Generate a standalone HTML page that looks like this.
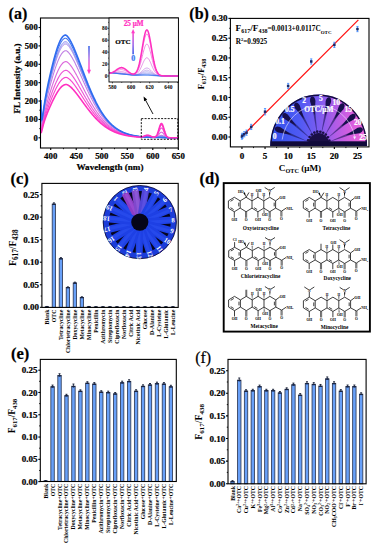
<!DOCTYPE html>
<html><head><meta charset="utf-8"><style>
html,body{margin:0;padding:0;background:#fff;width:378px;height:550px;overflow:hidden;}
svg{display:block;}
text{font-family:"Liberation Serif", serif;}
.tk text, text.tk{stroke:#000;stroke-width:0.25px;}
</style></head><body>
<svg width="378" height="550" viewBox="0 0 378 550">
<defs>
<linearGradient id="garr" x1="0" y1="0" x2="0" y2="1"><stop offset="0" stop-color="#3060e8"/><stop offset="0.5" stop-color="#b070e6"/><stop offset="0.8" stop-color="#ff50d0"/><stop offset="1" stop-color="#ff3ec8"/></linearGradient>
<linearGradient id="garr2" x1="0" y1="1" x2="0" y2="0"><stop offset="0" stop-color="#2a50e8"/><stop offset="0.45" stop-color="#9a60e8"/><stop offset="1" stop-color="#ff3ec8"/></linearGradient>
<clipPath id="clipa"><rect x="40.5" y="18.0" width="137.8" height="130.0"/></clipPath>
</defs>
<g clip-path="url(#clipa)">
<path d="M40.96,122.21 L41.21,125.26 L41.47,125.90 L41.72,125.33 L41.98,124.15 L42.24,122.69 L42.49,121.11 L42.75,119.51 L43.00,117.92 L43.26,116.37 L43.51,114.86 L43.77,113.39 L44.02,111.97 L44.28,110.59 L44.53,109.25 L44.79,107.95 L45.04,106.68 L45.30,105.45 L45.55,104.24 L45.81,103.06 L46.06,101.90 L46.32,100.77 L46.57,99.65 L46.83,98.56 L47.08,97.48 L47.34,96.42 L47.59,95.37 L47.85,94.34 L48.10,93.32 L48.36,92.31 L48.62,91.31 L48.87,90.33 L49.13,89.35 L49.38,88.38 L49.64,87.42 L49.89,86.47 L50.15,85.53 L50.40,84.59 L50.66,83.67 L50.91,82.75 L51.17,81.84 L51.42,80.93 L51.68,80.04 L51.93,79.15 L52.19,78.27 L52.44,77.39 L52.70,76.53 L52.95,75.67 L53.21,74.82 L53.46,73.98 L53.72,73.15 L53.97,72.33 L54.23,71.52 L54.48,70.72 L54.74,69.93 L55.00,69.15 L55.25,68.38 L55.51,67.62 L55.76,66.87 L56.02,66.13 L56.27,65.41 L56.53,64.70 L56.78,64.01 L57.04,63.32 L57.29,62.65 L57.55,62.00 L57.80,61.36 L58.06,60.73 L58.31,60.13 L58.57,59.53 L58.82,58.96 L59.08,58.40 L59.33,57.85 L59.59,57.33 L59.84,56.82 L60.10,56.33 L60.35,55.86 L60.61,55.41 L60.86,54.97 L61.12,54.56 L61.38,54.17 L61.63,53.79 L61.89,53.44 L62.14,53.11 L62.40,52.79 L62.65,52.50 L62.91,52.23 L63.16,51.98 L63.42,51.76 L63.67,51.55 L63.93,51.37 L64.18,51.21 L64.44,51.07 L64.69,50.95 L64.95,50.85 L65.20,50.78 L65.46,50.73 L65.71,50.71 L65.97,50.70 L66.22,50.76 L66.48,50.86 L66.73,50.99 L66.99,51.15 L67.24,51.32 L67.50,51.52 L67.76,51.74 L68.01,51.98 L68.27,52.23 L68.52,52.50 L68.78,52.79 L69.03,53.09 L69.29,53.40 L69.54,53.73 L69.80,54.07 L70.05,54.42 L70.31,54.78 L70.56,55.15 L70.82,55.54 L71.07,55.93 L71.33,56.34 L71.58,56.75 L71.84,57.18 L72.09,57.61 L72.35,58.05 L72.60,58.50 L72.86,58.96 L73.11,59.42 L73.37,59.89 L73.62,60.37 L73.88,60.85 L74.14,61.34 L74.39,61.84 L74.65,62.34 L74.90,62.85 L75.16,63.36 L75.41,63.88 L75.67,64.41 L75.92,64.93 L76.18,65.46 L76.43,66.00 L76.69,66.54 L76.94,67.08 L77.20,67.63 L77.45,68.18 L77.71,68.73 L77.96,69.28 L78.22,69.84 L78.47,70.40 L78.73,70.96 L78.98,71.53 L79.24,72.09 L79.49,72.66 L79.75,73.23 L80.00,73.80 L80.26,74.37 L80.52,74.94 L80.77,75.52 L81.03,76.09 L81.28,76.66 L81.54,77.24 L81.79,77.81 L82.05,78.39 L82.30,78.96 L82.56,79.54 L82.81,80.11 L83.07,80.68 L83.32,81.26 L83.58,81.83 L83.83,82.40 L84.09,82.97 L84.34,83.54 L84.60,84.10 L84.85,84.67 L85.11,85.24 L85.36,85.80 L85.62,86.36 L85.87,86.92 L86.13,87.48 L86.38,88.04 L86.64,88.59 L86.90,89.14 L87.15,89.69 L87.41,90.24 L87.66,90.78 L87.92,91.33 L88.17,91.87 L88.43,92.40 L88.68,92.94 L88.94,93.47 L89.19,94.00 L89.45,94.52 L89.70,95.05 L89.96,95.57 L90.21,96.09 L90.47,96.60 L90.72,97.11 L90.98,97.62 L91.23,98.12 L91.49,98.62 L91.74,99.12 L92.00,99.62 L92.25,100.11 L92.51,100.59 L92.76,101.08 L93.02,101.56 L93.28,102.03 L93.53,102.51 L93.79,102.98 L94.04,103.44 L94.30,103.90 L94.55,104.36 L94.81,104.82 L95.06,105.27 L95.32,105.71 L95.57,106.15 L95.83,106.59 L96.08,107.03 L96.34,107.46 L96.59,107.89 L96.85,108.31 L97.10,108.73 L97.36,109.15 L97.61,109.56 L97.87,109.96 L98.12,110.37 L98.38,110.77 L98.63,111.16 L98.89,111.55 L99.14,111.94 L99.40,112.33 L99.66,112.70 L99.91,113.08 L100.17,113.45 L100.42,113.82 L100.68,114.18 L100.93,114.54 L101.19,114.90 L101.44,115.25 L101.70,115.60 L101.95,115.94 L102.21,116.28 L102.46,116.62 L102.72,116.95 L102.97,117.28 L103.23,117.61 L103.48,117.93 L103.74,118.24 L103.99,118.56 L104.25,118.87 L104.50,119.17 L104.76,119.47 L105.01,119.77 L105.27,120.07 L105.52,120.36 L105.78,120.65 L106.04,120.93 L106.29,121.21 L106.55,121.49 L106.80,121.76 L107.06,122.03 L107.31,122.29 L107.57,122.55 L107.82,122.81 L108.08,123.07 L108.33,123.32 L108.59,123.57 L108.84,123.81 L109.10,124.05 L109.35,124.29 L109.61,124.53 L109.86,124.76 L110.12,124.99 L110.37,125.21 L110.63,125.43 L110.88,125.65 L111.14,125.87 L111.39,126.08 L111.65,126.29 L111.90,126.50 L112.16,126.70 L112.42,126.90 L112.67,127.10 L112.93,127.29 L113.18,127.48 L113.44,127.67 L113.69,127.86 L113.95,128.04 L114.20,128.22 L114.46,128.40 L114.71,128.57 L114.97,128.75 L115.22,128.91 L115.48,129.08 L115.73,129.24 L115.99,129.41 L116.24,129.57 L116.50,129.72 L116.75,129.88 L117.01,130.03 L117.26,130.18 L117.52,130.32 L117.77,130.47 L118.03,130.61 L118.28,130.75 L118.54,130.88 L118.80,131.02 L119.05,131.15 L119.31,131.28 L119.56,131.41 L119.82,131.54 L120.07,131.66 L120.33,131.78 L120.58,131.90 L120.84,132.02 L121.09,132.13 L121.35,132.25 L121.60,132.36 L121.86,132.47 L122.11,132.58 L122.37,132.68 L122.62,132.79 L122.88,132.89 L123.13,132.99 L123.39,133.09 L123.64,133.18 L123.90,133.28 L124.15,133.37 L124.41,133.46 L124.66,133.55 L124.92,133.64 L125.18,133.73 L125.43,133.81 L125.69,133.90 L125.94,133.98 L126.20,134.06 L126.45,134.14 L126.71,134.22 L126.96,134.29 L127.22,134.37 L127.47,134.44 L127.73,134.51 L127.98,134.58 L128.24,134.65 L128.49,134.72 L128.75,134.79 L129.00,134.85 L129.26,134.91 L129.51,134.98 L129.77,135.04 L130.02,135.10 L130.28,135.16 L130.53,135.22 L130.79,135.27 L131.04,135.33 L131.30,135.38 L131.56,135.44 L131.81,135.49 L132.07,135.54 L132.32,135.59 L132.58,135.64 L132.83,135.69 L133.09,135.74 L133.34,135.78 L133.60,135.83 L133.85,135.87 L134.11,135.92 L134.36,135.96 L134.62,136.00 L134.87,136.04 L135.13,136.08 L135.38,136.12 L135.64,136.16 L135.89,136.20 L136.15,136.23 L136.40,136.27 L136.66,136.31 L136.91,136.34 L137.17,136.37 L137.42,136.41 L137.68,136.44 L137.94,136.47 L138.19,136.50 L138.45,136.53 L138.70,136.56 L138.96,136.59 L139.21,136.61 L139.47,136.64 L139.72,136.66 L139.98,136.69 L140.23,136.71 L140.49,136.73 L140.74,136.75 L141.00,136.77 L141.25,136.79 L141.51,136.80 L141.76,136.82 L142.02,136.83 L142.27,136.84 L142.53,136.85 L142.78,136.86 L143.04,136.86 L143.29,136.87 L143.55,136.87 L143.80,136.87 L144.06,136.87 L144.32,136.87 L144.57,136.87 L144.83,136.87 L145.08,136.87 L145.34,136.87 L145.59,136.87 L145.85,136.87 L146.10,136.87 L146.36,136.87 L146.61,136.87 L146.87,136.88 L147.12,136.89 L147.38,136.89 L147.63,136.91 L147.89,136.92 L148.14,136.94 L148.40,136.96 L148.65,136.98 L148.91,137.00 L149.16,137.02 L149.42,137.05 L149.67,137.07 L149.93,137.10 L150.18,137.13 L150.44,137.16 L150.70,137.19 L150.95,137.22 L151.21,137.24 L151.46,137.27 L151.72,137.30 L151.97,137.32 L152.23,137.35 L152.48,137.37 L152.74,137.39 L152.99,137.41 L153.25,137.42 L153.50,137.44 L153.76,137.45 L154.01,137.46 L154.27,137.46 L154.52,137.46 L154.78,137.45 L155.03,137.44 L155.29,137.43 L155.54,137.41 L155.80,137.38 L156.05,137.34 L156.31,137.29 L156.56,137.23 L156.82,137.16 L157.08,137.09 L157.33,137.00 L157.59,136.89 L157.84,136.78 L158.10,136.66 L158.35,136.54 L158.61,136.40 L158.86,136.27 L159.12,136.13 L159.37,135.99 L159.63,135.86 L159.88,135.74 L160.14,135.63 L160.39,135.53 L160.65,135.45 L160.90,135.39 L161.16,135.36 L161.41,135.34 L161.67,135.35 L161.92,135.39 L162.18,135.45 L162.43,135.52 L162.69,135.62 L162.94,135.73 L163.20,135.86 L163.46,135.99 L163.71,136.13 L163.97,136.28 L164.22,136.42 L164.48,136.57 L164.73,136.70 L164.99,136.83 L165.24,136.96 L165.50,137.07 L165.75,137.17 L166.01,137.26 L166.26,137.34 L166.52,137.42 L166.77,137.48 L167.03,137.53 L167.28,137.57 L167.54,137.61 L167.79,137.64 L168.05,137.66 L168.30,137.68 L168.56,137.70 L168.81,137.71 L169.07,137.72 L169.32,137.73 L169.58,137.74 L169.84,137.74 L170.09,137.75 L170.35,137.75 L170.60,137.75 L170.86,137.76 L171.11,137.76 L171.37,137.76 L171.62,137.76 L171.88,137.76 L172.13,137.76 L172.39,137.76 L172.64,137.77 L172.90,137.77 L173.15,137.77 L173.41,137.77 L173.66,137.77 L173.92,137.77 L174.17,137.77 L174.43,137.77 L174.68,137.77 L174.94,137.77 L175.19,137.77 L175.45,137.78 L175.70,137.78 L175.96,137.78 L176.22,137.78 L176.47,137.78 L176.73,137.78 L176.98,137.78 L177.24,137.78 L177.49,137.78 L177.75,137.78 L178.00,137.78 L178.26,137.78 L178.51,137.78 L178.77,137.78 L179.02,137.78 L179.28,137.78" stroke="#c080e4" stroke-width="1.1" fill="none" stroke-linejoin="round"/>
<path d="M40.96,118.31 L41.21,122.85 L41.47,124.20 L41.72,123.92 L41.98,122.82 L42.24,121.34 L42.49,119.69 L42.75,117.98 L43.00,116.28 L43.26,114.61 L43.51,112.98 L43.77,111.40 L44.02,109.86 L44.28,108.37 L44.53,106.93 L44.79,105.52 L45.04,104.15 L45.30,102.82 L45.55,101.52 L45.81,100.24 L46.06,98.99 L46.32,97.77 L46.57,96.57 L46.83,95.39 L47.08,94.23 L47.34,93.09 L47.59,91.96 L47.85,90.85 L48.10,89.75 L48.36,88.66 L48.62,87.59 L48.87,86.53 L49.13,85.47 L49.38,84.43 L49.64,83.40 L49.89,82.38 L50.15,81.37 L50.40,80.36 L50.66,79.37 L50.91,78.38 L51.17,77.40 L51.42,76.43 L51.68,75.47 L51.93,74.51 L52.19,73.57 L52.44,72.63 L52.70,71.70 L52.95,70.78 L53.21,69.87 L53.46,68.97 L53.72,68.08 L53.97,67.20 L54.23,66.33 L54.48,65.47 L54.74,64.62 L55.00,63.79 L55.25,62.96 L55.51,62.15 L55.76,61.35 L56.02,60.57 L56.27,59.79 L56.53,59.03 L56.78,58.29 L57.04,57.56 L57.29,56.85 L57.55,56.15 L57.80,55.46 L58.06,54.80 L58.31,54.15 L58.57,53.52 L58.82,52.90 L59.08,52.31 L59.33,51.73 L59.59,51.17 L59.84,50.63 L60.10,50.11 L60.35,49.61 L60.61,49.13 L60.86,48.67 L61.12,48.23 L61.38,47.81 L61.63,47.42 L61.89,47.05 L62.14,46.69 L62.40,46.37 L62.65,46.06 L62.91,45.78 L63.16,45.52 L63.42,45.28 L63.67,45.06 L63.93,44.87 L64.18,44.71 L64.44,44.57 L64.69,44.45 L64.95,44.35 L65.20,44.28 L65.46,44.24 L65.71,44.21 L65.97,44.23 L66.22,44.31 L66.48,44.43 L66.73,44.57 L66.99,44.75 L67.24,44.95 L67.50,45.17 L67.76,45.41 L68.01,45.67 L68.27,45.94 L68.52,46.24 L68.78,46.55 L69.03,46.88 L69.29,47.22 L69.54,47.57 L69.80,47.94 L70.05,48.32 L70.31,48.72 L70.56,49.12 L70.82,49.54 L71.07,49.97 L71.33,50.40 L71.58,50.85 L71.84,51.31 L72.09,51.78 L72.35,52.25 L72.60,52.74 L72.86,53.23 L73.11,53.73 L73.37,54.24 L73.62,54.76 L73.88,55.28 L74.14,55.81 L74.39,56.34 L74.65,56.89 L74.90,57.43 L75.16,57.99 L75.41,58.54 L75.67,59.11 L75.92,59.68 L76.18,60.25 L76.43,60.82 L76.69,61.40 L76.94,61.99 L77.20,62.58 L77.45,63.17 L77.71,63.76 L77.96,64.36 L78.22,64.96 L78.47,65.56 L78.73,66.17 L78.98,66.77 L79.24,67.38 L79.49,67.99 L79.75,68.60 L80.00,69.22 L80.26,69.83 L80.52,70.45 L80.77,71.06 L81.03,71.68 L81.28,72.29 L81.54,72.91 L81.79,73.53 L82.05,74.15 L82.30,74.76 L82.56,75.38 L82.81,76.00 L83.07,76.61 L83.32,77.23 L83.58,77.84 L83.83,78.46 L84.09,79.07 L84.34,79.68 L84.60,80.29 L84.85,80.90 L85.11,81.50 L85.36,82.11 L85.62,82.71 L85.87,83.31 L86.13,83.91 L86.38,84.51 L86.64,85.10 L86.90,85.69 L87.15,86.28 L87.41,86.87 L87.66,87.46 L87.92,88.04 L88.17,88.62 L88.43,89.19 L88.68,89.77 L88.94,90.34 L89.19,90.91 L89.45,91.47 L89.70,92.03 L89.96,92.59 L90.21,93.14 L90.47,93.70 L90.72,94.24 L90.98,94.79 L91.23,95.33 L91.49,95.87 L91.74,96.40 L92.00,96.93 L92.25,97.46 L92.51,97.98 L92.76,98.50 L93.02,99.01 L93.28,99.52 L93.53,100.03 L93.79,100.53 L94.04,101.03 L94.30,101.53 L94.55,102.02 L94.81,102.50 L95.06,102.99 L95.32,103.47 L95.57,103.94 L95.83,104.41 L96.08,104.88 L96.34,105.34 L96.59,105.80 L96.85,106.25 L97.10,106.70 L97.36,107.14 L97.61,107.58 L97.87,108.02 L98.12,108.45 L98.38,108.88 L98.63,109.30 L98.89,109.72 L99.14,110.14 L99.40,110.55 L99.66,110.96 L99.91,111.36 L100.17,111.76 L100.42,112.15 L100.68,112.54 L100.93,112.93 L101.19,113.31 L101.44,113.68 L101.70,114.06 L101.95,114.43 L102.21,114.79 L102.46,115.15 L102.72,115.51 L102.97,115.86 L103.23,116.21 L103.48,116.55 L103.74,116.89 L103.99,117.22 L104.25,117.56 L104.50,117.88 L104.76,118.21 L105.01,118.53 L105.27,118.84 L105.52,119.15 L105.78,119.46 L106.04,119.76 L106.29,120.06 L106.55,120.36 L106.80,120.65 L107.06,120.94 L107.31,121.22 L107.57,121.50 L107.82,121.78 L108.08,122.05 L108.33,122.32 L108.59,122.59 L108.84,122.85 L109.10,123.11 L109.35,123.36 L109.61,123.61 L109.86,123.86 L110.12,124.11 L110.37,124.35 L110.63,124.58 L110.88,124.82 L111.14,125.05 L111.39,125.28 L111.65,125.50 L111.90,125.72 L112.16,125.94 L112.42,126.15 L112.67,126.36 L112.93,126.57 L113.18,126.78 L113.44,126.98 L113.69,127.18 L113.95,127.37 L114.20,127.57 L114.46,127.76 L114.71,127.94 L114.97,128.13 L115.22,128.31 L115.48,128.48 L115.73,128.66 L115.99,128.83 L116.24,129.00 L116.50,129.17 L116.75,129.33 L117.01,129.50 L117.26,129.65 L117.52,129.81 L117.77,129.97 L118.03,130.12 L118.28,130.27 L118.54,130.41 L118.80,130.56 L119.05,130.70 L119.31,130.84 L119.56,130.97 L119.82,131.11 L120.07,131.24 L120.33,131.37 L120.58,131.50 L120.84,131.62 L121.09,131.75 L121.35,131.87 L121.60,131.99 L121.86,132.11 L122.11,132.22 L122.37,132.33 L122.62,132.45 L122.88,132.55 L123.13,132.66 L123.39,132.77 L123.64,132.87 L123.90,132.97 L124.15,133.07 L124.41,133.17 L124.66,133.27 L124.92,133.36 L125.18,133.45 L125.43,133.54 L125.69,133.63 L125.94,133.72 L126.20,133.81 L126.45,133.89 L126.71,133.97 L126.96,134.05 L127.22,134.13 L127.47,134.21 L127.73,134.29 L127.98,134.36 L128.24,134.44 L128.49,134.51 L128.75,134.58 L129.00,134.65 L129.26,134.72 L129.51,134.79 L129.77,134.85 L130.02,134.92 L130.28,134.98 L130.53,135.04 L130.79,135.10 L131.04,135.16 L131.30,135.22 L131.56,135.28 L131.81,135.33 L132.07,135.39 L132.32,135.44 L132.58,135.50 L132.83,135.55 L133.09,135.60 L133.34,135.65 L133.60,135.70 L133.85,135.74 L134.11,135.79 L134.36,135.84 L134.62,135.88 L134.87,135.92 L135.13,135.97 L135.38,136.01 L135.64,136.05 L135.89,136.09 L136.15,136.13 L136.40,136.17 L136.66,136.21 L136.91,136.24 L137.17,136.28 L137.42,136.31 L137.68,136.35 L137.94,136.38 L138.19,136.42 L138.45,136.45 L138.70,136.48 L138.96,136.51 L139.21,136.54 L139.47,136.57 L139.72,136.59 L139.98,136.62 L140.23,136.64 L140.49,136.67 L140.74,136.69 L141.00,136.71 L141.25,136.74 L141.51,136.75 L141.76,136.77 L142.02,136.79 L142.27,136.81 L142.53,136.82 L142.78,136.83 L143.04,136.84 L143.29,136.85 L143.55,136.86 L143.80,136.87 L144.06,136.88 L144.32,136.89 L144.57,136.89 L144.83,136.90 L145.08,136.90 L145.34,136.91 L145.59,136.91 L145.85,136.92 L146.10,136.92 L146.36,136.93 L146.61,136.94 L146.87,136.95 L147.12,136.96 L147.38,136.97 L147.63,136.98 L147.89,137.00 L148.14,137.01 L148.40,137.03 L148.65,137.05 L148.91,137.07 L149.16,137.09 L149.42,137.11 L149.67,137.13 L149.93,137.16 L150.18,137.18 L150.44,137.21 L150.70,137.23 L150.95,137.25 L151.21,137.28 L151.46,137.30 L151.72,137.32 L151.97,137.34 L152.23,137.36 L152.48,137.38 L152.74,137.40 L152.99,137.41 L153.25,137.43 L153.50,137.44 L153.76,137.45 L154.01,137.46 L154.27,137.46 L154.52,137.47 L154.78,137.47 L155.03,137.46 L155.29,137.45 L155.54,137.44 L155.80,137.42 L156.05,137.39 L156.31,137.36 L156.56,137.32 L156.82,137.28 L157.08,137.22 L157.33,137.16 L157.59,137.09 L157.84,137.02 L158.10,136.93 L158.35,136.84 L158.61,136.75 L158.86,136.66 L159.12,136.56 L159.37,136.46 L159.63,136.37 L159.88,136.29 L160.14,136.21 L160.39,136.14 L160.65,136.09 L160.90,136.05 L161.16,136.02 L161.41,136.02 L161.67,136.02 L161.92,136.05 L162.18,136.09 L162.43,136.15 L162.69,136.22 L162.94,136.30 L163.20,136.39 L163.46,136.48 L163.71,136.58 L163.97,136.69 L164.22,136.79 L164.48,136.89 L164.73,136.99 L164.99,137.09 L165.24,137.17 L165.50,137.25 L165.75,137.33 L166.01,137.39 L166.26,137.45 L166.52,137.50 L166.77,137.55 L167.03,137.58 L167.28,137.62 L167.54,137.64 L167.79,137.66 L168.05,137.68 L168.30,137.70 L168.56,137.71 L168.81,137.72 L169.07,137.73 L169.32,137.73 L169.58,137.74 L169.84,137.74 L170.09,137.75 L170.35,137.75 L170.60,137.75 L170.86,137.75 L171.11,137.76 L171.37,137.76 L171.62,137.76 L171.88,137.76 L172.13,137.76 L172.39,137.76 L172.64,137.76 L172.90,137.76 L173.15,137.77 L173.41,137.77 L173.66,137.77 L173.92,137.77 L174.17,137.77 L174.43,137.77 L174.68,137.77 L174.94,137.77 L175.19,137.77 L175.45,137.77 L175.70,137.77 L175.96,137.78 L176.22,137.78 L176.47,137.78 L176.73,137.78 L176.98,137.78 L177.24,137.78 L177.49,137.78 L177.75,137.78 L178.00,137.78 L178.26,137.78 L178.51,137.78 L178.77,137.78 L179.02,137.78 L179.28,137.78" stroke="#b090e8" stroke-width="1" fill="none" stroke-linejoin="round"/>
<path d="M40.96,114.30 L41.21,120.63 L41.47,122.91 L41.72,123.09 L41.98,122.23 L42.24,120.84 L42.49,119.23 L42.75,117.52 L43.00,115.81 L43.26,114.11 L43.51,112.46 L43.77,110.85 L44.02,109.28 L44.28,107.77 L44.53,106.29 L44.79,104.86 L45.04,103.47 L45.30,102.11 L45.55,100.78 L45.81,99.49 L46.06,98.22 L46.32,96.97 L46.57,95.75 L46.83,94.55 L47.08,93.37 L47.34,92.21 L47.59,91.06 L47.85,89.93 L48.10,88.82 L48.36,87.71 L48.62,86.62 L48.87,85.54 L49.13,84.48 L49.38,83.42 L49.64,82.37 L49.89,81.34 L50.15,80.31 L50.40,79.29 L50.66,78.28 L50.91,77.28 L51.17,76.28 L51.42,75.30 L51.68,74.33 L51.93,73.36 L52.19,72.40 L52.44,71.45 L52.70,70.51 L52.95,69.58 L53.21,68.66 L53.46,67.75 L53.72,66.85 L53.97,65.96 L54.23,65.08 L54.48,64.21 L54.74,63.36 L55.00,62.51 L55.25,61.68 L55.51,60.86 L55.76,60.05 L56.02,59.26 L56.27,58.48 L56.53,57.71 L56.78,56.96 L57.04,56.23 L57.29,55.51 L57.55,54.80 L57.80,54.11 L58.06,53.44 L58.31,52.79 L58.57,52.15 L58.82,51.54 L59.08,50.94 L59.33,50.36 L59.59,49.80 L59.84,49.25 L60.10,48.73 L60.35,48.23 L60.61,47.75 L60.86,47.29 L61.12,46.85 L61.38,46.44 L61.63,46.04 L61.89,45.67 L62.14,45.32 L62.40,45.00 L62.65,44.69 L62.91,44.41 L63.16,44.15 L63.42,43.92 L63.67,43.71 L63.93,43.53 L64.18,43.36 L64.44,43.23 L64.69,43.11 L64.95,43.03 L65.20,42.96 L65.46,42.92 L65.71,42.91 L65.97,42.94 L66.22,43.04 L66.48,43.17 L66.73,43.32 L66.99,43.51 L67.24,43.72 L67.50,43.95 L67.76,44.20 L68.01,44.46 L68.27,44.75 L68.52,45.06 L68.78,45.38 L69.03,45.71 L69.29,46.06 L69.54,46.42 L69.80,46.80 L70.05,47.19 L70.31,47.60 L70.56,48.01 L70.82,48.44 L71.07,48.87 L71.33,49.32 L71.58,49.78 L71.84,50.25 L72.09,50.72 L72.35,51.21 L72.60,51.70 L72.86,52.20 L73.11,52.71 L73.37,53.23 L73.62,53.76 L73.88,54.29 L74.14,54.83 L74.39,55.37 L74.65,55.92 L74.90,56.48 L75.16,57.04 L75.41,57.61 L75.67,58.18 L75.92,58.76 L76.18,59.34 L76.43,59.93 L76.69,60.52 L76.94,61.11 L77.20,61.71 L77.45,62.31 L77.71,62.91 L77.96,63.52 L78.22,64.13 L78.47,64.74 L78.73,65.35 L78.98,65.97 L79.24,66.59 L79.49,67.20 L79.75,67.82 L80.00,68.45 L80.26,69.07 L80.52,69.69 L80.77,70.32 L81.03,70.94 L81.28,71.57 L81.54,72.19 L81.79,72.82 L82.05,73.45 L82.30,74.07 L82.56,74.70 L82.81,75.32 L83.07,75.95 L83.32,76.57 L83.58,77.19 L83.83,77.81 L84.09,78.43 L84.34,79.05 L84.60,79.67 L84.85,80.29 L85.11,80.90 L85.36,81.51 L85.62,82.13 L85.87,82.73 L86.13,83.34 L86.38,83.94 L86.64,84.55 L86.90,85.15 L87.15,85.74 L87.41,86.34 L87.66,86.93 L87.92,87.52 L88.17,88.11 L88.43,88.69 L88.68,89.27 L88.94,89.85 L89.19,90.42 L89.45,91.00 L89.70,91.56 L89.96,92.13 L90.21,92.69 L90.47,93.25 L90.72,93.80 L90.98,94.35 L91.23,94.90 L91.49,95.44 L91.74,95.98 L92.00,96.52 L92.25,97.05 L92.51,97.58 L92.76,98.11 L93.02,98.63 L93.28,99.14 L93.53,99.66 L93.79,100.16 L94.04,100.67 L94.30,101.17 L94.55,101.67 L94.81,102.16 L95.06,102.65 L95.32,103.13 L95.57,103.61 L95.83,104.09 L96.08,104.56 L96.34,105.03 L96.59,105.49 L96.85,105.95 L97.10,106.40 L97.36,106.85 L97.61,107.30 L97.87,107.74 L98.12,108.17 L98.38,108.61 L98.63,109.04 L98.89,109.46 L99.14,109.88 L99.40,110.29 L99.66,110.71 L99.91,111.11 L100.17,111.51 L100.42,111.91 L100.68,112.31 L100.93,112.70 L101.19,113.08 L101.44,113.46 L101.70,113.84 L101.95,114.21 L102.21,114.58 L102.46,114.94 L102.72,115.30 L102.97,115.66 L103.23,116.01 L103.48,116.36 L103.74,116.70 L103.99,117.04 L104.25,117.37 L104.50,117.70 L104.76,118.03 L105.01,118.35 L105.27,118.67 L105.52,118.99 L105.78,119.30 L106.04,119.60 L106.29,119.91 L106.55,120.20 L106.80,120.50 L107.06,120.79 L107.31,121.08 L107.57,121.36 L107.82,121.64 L108.08,121.92 L108.33,122.19 L108.59,122.46 L108.84,122.72 L109.10,122.98 L109.35,123.24 L109.61,123.49 L109.86,123.74 L110.12,123.99 L110.37,124.23 L110.63,124.47 L110.88,124.71 L111.14,124.94 L111.39,125.17 L111.65,125.40 L111.90,125.62 L112.16,125.84 L112.42,126.06 L112.67,126.27 L112.93,126.48 L113.18,126.68 L113.44,126.89 L113.69,127.09 L113.95,127.29 L114.20,127.48 L114.46,127.67 L114.71,127.86 L114.97,128.05 L115.22,128.23 L115.48,128.41 L115.73,128.59 L115.99,128.76 L116.24,128.93 L116.50,129.10 L116.75,129.27 L117.01,129.43 L117.26,129.59 L117.52,129.75 L117.77,129.90 L118.03,130.06 L118.28,130.21 L118.54,130.35 L118.80,130.50 L119.05,130.64 L119.31,130.78 L119.56,130.92 L119.82,131.06 L120.07,131.19 L120.33,131.32 L120.58,131.45 L120.84,131.58 L121.09,131.70 L121.35,131.82 L121.60,131.94 L121.86,132.06 L122.11,132.18 L122.37,132.29 L122.62,132.40 L122.88,132.51 L123.13,132.62 L123.39,132.73 L123.64,132.83 L123.90,132.94 L124.15,133.04 L124.41,133.13 L124.66,133.23 L124.92,133.33 L125.18,133.42 L125.43,133.51 L125.69,133.60 L125.94,133.69 L126.20,133.78 L126.45,133.86 L126.71,133.95 L126.96,134.03 L127.22,134.11 L127.47,134.19 L127.73,134.26 L127.98,134.34 L128.24,134.41 L128.49,134.49 L128.75,134.56 L129.00,134.63 L129.26,134.70 L129.51,134.77 L129.77,134.83 L130.02,134.90 L130.28,134.96 L130.53,135.02 L130.79,135.08 L131.04,135.14 L131.30,135.20 L131.56,135.26 L131.81,135.32 L132.07,135.37 L132.32,135.43 L132.58,135.48 L132.83,135.53 L133.09,135.58 L133.34,135.63 L133.60,135.68 L133.85,135.73 L134.11,135.78 L134.36,135.82 L134.62,135.87 L134.87,135.91 L135.13,135.95 L135.38,136.00 L135.64,136.04 L135.89,136.08 L136.15,136.12 L136.40,136.16 L136.66,136.20 L136.91,136.23 L137.17,136.27 L137.42,136.30 L137.68,136.34 L137.94,136.37 L138.19,136.41 L138.45,136.44 L138.70,136.47 L138.96,136.50 L139.21,136.53 L139.47,136.56 L139.72,136.59 L139.98,136.62 L140.23,136.64 L140.49,136.67 L140.74,136.69 L141.00,136.71 L141.25,136.74 L141.51,136.76 L141.76,136.78 L142.02,136.80 L142.27,136.82 L142.53,136.83 L142.78,136.85 L143.04,136.86 L143.29,136.88 L143.55,136.89 L143.80,136.90 L144.06,136.91 L144.32,136.92 L144.57,136.93 L144.83,136.94 L145.08,136.95 L145.34,136.96 L145.59,136.97 L145.85,136.98 L146.10,136.99 L146.36,136.99 L146.61,137.01 L146.87,137.02 L147.12,137.03 L147.38,137.04 L147.63,137.05 L147.89,137.07 L148.14,137.08 L148.40,137.10 L148.65,137.12 L148.91,137.14 L149.16,137.15 L149.42,137.17 L149.67,137.19 L149.93,137.21 L150.18,137.23 L150.44,137.25 L150.70,137.27 L150.95,137.29 L151.21,137.31 L151.46,137.33 L151.72,137.35 L151.97,137.37 L152.23,137.39 L152.48,137.40 L152.74,137.42 L152.99,137.43 L153.25,137.44 L153.50,137.45 L153.76,137.46 L154.01,137.47 L154.27,137.48 L154.52,137.48 L154.78,137.48 L155.03,137.48 L155.29,137.48 L155.54,137.47 L155.80,137.46 L156.05,137.44 L156.31,137.42 L156.56,137.40 L156.82,137.37 L157.08,137.33 L157.33,137.29 L157.59,137.24 L157.84,137.19 L158.10,137.13 L158.35,137.07 L158.61,137.00 L158.86,136.94 L159.12,136.87 L159.37,136.80 L159.63,136.74 L159.88,136.68 L160.14,136.62 L160.39,136.58 L160.65,136.54 L160.90,136.51 L161.16,136.50 L161.41,136.49 L161.67,136.50 L161.92,136.52 L162.18,136.55 L162.43,136.59 L162.69,136.64 L162.94,136.70 L163.20,136.76 L163.46,136.83 L163.71,136.91 L163.97,136.98 L164.22,137.06 L164.48,137.13 L164.73,137.20 L164.99,137.27 L165.24,137.33 L165.50,137.39 L165.75,137.44 L166.01,137.49 L166.26,137.53 L166.52,137.57 L166.77,137.60 L167.03,137.63 L167.28,137.65 L167.54,137.67 L167.79,137.69 L168.05,137.70 L168.30,137.71 L168.56,137.72 L168.81,137.73 L169.07,137.73 L169.32,137.74 L169.58,137.74 L169.84,137.74 L170.09,137.75 L170.35,137.75 L170.60,137.75 L170.86,137.75 L171.11,137.76 L171.37,137.76 L171.62,137.76 L171.88,137.76 L172.13,137.76 L172.39,137.76 L172.64,137.76 L172.90,137.76 L173.15,137.77 L173.41,137.77 L173.66,137.77 L173.92,137.77 L174.17,137.77 L174.43,137.77 L174.68,137.77 L174.94,137.77 L175.19,137.77 L175.45,137.77 L175.70,137.77 L175.96,137.78 L176.22,137.78 L176.47,137.78 L176.73,137.78 L176.98,137.78 L177.24,137.78 L177.49,137.78 L177.75,137.78 L178.00,137.78 L178.26,137.78 L178.51,137.78 L178.77,137.78 L179.02,137.78 L179.28,137.78" stroke="#a098f0" stroke-width="1" fill="none" stroke-linejoin="round"/>
<path d="M40.96,109.94 L41.21,118.23 L41.47,121.51 L41.72,122.21 L41.98,121.59 L42.24,120.32 L42.49,118.74 L42.75,117.04 L43.00,115.31 L43.26,113.59 L43.51,111.90 L43.77,110.26 L44.02,108.67 L44.28,107.13 L44.53,105.62 L44.79,104.17 L45.04,102.74 L45.30,101.36 L45.55,100.01 L45.81,98.69 L46.06,97.39 L46.32,96.13 L46.57,94.88 L46.83,93.66 L47.08,92.46 L47.34,91.28 L47.59,90.11 L47.85,88.96 L48.10,87.83 L48.36,86.71 L48.62,85.60 L48.87,84.50 L49.13,83.42 L49.38,82.34 L49.64,81.28 L49.89,80.23 L50.15,79.18 L50.40,78.15 L50.66,77.13 L50.91,76.11 L51.17,75.10 L51.42,74.11 L51.68,73.12 L51.93,72.14 L52.19,71.17 L52.44,70.20 L52.70,69.25 L52.95,68.31 L53.21,67.38 L53.46,66.46 L53.72,65.54 L53.97,64.64 L54.23,63.75 L54.48,62.87 L54.74,62.01 L55.00,61.15 L55.25,60.31 L55.51,59.48 L55.76,58.67 L56.02,57.87 L56.27,57.08 L56.53,56.31 L56.78,55.55 L57.04,54.81 L57.29,54.08 L57.55,53.37 L57.80,52.68 L58.06,52.00 L58.31,51.34 L58.57,50.70 L58.82,50.08 L59.08,49.48 L59.33,48.90 L59.59,48.33 L59.84,47.79 L60.10,47.27 L60.35,46.77 L60.61,46.28 L60.86,45.82 L61.12,45.39 L61.38,44.97 L61.63,44.58 L61.89,44.21 L62.14,43.86 L62.40,43.53 L62.65,43.23 L62.91,42.96 L63.16,42.70 L63.42,42.47 L63.67,42.27 L63.93,42.09 L64.18,41.93 L64.44,41.80 L64.69,41.69 L64.95,41.61 L65.20,41.55 L65.46,41.52 L65.71,41.51 L65.97,41.57 L66.22,41.68 L66.48,41.82 L66.73,41.99 L66.99,42.18 L67.24,42.40 L67.50,42.64 L67.76,42.90 L68.01,43.18 L68.27,43.47 L68.52,43.79 L68.78,44.12 L69.03,44.46 L69.29,44.82 L69.54,45.19 L69.80,45.58 L70.05,45.98 L70.31,46.39 L70.56,46.82 L70.82,47.25 L71.07,47.70 L71.33,48.16 L71.58,48.62 L71.84,49.10 L72.09,49.59 L72.35,50.08 L72.60,50.59 L72.86,51.10 L73.11,51.62 L73.37,52.15 L73.62,52.68 L73.88,53.22 L74.14,53.77 L74.39,54.33 L74.65,54.89 L74.90,55.45 L75.16,56.03 L75.41,56.60 L75.67,57.19 L75.92,57.77 L76.18,58.36 L76.43,58.96 L76.69,59.56 L76.94,60.16 L77.20,60.77 L77.45,61.38 L77.71,61.99 L77.96,62.61 L78.22,63.23 L78.47,63.85 L78.73,64.47 L78.98,65.10 L79.24,65.73 L79.49,66.35 L79.75,66.98 L80.00,67.62 L80.26,68.25 L80.52,68.88 L80.77,69.52 L81.03,70.15 L81.28,70.78 L81.54,71.42 L81.79,72.05 L82.05,72.69 L82.30,73.32 L82.56,73.96 L82.81,74.59 L83.07,75.23 L83.32,75.86 L83.58,76.49 L83.83,77.12 L84.09,77.75 L84.34,78.38 L84.60,79.00 L84.85,79.63 L85.11,80.25 L85.36,80.87 L85.62,81.49 L85.87,82.11 L86.13,82.72 L86.38,83.34 L86.64,83.95 L86.90,84.55 L87.15,85.16 L87.41,85.76 L87.66,86.36 L87.92,86.96 L88.17,87.55 L88.43,88.15 L88.68,88.73 L88.94,89.32 L89.19,89.90 L89.45,90.48 L89.70,91.06 L89.96,91.63 L90.21,92.20 L90.47,92.76 L90.72,93.32 L90.98,93.88 L91.23,94.43 L91.49,94.99 L91.74,95.53 L92.00,96.07 L92.25,96.61 L92.51,97.15 L92.76,97.68 L93.02,98.21 L93.28,98.73 L93.53,99.25 L93.79,99.76 L94.04,100.28 L94.30,100.78 L94.55,101.29 L94.81,101.78 L95.06,102.28 L95.32,102.77 L95.57,103.25 L95.83,103.73 L96.08,104.21 L96.34,104.68 L96.59,105.15 L96.85,105.62 L97.10,106.08 L97.36,106.53 L97.61,106.98 L97.87,107.43 L98.12,107.87 L98.38,108.31 L98.63,108.74 L98.89,109.17 L99.14,109.60 L99.40,110.02 L99.66,110.43 L99.91,110.84 L100.17,111.25 L100.42,111.65 L100.68,112.05 L100.93,112.44 L101.19,112.83 L101.44,113.22 L101.70,113.60 L101.95,113.98 L102.21,114.35 L102.46,114.72 L102.72,115.08 L102.97,115.44 L103.23,115.80 L103.48,116.15 L103.74,116.49 L103.99,116.84 L104.25,117.17 L104.50,117.51 L104.76,117.84 L105.01,118.16 L105.27,118.49 L105.52,118.80 L105.78,119.12 L106.04,119.43 L106.29,119.73 L106.55,120.04 L106.80,120.33 L107.06,120.63 L107.31,120.92 L107.57,121.20 L107.82,121.49 L108.08,121.76 L108.33,122.04 L108.59,122.31 L108.84,122.58 L109.10,122.84 L109.35,123.10 L109.61,123.36 L109.86,123.61 L110.12,123.86 L110.37,124.11 L110.63,124.35 L110.88,124.59 L111.14,124.82 L111.39,125.05 L111.65,125.28 L111.90,125.51 L112.16,125.73 L112.42,125.95 L112.67,126.16 L112.93,126.37 L113.18,126.58 L113.44,126.79 L113.69,126.99 L113.95,127.19 L114.20,127.39 L114.46,127.58 L114.71,127.77 L114.97,127.96 L115.22,128.14 L115.48,128.32 L115.73,128.50 L115.99,128.68 L116.24,128.85 L116.50,129.02 L116.75,129.19 L117.01,129.35 L117.26,129.52 L117.52,129.68 L117.77,129.83 L118.03,129.99 L118.28,130.14 L118.54,130.29 L118.80,130.43 L119.05,130.58 L119.31,130.72 L119.56,130.86 L119.82,131.00 L120.07,131.13 L120.33,131.26 L120.58,131.39 L120.84,131.52 L121.09,131.65 L121.35,131.77 L121.60,131.89 L121.86,132.01 L122.11,132.13 L122.37,132.25 L122.62,132.36 L122.88,132.47 L123.13,132.58 L123.39,132.69 L123.64,132.79 L123.90,132.89 L124.15,133.00 L124.41,133.10 L124.66,133.19 L124.92,133.29 L125.18,133.38 L125.43,133.48 L125.69,133.57 L125.94,133.66 L126.20,133.74 L126.45,133.83 L126.71,133.91 L126.96,134.00 L127.22,134.08 L127.47,134.16 L127.73,134.23 L127.98,134.31 L128.24,134.39 L128.49,134.46 L128.75,134.53 L129.00,134.60 L129.26,134.67 L129.51,134.74 L129.77,134.81 L130.02,134.87 L130.28,134.94 L130.53,135.00 L130.79,135.06 L131.04,135.12 L131.30,135.18 L131.56,135.24 L131.81,135.30 L132.07,135.35 L132.32,135.41 L132.58,135.46 L132.83,135.51 L133.09,135.57 L133.34,135.62 L133.60,135.67 L133.85,135.71 L134.11,135.76 L134.36,135.81 L134.62,135.85 L134.87,135.90 L135.13,135.94 L135.38,135.98 L135.64,136.03 L135.89,136.07 L136.15,136.11 L136.40,136.15 L136.66,136.18 L136.91,136.22 L137.17,136.26 L137.42,136.29 L137.68,136.33 L137.94,136.36 L138.19,136.40 L138.45,136.43 L138.70,136.46 L138.96,136.49 L139.21,136.52 L139.47,136.55 L139.72,136.58 L139.98,136.61 L140.23,136.64 L140.49,136.66 L140.74,136.69 L141.00,136.71 L141.25,136.74 L141.51,136.76 L141.76,136.78 L142.02,136.80 L142.27,136.82 L142.53,136.84 L142.78,136.86 L143.04,136.88 L143.29,136.90 L143.55,136.91 L143.80,136.93 L144.06,136.94 L144.32,136.96 L144.57,136.97 L144.83,136.98 L145.08,136.99 L145.34,137.01 L145.59,137.02 L145.85,137.03 L146.10,137.04 L146.36,137.05 L146.61,137.07 L146.87,137.08 L147.12,137.09 L147.38,137.11 L147.63,137.12 L147.89,137.14 L148.14,137.15 L148.40,137.17 L148.65,137.18 L148.91,137.20 L149.16,137.21 L149.42,137.23 L149.67,137.25 L149.93,137.26 L150.18,137.28 L150.44,137.30 L150.70,137.32 L150.95,137.33 L151.21,137.35 L151.46,137.36 L151.72,137.38 L151.97,137.39 L152.23,137.41 L152.48,137.42 L152.74,137.43 L152.99,137.45 L153.25,137.46 L153.50,137.47 L153.76,137.48 L154.01,137.48 L154.27,137.49 L154.52,137.50 L154.78,137.50 L155.03,137.50 L155.29,137.50 L155.54,137.50 L155.80,137.50 L156.05,137.49 L156.31,137.48 L156.56,137.46 L156.82,137.45 L157.08,137.43 L157.33,137.40 L157.59,137.37 L157.84,137.34 L158.10,137.31 L158.35,137.27 L158.61,137.23 L158.86,137.19 L159.12,137.15 L159.37,137.11 L159.63,137.08 L159.88,137.04 L160.14,137.01 L160.39,136.98 L160.65,136.96 L160.90,136.94 L161.16,136.93 L161.41,136.93 L161.67,136.94 L161.92,136.95 L162.18,136.97 L162.43,137.00 L162.69,137.03 L162.94,137.07 L163.20,137.11 L163.46,137.16 L163.71,137.20 L163.97,137.25 L164.22,137.30 L164.48,137.35 L164.73,137.39 L164.99,137.43 L165.24,137.47 L165.50,137.51 L165.75,137.54 L166.01,137.58 L166.26,137.60 L166.52,137.63 L166.77,137.65 L167.03,137.66 L167.28,137.68 L167.54,137.69 L167.79,137.70 L168.05,137.71 L168.30,137.72 L168.56,137.73 L168.81,137.73 L169.07,137.74 L169.32,137.74 L169.58,137.74 L169.84,137.75 L170.09,137.75 L170.35,137.75 L170.60,137.75 L170.86,137.75 L171.11,137.76 L171.37,137.76 L171.62,137.76 L171.88,137.76 L172.13,137.76 L172.39,137.76 L172.64,137.76 L172.90,137.76 L173.15,137.77 L173.41,137.77 L173.66,137.77 L173.92,137.77 L174.17,137.77 L174.43,137.77 L174.68,137.77 L174.94,137.77 L175.19,137.77 L175.45,137.77 L175.70,137.77 L175.96,137.78 L176.22,137.78 L176.47,137.78 L176.73,137.78 L176.98,137.78 L177.24,137.78 L177.49,137.78 L177.75,137.78 L178.00,137.78 L178.26,137.78 L178.51,137.78 L178.77,137.78 L179.02,137.78 L179.28,137.78" stroke="#8a90f0" stroke-width="1" fill="none" stroke-linejoin="round"/>
<path d="M40.96,105.16 L41.21,115.51 L41.47,119.83 L41.72,121.03 L41.98,120.63 L42.24,119.44 L42.49,117.87 L42.75,116.14 L43.00,114.35 L43.26,112.57 L43.51,110.83 L43.77,109.13 L44.02,107.47 L44.28,105.86 L44.53,104.30 L44.79,102.79 L45.04,101.31 L45.30,99.87 L45.55,98.47 L45.81,97.10 L46.06,95.76 L46.32,94.44 L46.57,93.15 L46.83,91.88 L47.08,90.64 L47.34,89.41 L47.59,88.20 L47.85,87.01 L48.10,85.84 L48.36,84.67 L48.62,83.53 L48.87,82.39 L49.13,81.27 L49.38,80.16 L49.64,79.06 L49.89,77.97 L50.15,76.89 L50.40,75.82 L50.66,74.76 L50.91,73.70 L51.17,72.66 L51.42,71.63 L51.68,70.61 L51.93,69.60 L52.19,68.59 L52.44,67.60 L52.70,66.62 L52.95,65.65 L53.21,64.68 L53.46,63.73 L53.72,62.79 L53.97,61.86 L54.23,60.94 L54.48,60.04 L54.74,59.14 L55.00,58.26 L55.25,57.40 L55.51,56.54 L55.76,55.70 L56.02,54.88 L56.27,54.07 L56.53,53.27 L56.78,52.49 L57.04,51.73 L57.29,50.98 L57.55,50.26 L57.80,49.54 L58.06,48.85 L58.31,48.18 L58.57,47.52 L58.82,46.88 L59.08,46.26 L59.33,45.67 L59.59,45.09 L59.84,44.53 L60.10,44.00 L60.35,43.49 L60.61,43.00 L60.86,42.53 L61.12,42.08 L61.38,41.66 L61.63,41.26 L61.89,40.88 L62.14,40.53 L62.40,40.20 L62.65,39.90 L62.91,39.62 L63.16,39.36 L63.42,39.13 L63.67,38.93 L63.93,38.75 L64.18,38.59 L64.44,38.46 L64.69,38.36 L64.95,38.28 L65.20,38.23 L65.46,38.21 L65.71,38.22 L65.97,38.29 L66.22,38.42 L66.48,38.57 L66.73,38.75 L66.99,38.96 L67.24,39.19 L67.50,39.45 L67.76,39.72 L68.01,40.01 L68.27,40.33 L68.52,40.66 L68.78,41.00 L69.03,41.36 L69.29,41.74 L69.54,42.13 L69.80,42.53 L70.05,42.95 L70.31,43.38 L70.56,43.83 L70.82,44.28 L71.07,44.74 L71.33,45.22 L71.58,45.71 L71.84,46.20 L72.09,46.71 L72.35,47.22 L72.60,47.75 L72.86,48.28 L73.11,48.82 L73.37,49.37 L73.62,49.92 L73.88,50.49 L74.14,51.06 L74.39,51.63 L74.65,52.21 L74.90,52.80 L75.16,53.39 L75.41,53.99 L75.67,54.60 L75.92,55.21 L76.18,55.82 L76.43,56.44 L76.69,57.06 L76.94,57.68 L77.20,58.31 L77.45,58.94 L77.71,59.58 L77.96,60.22 L78.22,60.86 L78.47,61.50 L78.73,62.15 L78.98,62.79 L79.24,63.44 L79.49,64.09 L79.75,64.75 L80.00,65.40 L80.26,66.05 L80.52,66.71 L80.77,67.37 L81.03,68.02 L81.28,68.68 L81.54,69.34 L81.79,69.99 L82.05,70.65 L82.30,71.31 L82.56,71.96 L82.81,72.62 L83.07,73.27 L83.32,73.93 L83.58,74.58 L83.83,75.23 L84.09,75.88 L84.34,76.53 L84.60,77.18 L84.85,77.82 L85.11,78.47 L85.36,79.11 L85.62,79.75 L85.87,80.39 L86.13,81.02 L86.38,81.65 L86.64,82.28 L86.90,82.91 L87.15,83.54 L87.41,84.16 L87.66,84.78 L87.92,85.40 L88.17,86.01 L88.43,86.62 L88.68,87.23 L88.94,87.83 L89.19,88.44 L89.45,89.03 L89.70,89.63 L89.96,90.22 L90.21,90.80 L90.47,91.39 L90.72,91.97 L90.98,92.54 L91.23,93.12 L91.49,93.68 L91.74,94.25 L92.00,94.81 L92.25,95.37 L92.51,95.92 L92.76,96.47 L93.02,97.01 L93.28,97.55 L93.53,98.09 L93.79,98.62 L94.04,99.14 L94.30,99.67 L94.55,100.19 L94.81,100.70 L95.06,101.21 L95.32,101.71 L95.57,102.22 L95.83,102.71 L96.08,103.20 L96.34,103.69 L96.59,104.18 L96.85,104.65 L97.10,105.13 L97.36,105.60 L97.61,106.06 L97.87,106.52 L98.12,106.98 L98.38,107.43 L98.63,107.88 L98.89,108.32 L99.14,108.76 L99.40,109.19 L99.66,109.62 L99.91,110.04 L100.17,110.46 L100.42,110.88 L100.68,111.29 L100.93,111.69 L101.19,112.10 L101.44,112.49 L101.70,112.89 L101.95,113.27 L102.21,113.66 L102.46,114.04 L102.72,114.41 L102.97,114.78 L103.23,115.15 L103.48,115.51 L103.74,115.87 L103.99,116.22 L104.25,116.57 L104.50,116.91 L104.76,117.25 L105.01,117.59 L105.27,117.92 L105.52,118.25 L105.78,118.57 L106.04,118.89 L106.29,119.21 L106.55,119.52 L106.80,119.82 L107.06,120.13 L107.31,120.43 L107.57,120.72 L107.82,121.01 L108.08,121.30 L108.33,121.58 L108.59,121.86 L108.84,122.14 L109.10,122.41 L109.35,122.68 L109.61,122.94 L109.86,123.20 L110.12,123.46 L110.37,123.71 L110.63,123.96 L110.88,124.21 L111.14,124.45 L111.39,124.69 L111.65,124.92 L111.90,125.15 L112.16,125.38 L112.42,125.61 L112.67,125.83 L112.93,126.05 L113.18,126.26 L113.44,126.47 L113.69,126.68 L113.95,126.89 L114.20,127.09 L114.46,127.29 L114.71,127.48 L114.97,127.68 L115.22,127.87 L115.48,128.05 L115.73,128.24 L115.99,128.42 L116.24,128.60 L116.50,128.77 L116.75,128.95 L117.01,129.11 L117.26,129.28 L117.52,129.45 L117.77,129.61 L118.03,129.77 L118.28,129.92 L118.54,130.08 L118.80,130.23 L119.05,130.38 L119.31,130.52 L119.56,130.66 L119.82,130.81 L120.07,130.94 L120.33,131.08 L120.58,131.21 L120.84,131.35 L121.09,131.48 L121.35,131.60 L121.60,131.73 L121.86,131.85 L122.11,131.97 L122.37,132.09 L122.62,132.21 L122.88,132.32 L123.13,132.43 L123.39,132.54 L123.64,132.65 L123.90,132.76 L124.15,132.86 L124.41,132.96 L124.66,133.06 L124.92,133.16 L125.18,133.26 L125.43,133.36 L125.69,133.45 L125.94,133.54 L126.20,133.63 L126.45,133.72 L126.71,133.81 L126.96,133.89 L127.22,133.97 L127.47,134.06 L127.73,134.14 L127.98,134.22 L128.24,134.29 L128.49,134.37 L128.75,134.44 L129.00,134.52 L129.26,134.59 L129.51,134.66 L129.77,134.73 L130.02,134.79 L130.28,134.86 L130.53,134.92 L130.79,134.99 L131.04,135.05 L131.30,135.11 L131.56,135.17 L131.81,135.23 L132.07,135.29 L132.32,135.34 L132.58,135.40 L132.83,135.45 L133.09,135.50 L133.34,135.56 L133.60,135.61 L133.85,135.66 L134.11,135.71 L134.36,135.75 L134.62,135.80 L134.87,135.85 L135.13,135.89 L135.38,135.93 L135.64,135.98 L135.89,136.02 L136.15,136.06 L136.40,136.10 L136.66,136.14 L136.91,136.18 L137.17,136.22 L137.42,136.25 L137.68,136.29 L137.94,136.32 L138.19,136.36 L138.45,136.39 L138.70,136.43 L138.96,136.46 L139.21,136.49 L139.47,136.52 L139.72,136.55 L139.98,136.58 L140.23,136.61 L140.49,136.64 L140.74,136.66 L141.00,136.69 L141.25,136.72 L141.51,136.74 L141.76,136.76 L142.02,136.79 L142.27,136.81 L142.53,136.83 L142.78,136.85 L143.04,136.87 L143.29,136.89 L143.55,136.91 L143.80,136.93 L144.06,136.95 L144.32,136.97 L144.57,136.98 L144.83,137.00 L145.08,137.02 L145.34,137.03 L145.59,137.05 L145.85,137.06 L146.10,137.08 L146.36,137.09 L146.61,137.11 L146.87,137.12 L147.12,137.14 L147.38,137.15 L147.63,137.16 L147.89,137.18 L148.14,137.19 L148.40,137.21 L148.65,137.22 L148.91,137.24 L149.16,137.25 L149.42,137.27 L149.67,137.28 L149.93,137.30 L150.18,137.31 L150.44,137.33 L150.70,137.34 L150.95,137.36 L151.21,137.37 L151.46,137.38 L151.72,137.39 L151.97,137.41 L152.23,137.42 L152.48,137.43 L152.74,137.44 L152.99,137.45 L153.25,137.46 L153.50,137.47 L153.76,137.48 L154.01,137.49 L154.27,137.50 L154.52,137.50 L154.78,137.51 L155.03,137.51 L155.29,137.52 L155.54,137.52 L155.80,137.52 L156.05,137.52 L156.31,137.52 L156.56,137.51 L156.82,137.51 L157.08,137.50 L157.33,137.49 L157.59,137.48 L157.84,137.47 L158.10,137.45 L158.35,137.44 L158.61,137.42 L158.86,137.41 L159.12,137.39 L159.37,137.37 L159.63,137.35 L159.88,137.34 L160.14,137.32 L160.39,137.31 L160.65,137.30 L160.90,137.30 L161.16,137.30 L161.41,137.30 L161.67,137.30 L161.92,137.31 L162.18,137.32 L162.43,137.34 L162.69,137.36 L162.94,137.38 L163.20,137.40 L163.46,137.42 L163.71,137.45 L163.97,137.47 L164.22,137.50 L164.48,137.52 L164.73,137.55 L164.99,137.57 L165.24,137.59 L165.50,137.61 L165.75,137.63 L166.01,137.65 L166.26,137.66 L166.52,137.67 L166.77,137.69 L167.03,137.70 L167.28,137.70 L167.54,137.71 L167.79,137.72 L168.05,137.72 L168.30,137.73 L168.56,137.73 L168.81,137.74 L169.07,137.74 L169.32,137.74 L169.58,137.74 L169.84,137.75 L170.09,137.75 L170.35,137.75 L170.60,137.75 L170.86,137.75 L171.11,137.75 L171.37,137.76 L171.62,137.76 L171.88,137.76 L172.13,137.76 L172.39,137.76 L172.64,137.76 L172.90,137.76 L173.15,137.76 L173.41,137.77 L173.66,137.77 L173.92,137.77 L174.17,137.77 L174.43,137.77 L174.68,137.77 L174.94,137.77 L175.19,137.77 L175.45,137.77 L175.70,137.77 L175.96,137.77 L176.22,137.78 L176.47,137.78 L176.73,137.78 L176.98,137.78 L177.24,137.78 L177.49,137.78 L177.75,137.78 L178.00,137.78 L178.26,137.78 L178.51,137.78 L178.77,137.78 L179.02,137.78 L179.28,137.78" stroke="#4a7af0" stroke-width="1.1" fill="none" stroke-linejoin="round"/>
<path d="M40.96,125.90 L41.21,127.77 L41.47,127.92 L41.72,127.21 L41.98,126.07 L42.24,124.74 L42.49,123.34 L42.75,121.93 L43.00,120.54 L43.26,119.19 L43.51,117.87 L43.77,116.59 L44.02,115.36 L44.28,114.15 L44.53,112.99 L44.79,111.85 L45.04,110.75 L45.30,109.67 L45.55,108.62 L45.81,107.59 L46.06,106.58 L46.32,105.59 L46.57,104.62 L46.83,103.67 L47.08,102.73 L47.34,101.80 L47.59,100.89 L47.85,99.99 L48.10,99.10 L48.36,98.21 L48.62,97.34 L48.87,96.48 L49.13,95.63 L49.38,94.78 L49.64,93.94 L49.89,93.11 L50.15,92.29 L50.40,91.47 L50.66,90.66 L50.91,89.86 L51.17,89.06 L51.42,88.27 L51.68,87.48 L51.93,86.70 L52.19,85.93 L52.44,85.17 L52.70,84.41 L52.95,83.66 L53.21,82.92 L53.46,82.18 L53.72,81.45 L53.97,80.73 L54.23,80.02 L54.48,79.32 L54.74,78.62 L55.00,77.94 L55.25,77.26 L55.51,76.59 L55.76,75.94 L56.02,75.29 L56.27,74.66 L56.53,74.03 L56.78,73.42 L57.04,72.82 L57.29,72.23 L57.55,71.65 L57.80,71.09 L58.06,70.54 L58.31,70.00 L58.57,69.48 L58.82,68.97 L59.08,68.48 L59.33,68.00 L59.59,67.53 L59.84,67.08 L60.10,66.65 L60.35,66.23 L60.61,65.83 L60.86,65.45 L61.12,65.08 L61.38,64.73 L61.63,64.40 L61.89,64.09 L62.14,63.79 L62.40,63.51 L62.65,63.25 L62.91,63.01 L63.16,62.78 L63.42,62.58 L63.67,62.39 L63.93,62.23 L64.18,62.08 L64.44,61.95 L64.69,61.85 L64.95,61.76 L65.20,61.69 L65.46,61.64 L65.71,61.61 L65.97,61.60 L66.22,61.63 L66.48,61.71 L66.73,61.82 L66.99,61.95 L67.24,62.10 L67.50,62.27 L67.76,62.45 L68.01,62.65 L68.27,62.87 L68.52,63.10 L68.78,63.35 L69.03,63.61 L69.29,63.88 L69.54,64.16 L69.80,64.45 L70.05,64.76 L70.31,65.07 L70.56,65.40 L70.82,65.73 L71.07,66.07 L71.33,66.43 L71.58,66.79 L71.84,67.15 L72.09,67.53 L72.35,67.91 L72.60,68.30 L72.86,68.70 L73.11,69.11 L73.37,69.52 L73.62,69.93 L73.88,70.35 L74.14,70.78 L74.39,71.21 L74.65,71.65 L74.90,72.10 L75.16,72.54 L75.41,73.00 L75.67,73.45 L75.92,73.91 L76.18,74.38 L76.43,74.84 L76.69,75.31 L76.94,75.79 L77.20,76.26 L77.45,76.74 L77.71,77.23 L77.96,77.71 L78.22,78.20 L78.47,78.69 L78.73,79.18 L78.98,79.67 L79.24,80.17 L79.49,80.66 L79.75,81.16 L80.00,81.66 L80.26,82.16 L80.52,82.66 L80.77,83.16 L81.03,83.66 L81.28,84.16 L81.54,84.67 L81.79,85.17 L82.05,85.67 L82.30,86.17 L82.56,86.68 L82.81,87.18 L83.07,87.68 L83.32,88.18 L83.58,88.68 L83.83,89.18 L84.09,89.68 L84.34,90.18 L84.60,90.68 L84.85,91.17 L85.11,91.67 L85.36,92.16 L85.62,92.65 L85.87,93.14 L86.13,93.63 L86.38,94.12 L86.64,94.60 L86.90,95.09 L87.15,95.57 L87.41,96.05 L87.66,96.52 L87.92,97.00 L88.17,97.47 L88.43,97.94 L88.68,98.41 L88.94,98.88 L89.19,99.34 L89.45,99.80 L89.70,100.26 L89.96,100.72 L90.21,101.17 L90.47,101.62 L90.72,102.07 L90.98,102.51 L91.23,102.96 L91.49,103.39 L91.74,103.83 L92.00,104.26 L92.25,104.69 L92.51,105.12 L92.76,105.55 L93.02,105.97 L93.28,106.38 L93.53,106.80 L93.79,107.21 L94.04,107.62 L94.30,108.02 L94.55,108.43 L94.81,108.82 L95.06,109.22 L95.32,109.61 L95.57,110.00 L95.83,110.38 L96.08,110.77 L96.34,111.14 L96.59,111.52 L96.85,111.89 L97.10,112.26 L97.36,112.62 L97.61,112.98 L97.87,113.34 L98.12,113.69 L98.38,114.05 L98.63,114.39 L98.89,114.74 L99.14,115.08 L99.40,115.41 L99.66,115.75 L99.91,116.08 L100.17,116.40 L100.42,116.72 L100.68,117.04 L100.93,117.36 L101.19,117.67 L101.44,117.98 L101.70,118.29 L101.95,118.59 L102.21,118.89 L102.46,119.18 L102.72,119.47 L102.97,119.76 L103.23,120.05 L103.48,120.33 L103.74,120.61 L103.99,120.88 L104.25,121.16 L104.50,121.42 L104.76,121.69 L105.01,121.95 L105.27,122.21 L105.52,122.46 L105.78,122.72 L106.04,122.97 L106.29,123.21 L106.55,123.45 L106.80,123.69 L107.06,123.93 L107.31,124.16 L107.57,124.39 L107.82,124.62 L108.08,124.84 L108.33,125.07 L108.59,125.28 L108.84,125.50 L109.10,125.71 L109.35,125.92 L109.61,126.13 L109.86,126.33 L110.12,126.53 L110.37,126.73 L110.63,126.92 L110.88,127.12 L111.14,127.31 L111.39,127.49 L111.65,127.68 L111.90,127.86 L112.16,128.04 L112.42,128.21 L112.67,128.39 L112.93,128.56 L113.18,128.72 L113.44,128.89 L113.69,129.05 L113.95,129.21 L114.20,129.37 L114.46,129.53 L114.71,129.68 L114.97,129.83 L115.22,129.98 L115.48,130.13 L115.73,130.27 L115.99,130.41 L116.24,130.55 L116.50,130.69 L116.75,130.83 L117.01,130.96 L117.26,131.09 L117.52,131.22 L117.77,131.35 L118.03,131.47 L118.28,131.59 L118.54,131.71 L118.80,131.83 L119.05,131.95 L119.31,132.06 L119.56,132.18 L119.82,132.29 L120.07,132.40 L120.33,132.50 L120.58,132.61 L120.84,132.71 L121.09,132.81 L121.35,132.91 L121.60,133.01 L121.86,133.11 L122.11,133.20 L122.37,133.29 L122.62,133.39 L122.88,133.48 L123.13,133.56 L123.39,133.65 L123.64,133.74 L123.90,133.82 L124.15,133.90 L124.41,133.98 L124.66,134.06 L124.92,134.14 L125.18,134.22 L125.43,134.29 L125.69,134.36 L125.94,134.44 L126.20,134.51 L126.45,134.58 L126.71,134.64 L126.96,134.71 L127.22,134.78 L127.47,134.84 L127.73,134.90 L127.98,134.97 L128.24,135.03 L128.49,135.09 L128.75,135.15 L129.00,135.20 L129.26,135.26 L129.51,135.31 L129.77,135.37 L130.02,135.42 L130.28,135.47 L130.53,135.52 L130.79,135.57 L131.04,135.62 L131.30,135.67 L131.56,135.72 L131.81,135.77 L132.07,135.81 L132.32,135.85 L132.58,135.90 L132.83,135.94 L133.09,135.98 L133.34,136.02 L133.60,136.06 L133.85,136.10 L134.11,136.14 L134.36,136.18 L134.62,136.22 L134.87,136.25 L135.13,136.29 L135.38,136.32 L135.64,136.36 L135.89,136.39 L136.15,136.42 L136.40,136.45 L136.66,136.48 L136.91,136.51 L137.17,136.54 L137.42,136.57 L137.68,136.60 L137.94,136.63 L138.19,136.65 L138.45,136.68 L138.70,136.70 L138.96,136.72 L139.21,136.74 L139.47,136.76 L139.72,136.78 L139.98,136.80 L140.23,136.81 L140.49,136.82 L140.74,136.83 L141.00,136.84 L141.25,136.85 L141.51,136.85 L141.76,136.85 L142.02,136.84 L142.27,136.84 L142.53,136.83 L142.78,136.81 L143.04,136.80 L143.29,136.78 L143.55,136.76 L143.80,136.73 L144.06,136.71 L144.32,136.68 L144.57,136.65 L144.83,136.62 L145.08,136.59 L145.34,136.57 L145.59,136.54 L145.85,136.52 L146.10,136.49 L146.36,136.48 L146.61,136.46 L146.87,136.45 L147.12,136.45 L147.38,136.45 L147.63,136.46 L147.89,136.47 L148.14,136.49 L148.40,136.52 L148.65,136.55 L148.91,136.58 L149.16,136.62 L149.42,136.67 L149.67,136.71 L149.93,136.76 L150.18,136.81 L150.44,136.87 L150.70,136.92 L150.95,136.97 L151.21,137.02 L151.46,137.07 L151.72,137.12 L151.97,137.17 L152.23,137.21 L152.48,137.25 L152.74,137.29 L152.99,137.32 L153.25,137.34 L153.50,137.36 L153.76,137.38 L154.01,137.39 L154.27,137.38 L154.52,137.37 L154.78,137.35 L155.03,137.32 L155.29,137.27 L155.54,137.21 L155.80,137.13 L156.05,137.03 L156.31,136.91 L156.56,136.76 L156.82,136.59 L157.08,136.40 L157.33,136.18 L157.59,135.94 L157.84,135.67 L158.10,135.38 L158.35,135.07 L158.61,134.74 L158.86,134.41 L159.12,134.08 L159.37,133.75 L159.63,133.44 L159.88,133.14 L160.14,132.87 L160.39,132.64 L160.65,132.45 L160.90,132.31 L161.16,132.22 L161.41,132.18 L161.67,132.20 L161.92,132.27 L162.18,132.40 L162.43,132.58 L162.69,132.80 L162.94,133.06 L163.20,133.36 L163.46,133.67 L163.71,134.00 L163.97,134.34 L164.22,134.68 L164.48,135.01 L164.73,135.34 L164.99,135.64 L165.24,135.93 L165.50,136.19 L165.75,136.43 L166.01,136.64 L166.26,136.83 L166.52,136.99 L166.77,137.13 L167.03,137.25 L167.28,137.36 L167.54,137.44 L167.79,137.51 L168.05,137.56 L168.30,137.61 L168.56,137.64 L168.81,137.67 L169.07,137.70 L169.32,137.71 L169.58,137.73 L169.84,137.74 L170.09,137.74 L170.35,137.75 L170.60,137.75 L170.86,137.76 L171.11,137.76 L171.37,137.76 L171.62,137.76 L171.88,137.77 L172.13,137.77 L172.39,137.77 L172.64,137.77 L172.90,137.77 L173.15,137.77 L173.41,137.77 L173.66,137.77 L173.92,137.77 L174.17,137.77 L174.43,137.78 L174.68,137.78 L174.94,137.78 L175.19,137.78 L175.45,137.78 L175.70,137.78 L175.96,137.78 L176.22,137.78 L176.47,137.78 L176.73,137.78 L176.98,137.78 L177.24,137.78 L177.49,137.78 L177.75,137.78 L178.00,137.78 L178.26,137.78 L178.51,137.79 L178.77,137.79 L179.02,137.79 L179.28,137.79" stroke="#dc6adc" stroke-width="1.15" fill="none" stroke-linejoin="round"/>
<path d="M40.96,129.00 L41.21,129.86 L41.47,129.58 L41.72,128.73 L41.98,127.61 L42.24,126.38 L42.49,125.12 L42.75,123.86 L43.00,122.63 L43.26,121.43 L43.51,120.27 L43.77,119.15 L44.02,118.05 L44.28,117.00 L44.53,115.97 L44.79,114.97 L45.04,113.99 L45.30,113.04 L45.55,112.12 L45.81,111.21 L46.06,110.32 L46.32,109.45 L46.57,108.59 L46.83,107.74 L47.08,106.91 L47.34,106.10 L47.59,105.29 L47.85,104.49 L48.10,103.71 L48.36,102.93 L48.62,102.16 L48.87,101.39 L49.13,100.64 L49.38,99.89 L49.64,99.15 L49.89,98.41 L50.15,97.68 L50.40,96.96 L50.66,96.24 L50.91,95.53 L51.17,94.82 L51.42,94.12 L51.68,93.43 L51.93,92.74 L52.19,92.06 L52.44,91.38 L52.70,90.71 L52.95,90.04 L53.21,89.38 L53.46,88.73 L53.72,88.08 L53.97,87.44 L54.23,86.81 L54.48,86.18 L54.74,85.57 L55.00,84.96 L55.25,84.36 L55.51,83.76 L55.76,83.18 L56.02,82.61 L56.27,82.04 L56.53,81.48 L56.78,80.94 L57.04,80.40 L57.29,79.88 L57.55,79.37 L57.80,78.86 L58.06,78.37 L58.31,77.89 L58.57,77.43 L58.82,76.97 L59.08,76.53 L59.33,76.10 L59.59,75.69 L59.84,75.29 L60.10,74.90 L60.35,74.52 L60.61,74.17 L60.86,73.82 L61.12,73.49 L61.38,73.18 L61.63,72.88 L61.89,72.59 L62.14,72.33 L62.40,72.08 L62.65,71.84 L62.91,71.62 L63.16,71.42 L63.42,71.23 L63.67,71.06 L63.93,70.91 L64.18,70.78 L64.44,70.66 L64.69,70.56 L64.95,70.47 L65.20,70.41 L65.46,70.36 L65.71,70.33 L65.97,70.31 L66.22,70.33 L66.48,70.39 L66.73,70.47 L66.99,70.58 L67.24,70.71 L67.50,70.85 L67.76,71.02 L68.01,71.19 L68.27,71.38 L68.52,71.58 L68.78,71.79 L69.03,72.02 L69.29,72.26 L69.54,72.50 L69.80,72.76 L70.05,73.03 L70.31,73.30 L70.56,73.59 L70.82,73.88 L71.07,74.18 L71.33,74.49 L71.58,74.81 L71.84,75.13 L72.09,75.46 L72.35,75.80 L72.60,76.14 L72.86,76.49 L73.11,76.85 L73.37,77.21 L73.62,77.58 L73.88,77.95 L74.14,78.33 L74.39,78.71 L74.65,79.10 L74.90,79.49 L75.16,79.88 L75.41,80.28 L75.67,80.69 L75.92,81.09 L76.18,81.50 L76.43,81.92 L76.69,82.33 L76.94,82.75 L77.20,83.17 L77.45,83.60 L77.71,84.02 L77.96,84.45 L78.22,84.88 L78.47,85.32 L78.73,85.75 L78.98,86.19 L79.24,86.62 L79.49,87.06 L79.75,87.50 L80.00,87.94 L80.26,88.39 L80.52,88.83 L80.77,89.27 L81.03,89.72 L81.28,90.16 L81.54,90.61 L81.79,91.05 L82.05,91.50 L82.30,91.94 L82.56,92.39 L82.81,92.83 L83.07,93.28 L83.32,93.72 L83.58,94.16 L83.83,94.61 L84.09,95.05 L84.34,95.49 L84.60,95.93 L84.85,96.37 L85.11,96.81 L85.36,97.25 L85.62,97.68 L85.87,98.12 L86.13,98.55 L86.38,98.98 L86.64,99.41 L86.90,99.84 L87.15,100.27 L87.41,100.69 L87.66,101.12 L87.92,101.54 L88.17,101.96 L88.43,102.37 L88.68,102.79 L88.94,103.20 L89.19,103.61 L89.45,104.02 L89.70,104.43 L89.96,104.84 L90.21,105.24 L90.47,105.64 L90.72,106.03 L90.98,106.43 L91.23,106.82 L91.49,107.21 L91.74,107.60 L92.00,107.98 L92.25,108.37 L92.51,108.74 L92.76,109.12 L93.02,109.49 L93.28,109.87 L93.53,110.23 L93.79,110.60 L94.04,110.96 L94.30,111.32 L94.55,111.68 L94.81,112.03 L95.06,112.38 L95.32,112.73 L95.57,113.07 L95.83,113.42 L96.08,113.76 L96.34,114.09 L96.59,114.42 L96.85,114.75 L97.10,115.08 L97.36,115.40 L97.61,115.72 L97.87,116.04 L98.12,116.36 L98.38,116.67 L98.63,116.98 L98.89,117.28 L99.14,117.58 L99.40,117.88 L99.66,118.18 L99.91,118.47 L100.17,118.76 L100.42,119.05 L100.68,119.33 L100.93,119.61 L101.19,119.89 L101.44,120.17 L101.70,120.44 L101.95,120.71 L102.21,120.97 L102.46,121.23 L102.72,121.49 L102.97,121.75 L103.23,122.00 L103.48,122.25 L103.74,122.50 L103.99,122.74 L104.25,122.99 L104.50,123.22 L104.76,123.46 L105.01,123.69 L105.27,123.92 L105.52,124.15 L105.78,124.37 L106.04,124.60 L106.29,124.81 L106.55,125.03 L106.80,125.24 L107.06,125.45 L107.31,125.66 L107.57,125.87 L107.82,126.07 L108.08,126.27 L108.33,126.46 L108.59,126.66 L108.84,126.85 L109.10,127.04 L109.35,127.22 L109.61,127.41 L109.86,127.59 L110.12,127.77 L110.37,127.94 L110.63,128.12 L110.88,128.29 L111.14,128.46 L111.39,128.62 L111.65,128.79 L111.90,128.95 L112.16,129.11 L112.42,129.26 L112.67,129.42 L112.93,129.57 L113.18,129.72 L113.44,129.87 L113.69,130.01 L113.95,130.15 L114.20,130.29 L114.46,130.43 L114.71,130.57 L114.97,130.70 L115.22,130.84 L115.48,130.97 L115.73,131.10 L115.99,131.22 L116.24,131.35 L116.50,131.47 L116.75,131.59 L117.01,131.71 L117.26,131.82 L117.52,131.94 L117.77,132.05 L118.03,132.16 L118.28,132.27 L118.54,132.38 L118.80,132.48 L119.05,132.59 L119.31,132.69 L119.56,132.79 L119.82,132.89 L120.07,132.98 L120.33,133.08 L120.58,133.17 L120.84,133.27 L121.09,133.36 L121.35,133.44 L121.60,133.53 L121.86,133.62 L122.11,133.70 L122.37,133.79 L122.62,133.87 L122.88,133.95 L123.13,134.03 L123.39,134.10 L123.64,134.18 L123.90,134.25 L124.15,134.33 L124.41,134.40 L124.66,134.47 L124.92,134.54 L125.18,134.60 L125.43,134.67 L125.69,134.74 L125.94,134.80 L126.20,134.86 L126.45,134.93 L126.71,134.99 L126.96,135.05 L127.22,135.11 L127.47,135.16 L127.73,135.22 L127.98,135.27 L128.24,135.33 L128.49,135.38 L128.75,135.43 L129.00,135.48 L129.26,135.53 L129.51,135.58 L129.77,135.63 L130.02,135.68 L130.28,135.73 L130.53,135.77 L130.79,135.82 L131.04,135.86 L131.30,135.90 L131.56,135.94 L131.81,135.99 L132.07,136.03 L132.32,136.07 L132.58,136.10 L132.83,136.14 L133.09,136.18 L133.34,136.22 L133.60,136.25 L133.85,136.29 L134.11,136.32 L134.36,136.35 L134.62,136.39 L134.87,136.42 L135.13,136.45 L135.38,136.48 L135.64,136.51 L135.89,136.54 L136.15,136.57 L136.40,136.60 L136.66,136.62 L136.91,136.65 L137.17,136.68 L137.42,136.70 L137.68,136.72 L137.94,136.75 L138.19,136.77 L138.45,136.79 L138.70,136.81 L138.96,136.82 L139.21,136.84 L139.47,136.85 L139.72,136.86 L139.98,136.87 L140.23,136.88 L140.49,136.88 L140.74,136.88 L141.00,136.87 L141.25,136.86 L141.51,136.85 L141.76,136.83 L142.02,136.81 L142.27,136.78 L142.53,136.74 L142.78,136.71 L143.04,136.66 L143.29,136.61 L143.55,136.56 L143.80,136.50 L144.06,136.44 L144.32,136.38 L144.57,136.31 L144.83,136.25 L145.08,136.19 L145.34,136.12 L145.59,136.06 L145.85,136.01 L146.10,135.96 L146.36,135.92 L146.61,135.88 L146.87,135.85 L147.12,135.84 L147.38,135.83 L147.63,135.83 L147.89,135.85 L148.14,135.87 L148.40,135.90 L148.65,135.95 L148.91,136.00 L149.16,136.06 L149.42,136.13 L149.67,136.20 L149.93,136.28 L150.18,136.37 L150.44,136.45 L150.70,136.54 L150.95,136.62 L151.21,136.71 L151.46,136.79 L151.72,136.87 L151.97,136.94 L152.23,137.01 L152.48,137.07 L152.74,137.13 L152.99,137.18 L153.25,137.22 L153.50,137.25 L153.76,137.27 L154.01,137.28 L154.27,137.27 L154.52,137.24 L154.78,137.20 L155.03,137.14 L155.29,137.05 L155.54,136.94 L155.80,136.79 L156.05,136.61 L156.31,136.39 L156.56,136.13 L156.82,135.83 L157.08,135.48 L157.33,135.09 L157.59,134.65 L157.84,134.17 L158.10,133.65 L158.35,133.10 L158.61,132.53 L158.86,131.94 L159.12,131.35 L159.37,130.77 L159.63,130.20 L159.88,129.68 L160.14,129.20 L160.39,128.79 L160.65,128.45 L160.90,128.19 L161.16,128.03 L161.41,127.96 L161.67,128.00 L161.92,128.13 L162.18,128.35 L162.43,128.66 L162.69,129.06 L162.94,129.51 L163.20,130.03 L163.46,130.58 L163.71,131.16 L163.97,131.76 L164.22,132.36 L164.48,132.94 L164.73,133.51 L164.99,134.05 L165.24,134.55 L165.50,135.01 L165.75,135.43 L166.01,135.81 L166.26,136.14 L166.52,136.43 L166.77,136.68 L167.03,136.89 L167.28,137.06 L167.54,137.21 L167.79,137.33 L168.05,137.43 L168.30,137.51 L168.56,137.57 L168.81,137.62 L169.07,137.65 L169.32,137.68 L169.58,137.71 L169.84,137.72 L170.09,137.74 L170.35,137.74 L170.60,137.75 L170.86,137.76 L171.11,137.76 L171.37,137.76 L171.62,137.77 L171.88,137.77 L172.13,137.77 L172.39,137.77 L172.64,137.77 L172.90,137.77 L173.15,137.77 L173.41,137.78 L173.66,137.78 L173.92,137.78 L174.17,137.78 L174.43,137.78 L174.68,137.78 L174.94,137.78 L175.19,137.78 L175.45,137.78 L175.70,137.78 L175.96,137.78 L176.22,137.78 L176.47,137.78 L176.73,137.78 L176.98,137.78 L177.24,137.78 L177.49,137.78 L177.75,137.79 L178.00,137.79 L178.26,137.79 L178.51,137.79 L178.77,137.79 L179.02,137.79 L179.28,137.79" stroke="#ec58d6" stroke-width="1.15" fill="none" stroke-linejoin="round"/>
<path d="M40.96,131.40 L41.21,131.49 L41.47,130.89 L41.72,129.95 L41.98,128.86 L42.24,127.71 L42.49,126.56 L42.75,125.43 L43.00,124.33 L43.26,123.26 L43.51,122.22 L43.77,121.22 L44.02,120.25 L44.28,119.31 L44.53,118.39 L44.79,117.50 L45.04,116.63 L45.30,115.79 L45.55,114.96 L45.81,114.15 L46.06,113.36 L46.32,112.58 L46.57,111.81 L46.83,111.06 L47.08,110.32 L47.34,109.59 L47.59,108.87 L47.85,108.16 L48.10,107.46 L48.36,106.76 L48.62,106.07 L48.87,105.39 L49.13,104.72 L49.38,104.05 L49.64,103.38 L49.89,102.73 L50.15,102.07 L50.40,101.43 L50.66,100.79 L50.91,100.15 L51.17,99.52 L51.42,98.89 L51.68,98.27 L51.93,97.65 L52.19,97.04 L52.44,96.43 L52.70,95.83 L52.95,95.23 L53.21,94.64 L53.46,94.05 L53.72,93.47 L53.97,92.90 L54.23,92.33 L54.48,91.77 L54.74,91.22 L55.00,90.67 L55.25,90.13 L55.51,89.60 L55.76,89.07 L56.02,88.56 L56.27,88.05 L56.53,87.55 L56.78,87.06 L57.04,86.58 L57.29,86.11 L57.55,85.64 L57.80,85.19 L58.06,84.75 L58.31,84.32 L58.57,83.90 L58.82,83.49 L59.08,83.09 L59.33,82.70 L59.59,82.33 L59.84,81.96 L60.10,81.61 L60.35,81.27 L60.61,80.95 L60.86,80.64 L61.12,80.34 L61.38,80.05 L61.63,79.78 L61.89,79.52 L62.14,79.28 L62.40,79.05 L62.65,78.84 L62.91,78.63 L63.16,78.45 L63.42,78.28 L63.67,78.12 L63.93,77.98 L64.18,77.86 L64.44,77.75 L64.69,77.65 L64.95,77.57 L65.20,77.51 L65.46,77.46 L65.71,77.43 L65.97,77.41 L66.22,77.41 L66.48,77.46 L66.73,77.53 L66.99,77.62 L67.24,77.73 L67.50,77.85 L67.76,77.99 L68.01,78.14 L68.27,78.31 L68.52,78.49 L68.78,78.67 L69.03,78.87 L69.29,79.08 L69.54,79.30 L69.80,79.53 L70.05,79.76 L70.31,80.01 L70.56,80.26 L70.82,80.52 L71.07,80.79 L71.33,81.06 L71.58,81.34 L71.84,81.63 L72.09,81.93 L72.35,82.23 L72.60,82.53 L72.86,82.84 L73.11,83.16 L73.37,83.48 L73.62,83.81 L73.88,84.14 L74.14,84.48 L74.39,84.82 L74.65,85.16 L74.90,85.51 L75.16,85.87 L75.41,86.22 L75.67,86.58 L75.92,86.94 L76.18,87.31 L76.43,87.68 L76.69,88.05 L76.94,88.43 L77.20,88.80 L77.45,89.18 L77.71,89.56 L77.96,89.94 L78.22,90.33 L78.47,90.72 L78.73,91.10 L78.98,91.49 L79.24,91.89 L79.49,92.28 L79.75,92.67 L80.00,93.07 L80.26,93.46 L80.52,93.86 L80.77,94.25 L81.03,94.65 L81.28,95.05 L81.54,95.45 L81.79,95.85 L82.05,96.24 L82.30,96.64 L82.56,97.04 L82.81,97.44 L83.07,97.84 L83.32,98.23 L83.58,98.63 L83.83,99.03 L84.09,99.42 L84.34,99.82 L84.60,100.21 L84.85,100.61 L85.11,101.00 L85.36,101.39 L85.62,101.78 L85.87,102.17 L86.13,102.56 L86.38,102.95 L86.64,103.33 L86.90,103.72 L87.15,104.10 L87.41,104.48 L87.66,104.86 L87.92,105.24 L88.17,105.61 L88.43,105.99 L88.68,106.36 L88.94,106.73 L89.19,107.10 L89.45,107.46 L89.70,107.83 L89.96,108.19 L90.21,108.55 L90.47,108.91 L90.72,109.27 L90.98,109.62 L91.23,109.97 L91.49,110.32 L91.74,110.67 L92.00,111.01 L92.25,111.36 L92.51,111.70 L92.76,112.03 L93.02,112.37 L93.28,112.70 L93.53,113.03 L93.79,113.36 L94.04,113.69 L94.30,114.01 L94.55,114.33 L94.81,114.65 L95.06,114.96 L95.32,115.27 L95.57,115.58 L95.83,115.89 L96.08,116.19 L96.34,116.49 L96.59,116.79 L96.85,117.09 L97.10,117.38 L97.36,117.67 L97.61,117.96 L97.87,118.24 L98.12,118.53 L98.38,118.81 L98.63,119.08 L98.89,119.36 L99.14,119.63 L99.40,119.90 L99.66,120.16 L99.91,120.43 L100.17,120.69 L100.42,120.94 L100.68,121.20 L100.93,121.45 L101.19,121.70 L101.44,121.95 L101.70,122.19 L101.95,122.43 L102.21,122.67 L102.46,122.90 L102.72,123.14 L102.97,123.37 L103.23,123.60 L103.48,123.82 L103.74,124.04 L103.99,124.26 L104.25,124.48 L104.50,124.69 L104.76,124.90 L105.01,125.11 L105.27,125.32 L105.52,125.52 L105.78,125.73 L106.04,125.92 L106.29,126.12 L106.55,126.31 L106.80,126.51 L107.06,126.70 L107.31,126.88 L107.57,127.07 L107.82,127.25 L108.08,127.43 L108.33,127.60 L108.59,127.78 L108.84,127.95 L109.10,128.12 L109.35,128.29 L109.61,128.45 L109.86,128.61 L110.12,128.77 L110.37,128.93 L110.63,129.09 L110.88,129.24 L111.14,129.39 L111.39,129.54 L111.65,129.69 L111.90,129.83 L112.16,129.98 L112.42,130.12 L112.67,130.26 L112.93,130.39 L113.18,130.53 L113.44,130.66 L113.69,130.79 L113.95,130.92 L114.20,131.05 L114.46,131.17 L114.71,131.29 L114.97,131.41 L115.22,131.53 L115.48,131.65 L115.73,131.77 L115.99,131.88 L116.24,131.99 L116.50,132.10 L116.75,132.21 L117.01,132.32 L117.26,132.42 L117.52,132.52 L117.77,132.62 L118.03,132.72 L118.28,132.82 L118.54,132.92 L118.80,133.01 L119.05,133.11 L119.31,133.20 L119.56,133.29 L119.82,133.38 L120.07,133.46 L120.33,133.55 L120.58,133.63 L120.84,133.72 L121.09,133.80 L121.35,133.88 L121.60,133.96 L121.86,134.03 L122.11,134.11 L122.37,134.19 L122.62,134.26 L122.88,134.33 L123.13,134.40 L123.39,134.47 L123.64,134.54 L123.90,134.61 L124.15,134.67 L124.41,134.74 L124.66,134.80 L124.92,134.86 L125.18,134.92 L125.43,134.98 L125.69,135.04 L125.94,135.10 L126.20,135.16 L126.45,135.21 L126.71,135.27 L126.96,135.32 L127.22,135.37 L127.47,135.42 L127.73,135.48 L127.98,135.52 L128.24,135.57 L128.49,135.62 L128.75,135.67 L129.00,135.71 L129.26,135.76 L129.51,135.80 L129.77,135.85 L130.02,135.89 L130.28,135.93 L130.53,135.97 L130.79,136.01 L131.04,136.05 L131.30,136.09 L131.56,136.13 L131.81,136.17 L132.07,136.20 L132.32,136.24 L132.58,136.27 L132.83,136.31 L133.09,136.34 L133.34,136.37 L133.60,136.40 L133.85,136.44 L134.11,136.47 L134.36,136.50 L134.62,136.53 L134.87,136.56 L135.13,136.58 L135.38,136.61 L135.64,136.64 L135.89,136.66 L136.15,136.69 L136.40,136.72 L136.66,136.74 L136.91,136.76 L137.17,136.79 L137.42,136.81 L137.68,136.83 L137.94,136.85 L138.19,136.86 L138.45,136.88 L138.70,136.90 L138.96,136.91 L139.21,136.92 L139.47,136.93 L139.72,136.93 L139.98,136.94 L140.23,136.93 L140.49,136.93 L140.74,136.92 L141.00,136.90 L141.25,136.88 L141.51,136.86 L141.76,136.82 L142.02,136.79 L142.27,136.74 L142.53,136.69 L142.78,136.63 L143.04,136.57 L143.29,136.49 L143.55,136.42 L143.80,136.34 L144.06,136.25 L144.32,136.16 L144.57,136.07 L144.83,135.98 L145.08,135.89 L145.34,135.80 L145.59,135.72 L145.85,135.64 L146.10,135.57 L146.36,135.51 L146.61,135.45 L146.87,135.41 L147.12,135.39 L147.38,135.37 L147.63,135.37 L147.89,135.39 L148.14,135.41 L148.40,135.45 L148.65,135.51 L148.91,135.57 L149.16,135.65 L149.42,135.74 L149.67,135.83 L149.93,135.93 L150.18,136.04 L150.44,136.15 L150.70,136.26 L150.95,136.37 L151.21,136.47 L151.46,136.58 L151.72,136.68 L151.97,136.78 L152.23,136.87 L152.48,136.95 L152.74,137.02 L152.99,137.08 L153.25,137.13 L153.50,137.17 L153.76,137.19 L154.01,137.20 L154.27,137.18 L154.52,137.15 L154.78,137.09 L155.03,137.01 L155.29,136.89 L155.54,136.73 L155.80,136.54 L156.05,136.30 L156.31,136.01 L156.56,135.66 L156.82,135.26 L157.08,134.80 L157.33,134.28 L157.59,133.70 L157.84,133.06 L158.10,132.38 L158.35,131.65 L158.61,130.89 L158.86,130.12 L159.12,129.33 L159.37,128.56 L159.63,127.82 L159.88,127.12 L160.14,126.49 L160.39,125.94 L160.65,125.49 L160.90,125.16 L161.16,124.94 L161.41,124.85 L161.67,124.89 L161.92,125.06 L162.18,125.36 L162.43,125.77 L162.69,126.29 L162.94,126.89 L163.20,127.57 L163.46,128.30 L163.71,129.07 L163.97,129.85 L164.22,130.64 L164.48,131.42 L164.73,132.16 L164.99,132.87 L165.24,133.54 L165.50,134.14 L165.75,134.70 L166.01,135.19 L166.26,135.63 L166.52,136.01 L166.77,136.34 L167.03,136.61 L167.28,136.85 L167.54,137.04 L167.79,137.20 L168.05,137.33 L168.30,137.43 L168.56,137.51 L168.81,137.58 L169.07,137.62 L169.32,137.66 L169.58,137.69 L169.84,137.71 L170.09,137.73 L170.35,137.74 L170.60,137.75 L170.86,137.76 L171.11,137.76 L171.37,137.77 L171.62,137.77 L171.88,137.77 L172.13,137.77 L172.39,137.77 L172.64,137.78 L172.90,137.78 L173.15,137.78 L173.41,137.78 L173.66,137.78 L173.92,137.78 L174.17,137.78 L174.43,137.78 L174.68,137.78 L174.94,137.78 L175.19,137.78 L175.45,137.78 L175.70,137.78 L175.96,137.78 L176.22,137.78 L176.47,137.78 L176.73,137.79 L176.98,137.79 L177.24,137.79 L177.49,137.79 L177.75,137.79 L178.00,137.79 L178.26,137.79 L178.51,137.79 L178.77,137.79 L179.02,137.79 L179.28,137.79" stroke="#f848d0" stroke-width="1.15" fill="none" stroke-linejoin="round"/>
<path d="M40.96,100.09 L41.21,112.64 L41.47,118.08 L41.72,119.82 L41.98,119.68 L42.24,118.58 L42.49,117.02 L42.75,115.26 L43.00,113.43 L43.26,111.60 L43.51,109.79 L43.77,108.03 L44.02,106.32 L44.28,104.65 L44.53,103.04 L44.79,101.47 L45.04,99.94 L45.30,98.45 L45.55,97.00 L45.81,95.58 L46.06,94.19 L46.32,92.83 L46.57,91.49 L46.83,90.18 L47.08,88.89 L47.34,87.63 L47.59,86.38 L47.85,85.15 L48.10,83.93 L48.36,82.73 L48.62,81.54 L48.87,80.37 L49.13,79.21 L49.38,78.07 L49.64,76.93 L49.89,75.81 L50.15,74.69 L50.40,73.59 L50.66,72.49 L50.91,71.41 L51.17,70.34 L51.42,69.28 L51.68,68.22 L51.93,67.18 L52.19,66.15 L52.44,65.12 L52.70,64.11 L52.95,63.11 L53.21,62.12 L53.46,61.14 L53.72,60.17 L53.97,59.22 L54.23,58.27 L54.48,57.34 L54.74,56.42 L55.00,55.52 L55.25,54.63 L55.51,53.75 L55.76,52.89 L56.02,52.04 L56.27,51.21 L56.53,50.40 L56.78,49.60 L57.04,48.82 L57.29,48.05 L57.55,47.31 L57.80,46.58 L58.06,45.87 L58.31,45.18 L58.57,44.51 L58.82,43.85 L59.08,43.22 L59.33,42.61 L59.59,42.03 L59.84,41.46 L60.10,40.91 L60.35,40.39 L60.61,39.89 L60.86,39.42 L61.12,38.96 L61.38,38.53 L61.63,38.13 L61.89,37.75 L62.14,37.39 L62.40,37.06 L62.65,36.75 L62.91,36.47 L63.16,36.22 L63.42,35.99 L63.67,35.79 L63.93,35.61 L64.18,35.46 L64.44,35.33 L64.69,35.23 L64.95,35.16 L65.20,35.12 L65.46,35.10 L65.71,35.13 L65.97,35.22 L66.22,35.36 L66.48,35.53 L66.73,35.72 L66.99,35.95 L67.24,36.19 L67.50,36.46 L67.76,36.75 L68.01,37.06 L68.27,37.39 L68.52,37.73 L68.78,38.09 L69.03,38.47 L69.29,38.86 L69.54,39.27 L69.80,39.69 L70.05,40.13 L70.31,40.57 L70.56,41.03 L70.82,41.51 L71.07,41.99 L71.33,42.48 L71.58,42.99 L71.84,43.50 L72.09,44.03 L72.35,44.56 L72.60,45.10 L72.86,45.65 L73.11,46.21 L73.37,46.78 L73.62,47.36 L73.88,47.94 L74.14,48.53 L74.39,49.12 L74.65,49.73 L74.90,50.33 L75.16,50.95 L75.41,51.57 L75.67,52.19 L75.92,52.82 L76.18,53.45 L76.43,54.09 L76.69,54.73 L76.94,55.38 L77.20,56.03 L77.45,56.68 L77.71,57.34 L77.96,58.00 L78.22,58.66 L78.47,59.32 L78.73,59.99 L78.98,60.66 L79.24,61.33 L79.49,62.00 L79.75,62.67 L80.00,63.34 L80.26,64.02 L80.52,64.70 L80.77,65.37 L81.03,66.05 L81.28,66.73 L81.54,67.40 L81.79,68.08 L82.05,68.76 L82.30,69.44 L82.56,70.11 L82.81,70.79 L83.07,71.46 L83.32,72.14 L83.58,72.81 L83.83,73.48 L84.09,74.15 L84.34,74.82 L84.60,75.49 L84.85,76.15 L85.11,76.81 L85.36,77.48 L85.62,78.14 L85.87,78.79 L86.13,79.45 L86.38,80.10 L86.64,80.75 L86.90,81.39 L87.15,82.04 L87.41,82.68 L87.66,83.32 L87.92,83.95 L88.17,84.59 L88.43,85.21 L88.68,85.84 L88.94,86.46 L89.19,87.08 L89.45,87.70 L89.70,88.31 L89.96,88.92 L90.21,89.52 L90.47,90.12 L90.72,90.72 L90.98,91.31 L91.23,91.90 L91.49,92.48 L91.74,93.06 L92.00,93.64 L92.25,94.21 L92.51,94.78 L92.76,95.35 L93.02,95.91 L93.28,96.46 L93.53,97.01 L93.79,97.56 L94.04,98.10 L94.30,98.64 L94.55,99.17 L94.81,99.70 L95.06,100.23 L95.32,100.75 L95.57,101.26 L95.83,101.77 L96.08,102.28 L96.34,102.78 L96.59,103.27 L96.85,103.77 L97.10,104.25 L97.36,104.74 L97.61,105.22 L97.87,105.69 L98.12,106.16 L98.38,106.62 L98.63,107.08 L98.89,107.54 L99.14,107.99 L99.40,108.43 L99.66,108.87 L99.91,109.31 L100.17,109.74 L100.42,110.17 L100.68,110.59 L100.93,111.01 L101.19,111.42 L101.44,111.83 L101.70,112.23 L101.95,112.63 L102.21,113.02 L102.46,113.41 L102.72,113.80 L102.97,114.18 L103.23,114.55 L103.48,114.93 L103.74,115.29 L103.99,115.66 L104.25,116.01 L104.50,116.37 L104.76,116.72 L105.01,117.06 L105.27,117.40 L105.52,117.74 L105.78,118.07 L106.04,118.40 L106.29,118.72 L106.55,119.04 L106.80,119.36 L107.06,119.67 L107.31,119.98 L107.57,120.28 L107.82,120.58 L108.08,120.87 L108.33,121.16 L108.59,121.45 L108.84,121.73 L109.10,122.01 L109.35,122.29 L109.61,122.56 L109.86,122.83 L110.12,123.09 L110.37,123.35 L110.63,123.60 L110.88,123.86 L111.14,124.11 L111.39,124.35 L111.65,124.59 L111.90,124.83 L112.16,125.06 L112.42,125.30 L112.67,125.52 L112.93,125.75 L113.18,125.97 L113.44,126.19 L113.69,126.40 L113.95,126.61 L114.20,126.82 L114.46,127.02 L114.71,127.22 L114.97,127.42 L115.22,127.62 L115.48,127.81 L115.73,128.00 L115.99,128.18 L116.24,128.37 L116.50,128.54 L116.75,128.72 L117.01,128.90 L117.26,129.07 L117.52,129.24 L117.77,129.40 L118.03,129.56 L118.28,129.72 L118.54,129.88 L118.80,130.04 L119.05,130.19 L119.31,130.34 L119.56,130.49 L119.82,130.63 L120.07,130.77 L120.33,130.91 L120.58,131.05 L120.84,131.19 L121.09,131.32 L121.35,131.45 L121.60,131.58 L121.86,131.70 L122.11,131.83 L122.37,131.95 L122.62,132.07 L122.88,132.18 L123.13,132.30 L123.39,132.41 L123.64,132.52 L123.90,132.63 L124.15,132.74 L124.41,132.84 L124.66,132.95 L124.92,133.05 L125.18,133.15 L125.43,133.25 L125.69,133.34 L125.94,133.44 L126.20,133.53 L126.45,133.62 L126.71,133.71 L126.96,133.79 L127.22,133.88 L127.47,133.96 L127.73,134.05 L127.98,134.13 L128.24,134.21 L128.49,134.28 L128.75,134.36 L129.00,134.44 L129.26,134.51 L129.51,134.58 L129.77,134.65 L130.02,134.72 L130.28,134.79 L130.53,134.85 L130.79,134.92 L131.04,134.98 L131.30,135.04 L131.56,135.11 L131.81,135.17 L132.07,135.23 L132.32,135.28 L132.58,135.34 L132.83,135.39 L133.09,135.45 L133.34,135.50 L133.60,135.55 L133.85,135.60 L134.11,135.65 L134.36,135.70 L134.62,135.75 L134.87,135.80 L135.13,135.84 L135.38,135.89 L135.64,135.93 L135.89,135.98 L136.15,136.02 L136.40,136.06 L136.66,136.10 L136.91,136.14 L137.17,136.18 L137.42,136.22 L137.68,136.25 L137.94,136.29 L138.19,136.33 L138.45,136.36 L138.70,136.39 L138.96,136.43 L139.21,136.46 L139.47,136.49 L139.72,136.52 L139.98,136.55 L140.23,136.58 L140.49,136.61 L140.74,136.64 L141.00,136.67 L141.25,136.69 L141.51,136.72 L141.76,136.75 L142.02,136.77 L142.27,136.80 L142.53,136.82 L142.78,136.84 L143.04,136.87 L143.29,136.89 L143.55,136.91 L143.80,136.93 L144.06,136.95 L144.32,136.97 L144.57,136.99 L144.83,137.01 L145.08,137.03 L145.34,137.05 L145.59,137.07 L145.85,137.08 L146.10,137.10 L146.36,137.12 L146.61,137.13 L146.87,137.15 L147.12,137.16 L147.38,137.18 L147.63,137.20 L147.89,137.21 L148.14,137.23 L148.40,137.24 L148.65,137.25 L148.91,137.27 L149.16,137.28 L149.42,137.30 L149.67,137.31 L149.93,137.32 L150.18,137.33 L150.44,137.35 L150.70,137.36 L150.95,137.37 L151.21,137.38 L151.46,137.39 L151.72,137.40 L151.97,137.42 L152.23,137.43 L152.48,137.44 L152.74,137.45 L152.99,137.46 L153.25,137.46 L153.50,137.47 L153.76,137.48 L154.01,137.49 L154.27,137.50 L154.52,137.51 L154.78,137.51 L155.03,137.52 L155.29,137.53 L155.54,137.53 L155.80,137.54 L156.05,137.54 L156.31,137.55 L156.56,137.55 L156.82,137.56 L157.08,137.56 L157.33,137.56 L157.59,137.56 L157.84,137.56 L158.10,137.56 L158.35,137.56 L158.61,137.56 L158.86,137.56 L159.12,137.56 L159.37,137.56 L159.63,137.56 L159.88,137.56 L160.14,137.56 L160.39,137.56 L160.65,137.56 L160.90,137.56 L161.16,137.57 L161.41,137.57 L161.67,137.57 L161.92,137.58 L162.18,137.58 L162.43,137.59 L162.69,137.60 L162.94,137.61 L163.20,137.61 L163.46,137.62 L163.71,137.63 L163.97,137.64 L164.22,137.65 L164.48,137.66 L164.73,137.66 L164.99,137.67 L165.24,137.68 L165.50,137.69 L165.75,137.69 L166.01,137.70 L166.26,137.70 L166.52,137.71 L166.77,137.71 L167.03,137.72 L167.28,137.72 L167.54,137.73 L167.79,137.73 L168.05,137.73 L168.30,137.73 L168.56,137.74 L168.81,137.74 L169.07,137.74 L169.32,137.74 L169.58,137.74 L169.84,137.75 L170.09,137.75 L170.35,137.75 L170.60,137.75 L170.86,137.75 L171.11,137.75 L171.37,137.76 L171.62,137.76 L171.88,137.76 L172.13,137.76 L172.39,137.76 L172.64,137.76 L172.90,137.76 L173.15,137.76 L173.41,137.77 L173.66,137.77 L173.92,137.77 L174.17,137.77 L174.43,137.77 L174.68,137.77 L174.94,137.77 L175.19,137.77 L175.45,137.77 L175.70,137.77 L175.96,137.77 L176.22,137.77 L176.47,137.78 L176.73,137.78 L176.98,137.78 L177.24,137.78 L177.49,137.78 L177.75,137.78 L178.00,137.78 L178.26,137.78 L178.51,137.78 L178.77,137.78 L179.02,137.78 L179.28,137.78" stroke="#2f6cf0" stroke-width="1.6" fill="none" stroke-linejoin="round"/>
<path d="M40.96,132.88 L41.21,132.64 L41.47,131.94 L41.72,131.02 L41.98,130.02 L42.24,128.99 L42.49,127.97 L42.75,126.97 L43.00,126.00 L43.26,125.06 L43.51,124.15 L43.77,123.27 L44.02,122.41 L44.28,121.59 L44.53,120.78 L44.79,120.00 L45.04,119.24 L45.30,118.49 L45.55,117.77 L45.81,117.06 L46.06,116.36 L46.32,115.67 L46.57,115.00 L46.83,114.34 L47.08,113.69 L47.34,113.05 L47.59,112.41 L47.85,111.79 L48.10,111.17 L48.36,110.55 L48.62,109.95 L48.87,109.35 L49.13,108.75 L49.38,108.16 L49.64,107.58 L49.89,107.00 L50.15,106.42 L50.40,105.85 L50.66,105.29 L50.91,104.72 L51.17,104.17 L51.42,103.61 L51.68,103.06 L51.93,102.52 L52.19,101.98 L52.44,101.44 L52.70,100.91 L52.95,100.38 L53.21,99.86 L53.46,99.34 L53.72,98.83 L53.97,98.32 L54.23,97.82 L54.48,97.32 L54.74,96.83 L55.00,96.35 L55.25,95.87 L55.51,95.40 L55.76,94.93 L56.02,94.48 L56.27,94.03 L56.53,93.58 L56.78,93.15 L57.04,92.72 L57.29,92.30 L57.55,91.89 L57.80,91.49 L58.06,91.10 L58.31,90.71 L58.57,90.34 L58.82,89.97 L59.08,89.62 L59.33,89.27 L59.59,88.94 L59.84,88.62 L60.10,88.30 L60.35,88.00 L60.61,87.71 L60.86,87.43 L61.12,87.17 L61.38,86.91 L61.63,86.67 L61.89,86.44 L62.14,86.22 L62.40,86.01 L62.65,85.82 L62.91,85.64 L63.16,85.47 L63.42,85.31 L63.67,85.17 L63.93,85.04 L64.18,84.93 L64.44,84.83 L64.69,84.74 L64.95,84.67 L65.20,84.60 L65.46,84.56 L65.71,84.52 L65.97,84.51 L66.22,84.50 L66.48,84.53 L66.73,84.59 L66.99,84.66 L67.24,84.75 L67.50,84.86 L67.76,84.98 L68.01,85.11 L68.27,85.25 L68.52,85.41 L68.78,85.57 L69.03,85.74 L69.29,85.92 L69.54,86.11 L69.80,86.31 L70.05,86.52 L70.31,86.73 L70.56,86.95 L70.82,87.18 L71.07,87.41 L71.33,87.65 L71.58,87.90 L71.84,88.15 L72.09,88.41 L72.35,88.67 L72.60,88.94 L72.86,89.22 L73.11,89.50 L73.37,89.78 L73.62,90.07 L73.88,90.36 L74.14,90.65 L74.39,90.95 L74.65,91.26 L74.90,91.56 L75.16,91.87 L75.41,92.19 L75.67,92.50 L75.92,92.82 L76.18,93.14 L76.43,93.47 L76.69,93.80 L76.94,94.13 L77.20,94.46 L77.45,94.79 L77.71,95.13 L77.96,95.46 L78.22,95.80 L78.47,96.14 L78.73,96.49 L78.98,96.83 L79.24,97.18 L79.49,97.52 L79.75,97.87 L80.00,98.22 L80.26,98.57 L80.52,98.91 L80.77,99.26 L81.03,99.62 L81.28,99.97 L81.54,100.32 L81.79,100.67 L82.05,101.02 L82.30,101.37 L82.56,101.72 L82.81,102.08 L83.07,102.43 L83.32,102.78 L83.58,103.13 L83.83,103.48 L84.09,103.83 L84.34,104.18 L84.60,104.52 L84.85,104.87 L85.11,105.22 L85.36,105.56 L85.62,105.91 L85.87,106.25 L86.13,106.60 L86.38,106.94 L86.64,107.28 L86.90,107.62 L87.15,107.96 L87.41,108.29 L87.66,108.63 L87.92,108.96 L88.17,109.29 L88.43,109.62 L88.68,109.95 L88.94,110.28 L89.19,110.61 L89.45,110.93 L89.70,111.25 L89.96,111.57 L90.21,111.89 L90.47,112.21 L90.72,112.52 L90.98,112.84 L91.23,113.15 L91.49,113.46 L91.74,113.76 L92.00,114.07 L92.25,114.37 L92.51,114.67 L92.76,114.97 L93.02,115.27 L93.28,115.56 L93.53,115.85 L93.79,116.14 L94.04,116.43 L94.30,116.72 L94.55,117.00 L94.81,117.28 L95.06,117.56 L95.32,117.84 L95.57,118.11 L95.83,118.38 L96.08,118.65 L96.34,118.92 L96.59,119.18 L96.85,119.44 L97.10,119.70 L97.36,119.96 L97.61,120.21 L97.87,120.47 L98.12,120.72 L98.38,120.96 L98.63,121.21 L98.89,121.45 L99.14,121.69 L99.40,121.93 L99.66,122.16 L99.91,122.40 L100.17,122.63 L100.42,122.86 L100.68,123.08 L100.93,123.30 L101.19,123.52 L101.44,123.74 L101.70,123.96 L101.95,124.17 L102.21,124.38 L102.46,124.59 L102.72,124.80 L102.97,125.00 L103.23,125.20 L103.48,125.40 L103.74,125.60 L103.99,125.79 L104.25,125.99 L104.50,126.18 L104.76,126.36 L105.01,126.55 L105.27,126.73 L105.52,126.91 L105.78,127.09 L106.04,127.27 L106.29,127.44 L106.55,127.61 L106.80,127.78 L107.06,127.95 L107.31,128.11 L107.57,128.28 L107.82,128.44 L108.08,128.60 L108.33,128.75 L108.59,128.91 L108.84,129.06 L109.10,129.21 L109.35,129.36 L109.61,129.51 L109.86,129.65 L110.12,129.79 L110.37,129.93 L110.63,130.07 L110.88,130.21 L111.14,130.34 L111.39,130.47 L111.65,130.60 L111.90,130.73 L112.16,130.86 L112.42,130.98 L112.67,131.11 L112.93,131.23 L113.18,131.35 L113.44,131.46 L113.69,131.58 L113.95,131.69 L114.20,131.81 L114.46,131.92 L114.71,132.03 L114.97,132.13 L115.22,132.24 L115.48,132.34 L115.73,132.44 L115.99,132.54 L116.24,132.64 L116.50,132.74 L116.75,132.84 L117.01,132.93 L117.26,133.02 L117.52,133.12 L117.77,133.21 L118.03,133.29 L118.28,133.38 L118.54,133.47 L118.80,133.55 L119.05,133.63 L119.31,133.72 L119.56,133.80 L119.82,133.87 L120.07,133.95 L120.33,134.03 L120.58,134.10 L120.84,134.18 L121.09,134.25 L121.35,134.32 L121.60,134.39 L121.86,134.46 L122.11,134.52 L122.37,134.59 L122.62,134.66 L122.88,134.72 L123.13,134.78 L123.39,134.84 L123.64,134.90 L123.90,134.96 L124.15,135.02 L124.41,135.08 L124.66,135.14 L124.92,135.19 L125.18,135.24 L125.43,135.30 L125.69,135.35 L125.94,135.40 L126.20,135.45 L126.45,135.50 L126.71,135.55 L126.96,135.60 L127.22,135.64 L127.47,135.69 L127.73,135.73 L127.98,135.78 L128.24,135.82 L128.49,135.86 L128.75,135.91 L129.00,135.95 L129.26,135.99 L129.51,136.03 L129.77,136.07 L130.02,136.10 L130.28,136.14 L130.53,136.18 L130.79,136.21 L131.04,136.25 L131.30,136.28 L131.56,136.31 L131.81,136.35 L132.07,136.38 L132.32,136.41 L132.58,136.44 L132.83,136.47 L133.09,136.50 L133.34,136.53 L133.60,136.56 L133.85,136.59 L134.11,136.62 L134.36,136.64 L134.62,136.67 L134.87,136.69 L135.13,136.72 L135.38,136.74 L135.64,136.77 L135.89,136.79 L136.15,136.81 L136.40,136.84 L136.66,136.86 L136.91,136.88 L137.17,136.90 L137.42,136.92 L137.68,136.93 L137.94,136.95 L138.19,136.97 L138.45,136.98 L138.70,136.99 L138.96,137.00 L139.21,137.01 L139.47,137.01 L139.72,137.01 L139.98,137.01 L140.23,137.01 L140.49,137.00 L140.74,136.98 L141.00,136.96 L141.25,136.94 L141.51,136.90 L141.76,136.87 L142.02,136.82 L142.27,136.77 L142.53,136.71 L142.78,136.64 L143.04,136.56 L143.29,136.48 L143.55,136.40 L143.80,136.30 L144.06,136.21 L144.32,136.11 L144.57,136.00 L144.83,135.90 L145.08,135.80 L145.34,135.70 L145.59,135.60 L145.85,135.52 L146.10,135.44 L146.36,135.37 L146.61,135.31 L146.87,135.26 L147.12,135.23 L147.38,135.21 L147.63,135.21 L147.89,135.22 L148.14,135.25 L148.40,135.29 L148.65,135.35 L148.91,135.42 L149.16,135.50 L149.42,135.60 L149.67,135.70 L149.93,135.81 L150.18,135.92 L150.44,136.04 L150.70,136.16 L150.95,136.28 L151.21,136.40 L151.46,136.51 L151.72,136.62 L151.97,136.72 L152.23,136.82 L152.48,136.91 L152.74,136.99 L152.99,137.05 L153.25,137.11 L153.50,137.15 L153.76,137.17 L154.01,137.18 L154.27,137.16 L154.52,137.12 L154.78,137.06 L155.03,136.96 L155.29,136.83 L155.54,136.66 L155.80,136.45 L156.05,136.18 L156.31,135.86 L156.56,135.48 L156.82,135.03 L157.08,134.53 L157.33,133.95 L157.59,133.32 L157.84,132.62 L158.10,131.86 L158.35,131.06 L158.61,130.23 L158.86,129.37 L159.12,128.51 L159.37,127.66 L159.63,126.84 L159.88,126.08 L160.14,125.38 L160.39,124.78 L160.65,124.28 L160.90,123.91 L161.16,123.67 L161.41,123.57 L161.67,123.62 L161.92,123.81 L162.18,124.13 L162.43,124.58 L162.69,125.15 L162.94,125.81 L163.20,126.56 L163.46,127.36 L163.71,128.21 L163.97,129.07 L164.22,129.94 L164.48,130.79 L164.73,131.61 L164.99,132.39 L165.24,133.12 L165.50,133.79 L165.75,134.40 L166.01,134.94 L166.26,135.42 L166.52,135.84 L166.77,136.20 L167.03,136.51 L167.28,136.76 L167.54,136.97 L167.79,137.15 L168.05,137.29 L168.30,137.40 L168.56,137.49 L168.81,137.56 L169.07,137.61 L169.32,137.66 L169.58,137.69 L169.84,137.71 L170.09,137.73 L170.35,137.74 L170.60,137.75 L170.86,137.76 L171.11,137.76 L171.37,137.77 L171.62,137.77 L171.88,137.77 L172.13,137.78 L172.39,137.78 L172.64,137.78 L172.90,137.78 L173.15,137.78 L173.41,137.78 L173.66,137.78 L173.92,137.78 L174.17,137.78 L174.43,137.78 L174.68,137.78 L174.94,137.78 L175.19,137.78 L175.45,137.78 L175.70,137.79 L175.96,137.79 L176.22,137.79 L176.47,137.79 L176.73,137.79 L176.98,137.79 L177.24,137.79 L177.49,137.79 L177.75,137.79 L178.00,137.79 L178.26,137.79 L178.51,137.79 L178.77,137.79 L179.02,137.79 L179.28,137.79" stroke="#ff30c0" stroke-width="1.6" fill="none" stroke-linejoin="round"/>
</g>
<rect x="40.5" y="18" width="137.8" height="130" fill="none" stroke="#000" stroke-width="1.1"/>
<line x1="38.5" y1="137.8" x2="40.5" y2="137.8" stroke="#000" stroke-width="1.1"/>
<line x1="38.5" y1="119.42" x2="40.5" y2="119.42" stroke="#000" stroke-width="1.1"/>
<line x1="38.5" y1="101.04" x2="40.5" y2="101.04" stroke="#000" stroke-width="1.1"/>
<line x1="38.5" y1="82.66" x2="40.5" y2="82.66" stroke="#000" stroke-width="1.1"/>
<line x1="38.5" y1="64.28" x2="40.5" y2="64.28" stroke="#000" stroke-width="1.1"/>
<line x1="38.5" y1="45.9" x2="40.5" y2="45.9" stroke="#000" stroke-width="1.1"/>
<line x1="38.5" y1="27.52" x2="40.5" y2="27.52" stroke="#000" stroke-width="1.1"/>
<line x1="39.3" y1="128.61" x2="40.5" y2="128.61" stroke="#000" stroke-width="0.88"/>
<line x1="39.3" y1="110.23" x2="40.5" y2="110.23" stroke="#000" stroke-width="0.88"/>
<line x1="39.3" y1="91.85" x2="40.5" y2="91.85" stroke="#000" stroke-width="0.88"/>
<line x1="39.3" y1="73.47" x2="40.5" y2="73.47" stroke="#000" stroke-width="0.88"/>
<line x1="39.3" y1="55.09" x2="40.5" y2="55.09" stroke="#000" stroke-width="0.88"/>
<line x1="39.3" y1="36.71" x2="40.5" y2="36.71" stroke="#000" stroke-width="0.88"/>
<text x="37.7" y="140.72" font-size="8.6" text-anchor="end" font-weight="bold" fill="#000" stroke="#000" stroke-width="0.22">0</text>
<text x="37.7" y="122.34" font-size="8.6" text-anchor="end" font-weight="bold" fill="#000" stroke="#000" stroke-width="0.22">100</text>
<text x="37.7" y="103.96" font-size="8.6" text-anchor="end" font-weight="bold" fill="#000" stroke="#000" stroke-width="0.22">200</text>
<text x="37.7" y="85.58" font-size="8.6" text-anchor="end" font-weight="bold" fill="#000" stroke="#000" stroke-width="0.22">300</text>
<text x="37.7" y="67.2" font-size="8.6" text-anchor="end" font-weight="bold" fill="#000" stroke="#000" stroke-width="0.22">400</text>
<text x="37.7" y="48.82" font-size="8.6" text-anchor="end" font-weight="bold" fill="#000" stroke="#000" stroke-width="0.22">500</text>
<text x="37.7" y="30.44" font-size="8.6" text-anchor="end" font-weight="bold" fill="#000" stroke="#000" stroke-width="0.22">600</text>
<line x1="50.71" y1="148" x2="50.71" y2="150" stroke="#000" stroke-width="1.1"/>
<line x1="76.23" y1="148" x2="76.23" y2="150" stroke="#000" stroke-width="1.1"/>
<line x1="101.75" y1="148" x2="101.75" y2="150" stroke="#000" stroke-width="1.1"/>
<line x1="127.27" y1="148" x2="127.27" y2="150" stroke="#000" stroke-width="1.1"/>
<line x1="152.79" y1="148" x2="152.79" y2="150" stroke="#000" stroke-width="1.1"/>
<line x1="178.31" y1="148" x2="178.31" y2="150" stroke="#000" stroke-width="1.1"/>
<line x1="63.47" y1="148" x2="63.47" y2="149.2" stroke="#000" stroke-width="0.88"/>
<line x1="88.99" y1="148" x2="88.99" y2="149.2" stroke="#000" stroke-width="0.88"/>
<line x1="114.51" y1="148" x2="114.51" y2="149.2" stroke="#000" stroke-width="0.88"/>
<line x1="140.03" y1="148" x2="140.03" y2="149.2" stroke="#000" stroke-width="0.88"/>
<line x1="165.55" y1="148" x2="165.55" y2="149.2" stroke="#000" stroke-width="0.88"/>
<text x="50.71" y="158.8" font-size="8.8" text-anchor="middle" font-weight="bold" fill="#000" stroke="#000" stroke-width="0.22">400</text>
<text x="76.23" y="158.8" font-size="8.8" text-anchor="middle" font-weight="bold" fill="#000" stroke="#000" stroke-width="0.22">450</text>
<text x="101.75" y="158.8" font-size="8.8" text-anchor="middle" font-weight="bold" fill="#000" stroke="#000" stroke-width="0.22">500</text>
<text x="127.27" y="158.8" font-size="8.8" text-anchor="middle" font-weight="bold" fill="#000" stroke="#000" stroke-width="0.22">550</text>
<text x="152.79" y="158.8" font-size="8.8" text-anchor="middle" font-weight="bold" fill="#000" stroke="#000" stroke-width="0.22">600</text>
<text x="178.31" y="158.8" font-size="8.8" text-anchor="middle" font-weight="bold" fill="#000" stroke="#000" stroke-width="0.22">650</text>
<text x="110" y="169.5" font-size="9.1" text-anchor="middle" font-weight="bold" fill="#000" stroke="#000" stroke-width="0.22">Wavelength (nm)</text>
<text x="19.6" y="78.5" font-size="9.1" text-anchor="middle" font-weight="bold" fill="#000" stroke="#000" stroke-width="0.22" transform="rotate(-90 19.6 78.5)">FL Intensity (a.u.)</text>
<text x="8.6" y="19.2" font-size="16" text-anchor="start" font-weight="bold" fill="#000" stroke="#000" stroke-width="0.22">(a)</text>
<rect x="88.25" y="46.0" width="1.5" height="24.5" fill="url(#garr)"/>
<path d="M87.0,69.8 L91.0,69.8 L89,74.2 Z" fill="#ff3ec8"/>
<rect x="141.3" y="118.6" width="36.5" height="20.7" fill="none" stroke="#000" stroke-width="0.9" stroke-dasharray="2,1.3"/>
<line x1="153" y1="114" x2="145.2" y2="99.5" stroke="#000" stroke-width="0.9"/>
<path d="M143.6,96.5 L147.2,99.6 L144.1,101.3 Z" fill="#000"/>
<clipPath id="clipi"><rect x="109.0" y="18.0" width="69.4" height="64.0"/></clipPath>
<rect x="109" y="18" width="69.4" height="64" fill="#fff" stroke="#000" stroke-width="0"/>
<g clip-path="url(#clipi)">
<path d="M106.81,72.25 L107.27,72.33 L107.74,72.41 L108.21,72.48 L108.67,72.55 L109.14,72.61 L109.60,72.67 L110.07,72.73 L110.54,72.78 L111.00,72.82 L111.47,72.86 L111.93,72.90 L112.40,72.92 L112.87,72.95 L113.33,72.97 L113.80,72.98 L114.26,72.99 L114.73,72.99 L115.20,73.00 L115.66,73.00 L116.13,72.99 L116.59,72.99 L117.06,72.98 L117.53,72.98 L117.99,72.97 L118.46,72.97 L118.92,72.98 L119.39,72.98 L119.86,73.00 L120.32,73.02 L120.79,73.04 L121.25,73.07 L121.72,73.11 L122.19,73.16 L122.65,73.21 L123.12,73.27 L123.58,73.34 L124.05,73.41 L124.52,73.49 L124.98,73.58 L125.45,73.66 L125.91,73.75 L126.38,73.85 L126.85,73.94 L127.31,74.03 L127.78,74.13 L128.24,74.22 L128.71,74.30 L129.18,74.39 L129.64,74.47 L130.11,74.54 L130.57,74.62 L131.04,74.68 L131.51,74.74 L131.97,74.79 L132.44,74.83 L132.90,74.86 L133.37,74.89 L133.84,74.90 L134.30,74.89 L134.77,74.87 L135.23,74.84 L135.70,74.78 L136.17,74.71 L136.63,74.60 L137.10,74.47 L137.56,74.31 L138.03,74.12 L138.50,73.89 L138.96,73.63 L139.43,73.33 L139.89,73.00 L140.36,72.63 L140.83,72.24 L141.29,71.82 L141.76,71.38 L142.22,70.93 L142.69,70.49 L143.16,70.05 L143.62,69.63 L144.09,69.24 L144.55,68.88 L145.02,68.58 L145.49,68.34 L145.95,68.17 L146.42,68.06 L146.88,68.04 L147.35,68.09 L147.82,68.21 L148.28,68.41 L148.75,68.67 L149.21,69.00 L149.68,69.37 L150.15,69.78 L150.61,70.23 L151.08,70.69 L151.54,71.16 L152.01,71.63 L152.48,72.09 L152.94,72.53 L153.41,72.95 L153.87,73.34 L154.34,73.70 L154.81,74.03 L155.27,74.32 L155.74,74.57 L156.20,74.79 L156.67,74.99 L157.14,75.15 L157.60,75.29 L158.07,75.40 L158.53,75.50 L159.00,75.57 L159.47,75.64 L159.93,75.69 L160.40,75.73 L160.86,75.76 L161.33,75.78 L161.80,75.80 L162.26,75.82 L162.73,75.83 L163.19,75.84 L163.66,75.85 L164.13,75.86 L164.59,75.86 L165.06,75.87 L165.52,75.87 L165.99,75.88 L166.46,75.88 L166.92,75.89 L167.39,75.89 L167.85,75.89 L168.32,75.90 L168.79,75.90 L169.25,75.90 L169.72,75.91 L170.18,75.91 L170.65,75.91 L171.12,75.91 L171.58,75.92 L172.05,75.92 L172.51,75.92 L172.98,75.92 L173.45,75.93 L173.91,75.93 L174.38,75.93 L174.84,75.93 L175.31,75.93 L175.78,75.94 L176.24,75.94 L176.71,75.94 L177.17,75.94 L177.64,75.94 L178.11,75.95 L178.57,75.95 L179.04,75.95 L179.50,75.95 L179.97,75.95 L180.44,75.95" stroke="#c080e4" stroke-width="0.7" fill="none" stroke-linejoin="round"/>
<path d="M106.81,72.02 L107.27,72.10 L107.74,72.19 L108.21,72.27 L108.67,72.35 L109.14,72.42 L109.60,72.49 L110.07,72.56 L110.54,72.62 L111.00,72.68 L111.47,72.73 L111.93,72.78 L112.40,72.83 L112.87,72.87 L113.33,72.91 L113.80,72.94 L114.26,72.97 L114.73,72.99 L115.20,73.02 L115.66,73.04 L116.13,73.05 L116.59,73.07 L117.06,73.09 L117.53,73.10 L117.99,73.12 L118.46,73.14 L118.92,73.16 L119.39,73.18 L119.86,73.21 L120.32,73.24 L120.79,73.27 L121.25,73.31 L121.72,73.35 L122.19,73.40 L122.65,73.45 L123.12,73.51 L123.58,73.57 L124.05,73.64 L124.52,73.71 L124.98,73.78 L125.45,73.86 L125.91,73.93 L126.38,74.01 L126.85,74.09 L127.31,74.17 L127.78,74.24 L128.24,74.32 L128.71,74.39 L129.18,74.46 L129.64,74.53 L130.11,74.59 L130.57,74.65 L131.04,74.71 L131.51,74.76 L131.97,74.80 L132.44,74.84 L132.90,74.87 L133.37,74.90 L133.84,74.91 L134.30,74.92 L134.77,74.92 L135.23,74.90 L135.70,74.87 L136.17,74.82 L136.63,74.75 L137.10,74.67 L137.56,74.56 L138.03,74.43 L138.50,74.27 L138.96,74.09 L139.43,73.89 L139.89,73.66 L140.36,73.40 L140.83,73.13 L141.29,72.84 L141.76,72.54 L142.22,72.22 L142.69,71.91 L143.16,71.61 L143.62,71.31 L144.09,71.04 L144.55,70.80 L145.02,70.59 L145.49,70.42 L145.95,70.30 L146.42,70.23 L146.88,70.22 L147.35,70.26 L147.82,70.35 L148.28,70.49 L148.75,70.68 L149.21,70.91 L149.68,71.18 L150.15,71.48 L150.61,71.80 L151.08,72.13 L151.54,72.46 L152.01,72.80 L152.48,73.13 L152.94,73.45 L153.41,73.75 L153.87,74.02 L154.34,74.28 L154.81,74.51 L155.27,74.72 L155.74,74.91 L156.20,75.07 L156.67,75.20 L157.14,75.32 L157.60,75.42 L158.07,75.51 L158.53,75.57 L159.00,75.63 L159.47,75.68 L159.93,75.71 L160.40,75.74 L160.86,75.77 L161.33,75.79 L161.80,75.80 L162.26,75.82 L162.73,75.83 L163.19,75.84 L163.66,75.84 L164.13,75.85 L164.59,75.86 L165.06,75.86 L165.52,75.87 L165.99,75.87 L166.46,75.88 L166.92,75.88 L167.39,75.88 L167.85,75.89 L168.32,75.89 L168.79,75.89 L169.25,75.90 L169.72,75.90 L170.18,75.90 L170.65,75.91 L171.12,75.91 L171.58,75.91 L172.05,75.91 L172.51,75.92 L172.98,75.92 L173.45,75.92 L173.91,75.92 L174.38,75.93 L174.84,75.93 L175.31,75.93 L175.78,75.93 L176.24,75.93 L176.71,75.94 L177.17,75.94 L177.64,75.94 L178.11,75.94 L178.57,75.94 L179.04,75.95 L179.50,75.95 L179.97,75.95 L180.44,75.95" stroke="#b090e8" stroke-width="0.7" fill="none" stroke-linejoin="round"/>
<path d="M106.81,72.00 L107.27,72.09 L107.74,72.18 L108.21,72.26 L108.67,72.34 L109.14,72.42 L109.60,72.49 L110.07,72.57 L110.54,72.63 L111.00,72.70 L111.47,72.76 L111.93,72.82 L112.40,72.87 L112.87,72.92 L113.33,72.97 L113.80,73.01 L114.26,73.05 L114.73,73.09 L115.20,73.13 L115.66,73.16 L116.13,73.19 L116.59,73.22 L117.06,73.25 L117.53,73.28 L117.99,73.31 L118.46,73.33 L118.92,73.36 L119.39,73.40 L119.86,73.43 L120.32,73.47 L120.79,73.50 L121.25,73.55 L121.72,73.59 L122.19,73.64 L122.65,73.69 L123.12,73.74 L123.58,73.80 L124.05,73.86 L124.52,73.92 L124.98,73.98 L125.45,74.05 L125.91,74.11 L126.38,74.18 L126.85,74.24 L127.31,74.31 L127.78,74.37 L128.24,74.44 L128.71,74.50 L129.18,74.56 L129.64,74.62 L130.11,74.67 L130.57,74.72 L131.04,74.77 L131.51,74.81 L131.97,74.85 L132.44,74.89 L132.90,74.92 L133.37,74.94 L133.84,74.96 L134.30,74.97 L134.77,74.98 L135.23,74.97 L135.70,74.95 L136.17,74.93 L136.63,74.89 L137.10,74.83 L137.56,74.76 L138.03,74.67 L138.50,74.57 L138.96,74.45 L139.43,74.31 L139.89,74.15 L140.36,73.97 L140.83,73.78 L141.29,73.58 L141.76,73.37 L142.22,73.15 L142.69,72.93 L143.16,72.72 L143.62,72.52 L144.09,72.33 L144.55,72.16 L145.02,72.01 L145.49,71.90 L145.95,71.82 L146.42,71.77 L146.88,71.76 L147.35,71.80 L147.82,71.86 L148.28,71.97 L148.75,72.11 L149.21,72.28 L149.68,72.47 L150.15,72.68 L150.61,72.91 L151.08,73.15 L151.54,73.39 L152.01,73.63 L152.48,73.87 L152.94,74.10 L153.41,74.31 L153.87,74.51 L154.34,74.70 L154.81,74.87 L155.27,75.02 L155.74,75.15 L156.20,75.27 L156.67,75.37 L157.14,75.45 L157.60,75.53 L158.07,75.59 L158.53,75.64 L159.00,75.68 L159.47,75.71 L159.93,75.74 L160.40,75.76 L160.86,75.78 L161.33,75.80 L161.80,75.81 L162.26,75.82 L162.73,75.83 L163.19,75.84 L163.66,75.85 L164.13,75.85 L164.59,75.86 L165.06,75.86 L165.52,75.87 L165.99,75.87 L166.46,75.88 L166.92,75.88 L167.39,75.88 L167.85,75.89 L168.32,75.89 L168.79,75.89 L169.25,75.90 L169.72,75.90 L170.18,75.90 L170.65,75.91 L171.12,75.91 L171.58,75.91 L172.05,75.91 L172.51,75.92 L172.98,75.92 L173.45,75.92 L173.91,75.92 L174.38,75.93 L174.84,75.93 L175.31,75.93 L175.78,75.93 L176.24,75.93 L176.71,75.94 L177.17,75.94 L177.64,75.94 L178.11,75.94 L178.57,75.94 L179.04,75.95 L179.50,75.95 L179.97,75.95 L180.44,75.95" stroke="#a098f0" stroke-width="0.7" fill="none" stroke-linejoin="round"/>
<path d="M106.81,71.97 L107.27,72.07 L107.74,72.16 L108.21,72.24 L108.67,72.33 L109.14,72.41 L109.60,72.49 L110.07,72.57 L110.54,72.64 L111.00,72.71 L111.47,72.78 L111.93,72.85 L112.40,72.91 L112.87,72.97 L113.33,73.02 L113.80,73.08 L114.26,73.13 L114.73,73.18 L115.20,73.22 L115.66,73.27 L116.13,73.31 L116.59,73.35 L117.06,73.39 L117.53,73.43 L117.99,73.47 L118.46,73.51 L118.92,73.55 L119.39,73.59 L119.86,73.63 L120.32,73.67 L120.79,73.72 L121.25,73.76 L121.72,73.81 L122.19,73.85 L122.65,73.90 L123.12,73.95 L123.58,74.00 L124.05,74.06 L124.52,74.11 L124.98,74.17 L125.45,74.22 L125.91,74.28 L126.38,74.33 L126.85,74.39 L127.31,74.44 L127.78,74.49 L128.24,74.55 L128.71,74.60 L129.18,74.65 L129.64,74.69 L130.11,74.74 L130.57,74.78 L131.04,74.82 L131.51,74.86 L131.97,74.90 L132.44,74.93 L132.90,74.96 L133.37,74.98 L133.84,75.00 L134.30,75.02 L134.77,75.03 L135.23,75.04 L135.70,75.03 L136.17,75.03 L136.63,75.01 L137.10,74.98 L137.56,74.95 L138.03,74.90 L138.50,74.84 L138.96,74.77 L139.43,74.69 L139.89,74.60 L140.36,74.50 L140.83,74.38 L141.29,74.26 L141.76,74.14 L142.22,74.01 L142.69,73.88 L143.16,73.75 L143.62,73.63 L144.09,73.51 L144.55,73.41 L145.02,73.33 L145.49,73.26 L145.95,73.22 L146.42,73.19 L146.88,73.19 L147.35,73.22 L147.82,73.26 L148.28,73.33 L148.75,73.42 L149.21,73.53 L149.68,73.66 L150.15,73.80 L150.61,73.94 L151.08,74.09 L151.54,74.25 L152.01,74.40 L152.48,74.55 L152.94,74.70 L153.41,74.84 L153.87,74.97 L154.34,75.09 L154.81,75.19 L155.27,75.29 L155.74,75.38 L156.20,75.45 L156.67,75.52 L157.14,75.57 L157.60,75.62 L158.07,75.66 L158.53,75.69 L159.00,75.72 L159.47,75.75 L159.93,75.77 L160.40,75.78 L160.86,75.80 L161.33,75.81 L161.80,75.82 L162.26,75.83 L162.73,75.83 L163.19,75.84 L163.66,75.85 L164.13,75.85 L164.59,75.86 L165.06,75.86 L165.52,75.87 L165.99,75.87 L166.46,75.87 L166.92,75.88 L167.39,75.88 L167.85,75.89 L168.32,75.89 L168.79,75.89 L169.25,75.90 L169.72,75.90 L170.18,75.90 L170.65,75.90 L171.12,75.91 L171.58,75.91 L172.05,75.91 L172.51,75.92 L172.98,75.92 L173.45,75.92 L173.91,75.92 L174.38,75.93 L174.84,75.93 L175.31,75.93 L175.78,75.93 L176.24,75.93 L176.71,75.94 L177.17,75.94 L177.64,75.94 L178.11,75.94 L178.57,75.94 L179.04,75.95 L179.50,75.95 L179.97,75.95 L180.44,75.95" stroke="#8a90f0" stroke-width="0.7" fill="none" stroke-linejoin="round"/>
<path d="M106.81,71.87 L107.27,71.97 L107.74,72.06 L108.21,72.16 L108.67,72.24 L109.14,72.33 L109.60,72.42 L110.07,72.50 L110.54,72.58 L111.00,72.66 L111.47,72.73 L111.93,72.80 L112.40,72.88 L112.87,72.94 L113.33,73.01 L113.80,73.07 L114.26,73.13 L114.73,73.19 L115.20,73.25 L115.66,73.31 L116.13,73.36 L116.59,73.42 L117.06,73.47 L117.53,73.52 L117.99,73.57 L118.46,73.62 L118.92,73.66 L119.39,73.71 L119.86,73.76 L120.32,73.81 L120.79,73.85 L121.25,73.90 L121.72,73.95 L122.19,74.00 L122.65,74.04 L123.12,74.09 L123.58,74.14 L124.05,74.19 L124.52,74.24 L124.98,74.29 L125.45,74.33 L125.91,74.38 L126.38,74.43 L126.85,74.48 L127.31,74.52 L127.78,74.57 L128.24,74.61 L128.71,74.65 L129.18,74.69 L129.64,74.73 L130.11,74.77 L130.57,74.81 L131.04,74.85 L131.51,74.88 L131.97,74.91 L132.44,74.94 L132.90,74.97 L133.37,75.00 L133.84,75.02 L134.30,75.04 L134.77,75.06 L135.23,75.07 L135.70,75.08 L136.17,75.09 L136.63,75.09 L137.10,75.09 L137.56,75.08 L138.03,75.07 L138.50,75.05 L138.96,75.03 L139.43,75.00 L139.89,74.96 L140.36,74.92 L140.83,74.87 L141.29,74.82 L141.76,74.77 L142.22,74.71 L142.69,74.65 L143.16,74.60 L143.62,74.54 L144.09,74.49 L144.55,74.45 L145.02,74.41 L145.49,74.39 L145.95,74.37 L146.42,74.37 L146.88,74.37 L147.35,74.39 L147.82,74.42 L148.28,74.46 L148.75,74.51 L149.21,74.57 L149.68,74.64 L150.15,74.71 L150.61,74.79 L151.08,74.87 L151.54,74.96 L152.01,75.04 L152.48,75.12 L152.94,75.20 L153.41,75.27 L153.87,75.34 L154.34,75.40 L154.81,75.46 L155.27,75.51 L155.74,75.56 L156.20,75.60 L156.67,75.64 L157.14,75.67 L157.60,75.69 L158.07,75.72 L158.53,75.74 L159.00,75.76 L159.47,75.77 L159.93,75.78 L160.40,75.80 L160.86,75.80 L161.33,75.81 L161.80,75.82 L162.26,75.83 L162.73,75.83 L163.19,75.84 L163.66,75.85 L164.13,75.85 L164.59,75.85 L165.06,75.86 L165.52,75.86 L165.99,75.87 L166.46,75.87 L166.92,75.88 L167.39,75.88 L167.85,75.88 L168.32,75.89 L168.79,75.89 L169.25,75.89 L169.72,75.90 L170.18,75.90 L170.65,75.90 L171.12,75.91 L171.58,75.91 L172.05,75.91 L172.51,75.91 L172.98,75.92 L173.45,75.92 L173.91,75.92 L174.38,75.92 L174.84,75.93 L175.31,75.93 L175.78,75.93 L176.24,75.93 L176.71,75.93 L177.17,75.94 L177.64,75.94 L178.11,75.94 L178.57,75.94 L179.04,75.94 L179.50,75.95 L179.97,75.95 L180.44,75.95" stroke="#4a7af0" stroke-width="0.7" fill="none" stroke-linejoin="round"/>
<path d="M106.81,72.65 L107.27,72.70 L107.74,72.76 L108.21,72.80 L108.67,72.84 L109.14,72.87 L109.60,72.90 L110.07,72.91 L110.54,72.92 L111.00,72.91 L111.47,72.90 L111.93,72.87 L112.40,72.84 L112.87,72.80 L113.33,72.74 L113.80,72.68 L114.26,72.61 L114.73,72.53 L115.20,72.44 L115.66,72.35 L116.13,72.26 L116.59,72.16 L117.06,72.07 L117.53,71.98 L117.99,71.90 L118.46,71.82 L118.92,71.75 L119.39,71.70 L119.86,71.66 L120.32,71.63 L120.79,71.62 L121.25,71.63 L121.72,71.66 L122.19,71.71 L122.65,71.77 L123.12,71.86 L123.58,71.96 L124.05,72.08 L124.52,72.21 L124.98,72.35 L125.45,72.50 L125.91,72.67 L126.38,72.83 L126.85,73.00 L127.31,73.18 L127.78,73.35 L128.24,73.51 L128.71,73.68 L129.18,73.83 L129.64,73.98 L130.11,74.12 L130.57,74.24 L131.04,74.36 L131.51,74.45 L131.97,74.53 L132.44,74.60 L132.90,74.64 L133.37,74.66 L133.84,74.65 L134.30,74.61 L134.77,74.53 L135.23,74.42 L135.70,74.25 L136.17,74.04 L136.63,73.77 L137.10,73.43 L137.56,73.02 L138.03,72.54 L138.50,71.97 L138.96,71.33 L139.43,70.60 L139.89,69.79 L140.36,68.90 L140.83,67.94 L141.29,66.93 L141.76,65.88 L142.22,64.80 L142.69,63.72 L143.16,62.67 L143.62,61.65 L144.09,60.71 L144.55,59.86 L145.02,59.13 L145.49,58.54 L145.95,58.11 L146.42,57.85 L146.88,57.77 L147.35,57.87 L147.82,58.15 L148.28,58.60 L148.75,59.21 L149.21,59.96 L149.68,60.83 L150.15,61.79 L150.61,62.82 L151.08,63.90 L151.54,65.00 L152.01,66.10 L152.48,67.18 L152.94,68.21 L153.41,69.19 L153.87,70.10 L154.34,70.94 L154.81,71.69 L155.27,72.37 L155.74,72.96 L156.20,73.48 L156.67,73.92 L157.14,74.30 L157.60,74.62 L158.07,74.88 L158.53,75.09 L159.00,75.27 L159.47,75.41 L159.93,75.52 L160.40,75.60 L160.86,75.67 L161.33,75.73 L161.80,75.77 L162.26,75.80 L162.73,75.82 L163.19,75.84 L163.66,75.85 L164.13,75.86 L164.59,75.87 L165.06,75.88 L165.52,75.89 L165.99,75.89 L166.46,75.90 L166.92,75.90 L167.39,75.90 L167.85,75.91 L168.32,75.91 L168.79,75.91 L169.25,75.91 L169.72,75.92 L170.18,75.92 L170.65,75.92 L171.12,75.92 L171.58,75.93 L172.05,75.93 L172.51,75.93 L172.98,75.93 L173.45,75.93 L173.91,75.94 L174.38,75.94 L174.84,75.94 L175.31,75.94 L175.78,75.94 L176.24,75.95 L176.71,75.95 L177.17,75.95 L177.64,75.95 L178.11,75.95 L178.57,75.95 L179.04,75.95 L179.50,75.96 L179.97,75.96 L180.44,75.96" stroke="#dc6adc" stroke-width="0.7" fill="none" stroke-linejoin="round"/>
<path d="M106.81,72.94 L107.27,72.97 L107.74,73.00 L108.21,73.01 L108.67,73.02 L109.14,73.01 L109.60,72.99 L110.07,72.96 L110.54,72.91 L111.00,72.84 L111.47,72.76 L111.93,72.67 L112.40,72.55 L112.87,72.42 L113.33,72.28 L113.80,72.12 L114.26,71.94 L114.73,71.75 L115.20,71.56 L115.66,71.35 L116.13,71.14 L116.59,70.93 L117.06,70.72 L117.53,70.52 L117.99,70.33 L118.46,70.16 L118.92,70.00 L119.39,69.87 L119.86,69.76 L120.32,69.68 L120.79,69.63 L121.25,69.61 L121.72,69.63 L122.19,69.68 L122.65,69.76 L123.12,69.88 L123.58,70.03 L124.05,70.20 L124.52,70.41 L124.98,70.63 L125.45,70.88 L125.91,71.13 L126.38,71.40 L126.85,71.68 L127.31,71.96 L127.78,72.23 L128.24,72.51 L128.71,72.77 L129.18,73.02 L129.64,73.26 L130.11,73.48 L130.57,73.68 L131.04,73.86 L131.51,74.02 L131.97,74.14 L132.44,74.23 L132.90,74.29 L133.37,74.30 L133.84,74.27 L134.30,74.18 L134.77,74.03 L135.23,73.81 L135.70,73.50 L136.17,73.11 L136.63,72.61 L137.10,72.00 L137.56,71.26 L138.03,70.40 L138.50,69.39 L138.96,68.23 L139.43,66.93 L139.89,65.48 L140.36,63.90 L140.83,62.20 L141.29,60.40 L141.76,58.53 L142.22,56.62 L142.69,54.70 L143.16,52.82 L143.62,51.02 L144.09,49.34 L144.55,47.84 L145.02,46.54 L145.49,45.49 L145.95,44.72 L146.42,44.25 L146.88,44.10 L147.35,44.27 L147.82,44.76 L148.28,45.54 L148.75,46.61 L149.21,47.93 L149.68,49.45 L150.15,51.14 L150.61,52.96 L151.08,54.86 L151.54,56.80 L152.01,58.74 L152.48,60.63 L152.94,62.45 L153.41,64.17 L153.87,65.78 L154.34,67.25 L154.81,68.58 L155.27,69.77 L155.74,70.81 L156.20,71.72 L156.67,72.50 L157.14,73.16 L157.60,73.71 L158.07,74.17 L158.53,74.55 L159.00,74.85 L159.47,75.09 L159.93,75.28 L160.40,75.43 L160.86,75.55 L161.33,75.64 L161.80,75.71 L162.26,75.76 L162.73,75.80 L163.19,75.83 L163.66,75.85 L164.13,75.86 L164.59,75.88 L165.06,75.89 L165.52,75.89 L165.99,75.90 L166.46,75.90 L166.92,75.91 L167.39,75.91 L167.85,75.92 L168.32,75.92 L168.79,75.92 L169.25,75.92 L169.72,75.93 L170.18,75.93 L170.65,75.93 L171.12,75.93 L171.58,75.93 L172.05,75.94 L172.51,75.94 L172.98,75.94 L173.45,75.94 L173.91,75.94 L174.38,75.95 L174.84,75.95 L175.31,75.95 L175.78,75.95 L176.24,75.95 L176.71,75.95 L177.17,75.95 L177.64,75.96 L178.11,75.96 L178.57,75.96 L179.04,75.96 L179.50,75.96 L179.97,75.96 L180.44,75.96" stroke="#ec58d6" stroke-width="0.7" fill="none" stroke-linejoin="round"/>
<path d="M106.81,73.18 L107.27,73.19 L107.74,73.20 L108.21,73.19 L108.67,73.17 L109.14,73.13 L109.60,73.08 L110.07,73.01 L110.54,72.92 L111.00,72.81 L111.47,72.69 L111.93,72.54 L112.40,72.36 L112.87,72.17 L113.33,71.95 L113.80,71.72 L114.26,71.47 L114.73,71.20 L115.20,70.92 L115.66,70.63 L116.13,70.33 L116.59,70.04 L117.06,69.74 L117.53,69.46 L117.99,69.19 L118.46,68.94 L118.92,68.72 L119.39,68.53 L119.86,68.37 L120.32,68.24 L120.79,68.16 L121.25,68.13 L121.72,68.13 L122.19,68.19 L122.65,68.29 L123.12,68.43 L123.58,68.61 L124.05,68.83 L124.52,69.09 L124.98,69.37 L125.45,69.68 L125.91,70.01 L126.38,70.36 L126.85,70.71 L127.31,71.07 L127.78,71.42 L128.24,71.77 L128.71,72.11 L129.18,72.43 L129.64,72.74 L130.11,73.02 L130.57,73.28 L131.04,73.51 L131.51,73.70 L131.97,73.85 L132.44,73.97 L132.90,74.03 L133.37,74.04 L133.84,73.99 L134.30,73.87 L134.77,73.66 L135.23,73.36 L135.70,72.95 L136.17,72.43 L136.63,71.76 L137.10,70.95 L137.56,69.97 L138.03,68.82 L138.50,67.48 L138.96,65.94 L139.43,64.22 L139.89,62.30 L140.36,60.21 L140.83,57.96 L141.29,55.58 L141.76,53.11 L142.22,50.57 L142.69,48.04 L143.16,45.55 L143.62,43.17 L144.09,40.95 L144.55,38.95 L145.02,37.24 L145.49,35.85 L145.95,34.83 L146.42,34.20 L146.88,34.00 L147.35,34.22 L147.82,34.86 L148.28,35.90 L148.75,37.30 L149.21,39.03 L149.68,41.04 L150.15,43.28 L150.61,45.68 L151.08,48.19 L151.54,50.74 L152.01,53.29 L152.48,55.79 L152.94,58.19 L153.41,60.46 L153.87,62.58 L154.34,64.52 L154.81,66.28 L155.27,67.84 L155.74,69.22 L156.20,70.42 L156.67,71.45 L157.14,72.32 L157.60,73.05 L158.07,73.65 L158.53,74.14 L159.00,74.54 L159.47,74.86 L159.93,75.11 L160.40,75.31 L160.86,75.46 L161.33,75.58 L161.80,75.66 L162.26,75.73 L162.73,75.78 L163.19,75.82 L163.66,75.84 L164.13,75.87 L164.59,75.88 L165.06,75.89 L165.52,75.90 L165.99,75.91 L166.46,75.91 L166.92,75.92 L167.39,75.92 L167.85,75.92 L168.32,75.93 L168.79,75.93 L169.25,75.93 L169.72,75.93 L170.18,75.93 L170.65,75.94 L171.12,75.94 L171.58,75.94 L172.05,75.94 L172.51,75.94 L172.98,75.95 L173.45,75.95 L173.91,75.95 L174.38,75.95 L174.84,75.95 L175.31,75.95 L175.78,75.95 L176.24,75.96 L176.71,75.96 L177.17,75.96 L177.64,75.96 L178.11,75.96 L178.57,75.96 L179.04,75.96 L179.50,75.96 L179.97,75.97 L180.44,75.97" stroke="#f848d0" stroke-width="0.7" fill="none" stroke-linejoin="round"/>
<path d="M106.81,71.78 L107.27,71.88 L107.74,71.98 L108.21,72.07 L108.67,72.17 L109.14,72.26 L109.60,72.35 L110.07,72.43 L110.54,72.52 L111.00,72.60 L111.47,72.68 L111.93,72.76 L112.40,72.84 L112.87,72.91 L113.33,72.99 L113.80,73.06 L114.26,73.13 L114.73,73.20 L115.20,73.26 L115.66,73.33 L116.13,73.39 L116.59,73.45 L117.06,73.51 L117.53,73.57 L117.99,73.63 L118.46,73.68 L118.92,73.74 L119.39,73.79 L119.86,73.85 L120.32,73.90 L120.79,73.95 L121.25,74.00 L121.72,74.05 L122.19,74.10 L122.65,74.14 L123.12,74.19 L123.58,74.24 L124.05,74.28 L124.52,74.33 L124.98,74.37 L125.45,74.41 L125.91,74.46 L126.38,74.50 L126.85,74.54 L127.31,74.58 L127.78,74.62 L128.24,74.65 L128.71,74.69 L129.18,74.73 L129.64,74.76 L130.11,74.79 L130.57,74.83 L131.04,74.86 L131.51,74.89 L131.97,74.92 L132.44,74.95 L132.90,74.98 L133.37,75.00 L133.84,75.03 L134.30,75.05 L134.77,75.08 L135.23,75.10 L135.70,75.12 L136.17,75.14 L136.63,75.16 L137.10,75.17 L137.56,75.19 L138.03,75.20 L138.50,75.21 L138.96,75.22 L139.43,75.23 L139.89,75.23 L140.36,75.23 L140.83,75.24 L141.29,75.24 L141.76,75.23 L142.22,75.23 L142.69,75.23 L143.16,75.23 L143.62,75.23 L144.09,75.23 L144.55,75.23 L145.02,75.23 L145.49,75.23 L145.95,75.24 L146.42,75.25 L146.88,75.26 L147.35,75.27 L147.82,75.29 L148.28,75.31 L148.75,75.33 L149.21,75.35 L149.68,75.38 L150.15,75.40 L150.61,75.43 L151.08,75.46 L151.54,75.49 L152.01,75.51 L152.48,75.54 L152.94,75.57 L153.41,75.59 L153.87,75.62 L154.34,75.64 L154.81,75.66 L155.27,75.68 L155.74,75.69 L156.20,75.71 L156.67,75.72 L157.14,75.74 L157.60,75.75 L158.07,75.76 L158.53,75.77 L159.00,75.78 L159.47,75.79 L159.93,75.80 L160.40,75.80 L160.86,75.81 L161.33,75.82 L161.80,75.82 L162.26,75.83 L162.73,75.83 L163.19,75.84 L163.66,75.84 L164.13,75.85 L164.59,75.85 L165.06,75.86 L165.52,75.86 L165.99,75.86 L166.46,75.87 L166.92,75.87 L167.39,75.88 L167.85,75.88 L168.32,75.88 L168.79,75.89 L169.25,75.89 L169.72,75.89 L170.18,75.90 L170.65,75.90 L171.12,75.90 L171.58,75.91 L172.05,75.91 L172.51,75.91 L172.98,75.91 L173.45,75.92 L173.91,75.92 L174.38,75.92 L174.84,75.92 L175.31,75.93 L175.78,75.93 L176.24,75.93 L176.71,75.93 L177.17,75.94 L177.64,75.94 L178.11,75.94 L178.57,75.94 L179.04,75.94 L179.50,75.94 L179.97,75.95 L180.44,75.95" stroke="#2f6cf0" stroke-width="0.9" fill="none" stroke-linejoin="round"/>
<path d="M106.81,73.45 L107.27,73.45 L107.74,73.45 L108.21,73.43 L108.67,73.39 L109.14,73.34 L109.60,73.27 L110.07,73.18 L110.54,73.07 L111.00,72.94 L111.47,72.79 L111.93,72.61 L112.40,72.41 L112.87,72.19 L113.33,71.94 L113.80,71.68 L114.26,71.39 L114.73,71.09 L115.20,70.77 L115.66,70.44 L116.13,70.11 L116.59,69.77 L117.06,69.44 L117.53,69.12 L117.99,68.82 L118.46,68.54 L118.92,68.28 L119.39,68.06 L119.86,67.88 L120.32,67.74 L120.79,67.64 L121.25,67.60 L121.72,67.60 L122.19,67.65 L122.65,67.75 L123.12,67.90 L123.58,68.10 L124.05,68.33 L124.52,68.61 L124.98,68.92 L125.45,69.25 L125.91,69.61 L126.38,69.98 L126.85,70.37 L127.31,70.76 L127.78,71.14 L128.24,71.52 L128.71,71.89 L129.18,72.24 L129.64,72.58 L130.11,72.88 L130.57,73.16 L131.04,73.41 L131.51,73.61 L131.97,73.78 L132.44,73.90 L132.90,73.97 L133.37,73.98 L133.84,73.92 L134.30,73.78 L134.77,73.55 L135.23,73.21 L135.70,72.76 L136.17,72.18 L136.63,71.45 L137.10,70.55 L137.56,69.47 L138.03,68.20 L138.50,66.72 L138.96,65.03 L139.43,63.13 L139.89,61.02 L140.36,58.72 L140.83,56.24 L141.29,53.62 L141.76,50.90 L142.22,48.11 L142.69,45.32 L143.16,42.58 L143.62,39.95 L144.09,37.51 L144.55,35.32 L145.02,33.43 L145.49,31.90 L145.95,30.77 L146.42,30.09 L146.88,29.86 L147.35,30.10 L147.82,30.80 L148.28,31.94 L148.75,33.48 L149.21,35.39 L149.68,37.60 L150.15,40.05 L150.61,42.69 L151.08,45.45 L151.54,48.26 L152.01,51.06 L152.48,53.81 L152.94,56.45 L153.41,58.95 L153.87,61.28 L154.34,63.41 L154.81,65.34 L155.27,67.06 L155.74,68.58 L156.20,69.90 L156.67,71.03 L157.14,71.98 L157.60,72.78 L158.07,73.45 L158.53,73.99 L159.00,74.42 L159.47,74.77 L159.93,75.05 L160.40,75.26 L160.86,75.43 L161.33,75.56 L161.80,75.65 L162.26,75.73 L162.73,75.78 L163.19,75.82 L163.66,75.85 L164.13,75.87 L164.59,75.89 L165.06,75.90 L165.52,75.91 L165.99,75.92 L166.46,75.92 L166.92,75.92 L167.39,75.93 L167.85,75.93 L168.32,75.93 L168.79,75.94 L169.25,75.94 L169.72,75.94 L170.18,75.94 L170.65,75.94 L171.12,75.95 L171.58,75.95 L172.05,75.95 L172.51,75.95 L172.98,75.95 L173.45,75.95 L173.91,75.95 L174.38,75.96 L174.84,75.96 L175.31,75.96 L175.78,75.96 L176.24,75.96 L176.71,75.96 L177.17,75.96 L177.64,75.96 L178.11,75.97 L178.57,75.97 L179.04,75.97 L179.50,75.97 L179.97,75.97 L180.44,75.97" stroke="#ff30c0" stroke-width="1.5" fill="none" stroke-linejoin="round"/>
</g>
<rect x="109" y="18" width="69.4" height="64" fill="none" stroke="#000" stroke-width="0.9"/>
<line x1="107.6" y1="76" x2="109" y2="76" stroke="#000" stroke-width="0.7"/>
<text x="107.3" y="77.8" font-size="5.3" text-anchor="end" font-weight="bold" fill="#000">0</text>
<line x1="107.6" y1="64.08" x2="109" y2="64.08" stroke="#000" stroke-width="0.7"/>
<text x="107.3" y="65.88" font-size="5.3" text-anchor="end" font-weight="bold" fill="#000">20</text>
<line x1="107.6" y1="52.16" x2="109" y2="52.16" stroke="#000" stroke-width="0.7"/>
<text x="107.3" y="53.96" font-size="5.3" text-anchor="end" font-weight="bold" fill="#000">40</text>
<line x1="107.6" y1="40.24" x2="109" y2="40.24" stroke="#000" stroke-width="0.7"/>
<text x="107.3" y="42.04" font-size="5.3" text-anchor="end" font-weight="bold" fill="#000">60</text>
<line x1="107.6" y1="28.32" x2="109" y2="28.32" stroke="#000" stroke-width="0.7"/>
<text x="107.3" y="30.12" font-size="5.3" text-anchor="end" font-weight="bold" fill="#000">80</text>
<line x1="108.1" y1="70.04" x2="109" y2="70.04" stroke="#000" stroke-width="0.6"/>
<line x1="108.1" y1="58.12" x2="109" y2="58.12" stroke="#000" stroke-width="0.6"/>
<line x1="108.1" y1="46.2" x2="109" y2="46.2" stroke="#000" stroke-width="0.6"/>
<line x1="108.1" y1="34.28" x2="109" y2="34.28" stroke="#000" stroke-width="0.6"/>
<line x1="108.1" y1="22.36" x2="109" y2="22.36" stroke="#000" stroke-width="0.6"/>
<line x1="112.4" y1="82" x2="112.4" y2="83.4" stroke="#000" stroke-width="0.7"/>
<text x="112.4" y="88.6" font-size="5.5" text-anchor="middle" font-weight="bold" fill="#000">580</text>
<line x1="131.04" y1="82" x2="131.04" y2="83.4" stroke="#000" stroke-width="0.7"/>
<text x="131.04" y="88.6" font-size="5.5" text-anchor="middle" font-weight="bold" fill="#000">600</text>
<line x1="149.68" y1="82" x2="149.68" y2="83.4" stroke="#000" stroke-width="0.7"/>
<text x="149.68" y="88.6" font-size="5.5" text-anchor="middle" font-weight="bold" fill="#000">620</text>
<line x1="168.32" y1="82" x2="168.32" y2="83.4" stroke="#000" stroke-width="0.7"/>
<text x="168.32" y="88.6" font-size="5.5" text-anchor="middle" font-weight="bold" fill="#000">640</text>
<line x1="121.72" y1="82" x2="121.72" y2="82.9" stroke="#000" stroke-width="0.6"/>
<line x1="140.36" y1="82" x2="140.36" y2="82.9" stroke="#000" stroke-width="0.6"/>
<line x1="159" y1="82" x2="159" y2="82.9" stroke="#000" stroke-width="0.6"/>
<line x1="177.64" y1="82" x2="177.64" y2="82.9" stroke="#000" stroke-width="0.6"/>
<text x="133.6" y="26.4" font-size="7.2" text-anchor="middle" font-weight="bold" fill="#ff2ec0" stroke="#ff2ec0" stroke-width="0.22">25 μM</text>
<text x="122.9" y="43.8" font-size="7" text-anchor="middle" font-weight="bold" fill="#000" stroke="#000" stroke-width="0.22">OTC</text>
<text x="133.3" y="61.4" font-size="8" text-anchor="middle" font-weight="bold" fill="#3a78f0" stroke="#3a78f0" stroke-width="0.22">0</text>
<rect x="132.35" y="32.5" width="1.5" height="21.8" fill="url(#garr2)"/>
<path d="M131.2,33.2 L135.0,33.2 L133.1,28.9 Z" fill="#ff3ec8"/>
<defs><clipPath id="clipb"><path d="M270.40,145.90 A48.30,51.30 0 0 1 367.00,145.90 Z"/></clipPath>
<linearGradient id="gph" x1="0" y1="0" x2="1" y2="0"><stop offset="0" stop-color="#3050ea"/><stop offset="0.3" stop-color="#4e5af4"/><stop offset="0.5" stop-color="#7c5cf0"/><stop offset="0.68" stop-color="#b45ce6"/><stop offset="0.85" stop-color="#dc5ede"/><stop offset="1" stop-color="#f26ad8"/></linearGradient>
</defs>
<g clip-path="url(#clipb)">
<rect x="269.4" y="93.6" width="98.6" height="53.3" fill="url(#gph)" stroke="#000" stroke-width="0"/>
<path d="M307.71,145.37 L277.70,145.29 L277.87,141.95 L307.72,145.21 Z" fill="#1a1458" opacity="0.6"/>
<path d="M308.40,141.79 L279.89,131.87 L281.02,128.75 L308.46,141.64 Z" fill="#1a1458" opacity="0.6"/>
<path d="M310.22,138.45 L286.30,119.21 L288.33,116.65 L310.32,138.33 Z" fill="#1a1458" opacity="0.6"/>
<path d="M313.13,135.82 L296.85,109.05 L299.58,107.38 L313.27,135.74 Z" fill="#1a1458" opacity="0.6"/>
<path d="M317.09,134.34 L311.44,103.04 L314.56,102.58 L317.25,134.32 Z" fill="#1a1458" opacity="0.6"/>
<path d="M321.10,134.50 L326.38,103.12 L329.45,103.88 L321.25,134.53 Z" fill="#1a1458" opacity="0.6"/>
<path d="M324.46,135.95 L339.08,108.11 L341.75,109.88 L324.59,136.04 Z" fill="#1a1458" opacity="0.6"/>
<path d="M327.20,138.48 L349.55,117.22 L351.53,119.81 L327.30,138.61 Z" fill="#1a1458" opacity="0.6"/>
<path d="M329.01,141.83 L356.66,129.45 L357.74,132.59 L329.06,141.98 Z" fill="#1a1458" opacity="0.6"/>
<path d="M329.68,145.21 L359.53,141.95 L359.70,145.29 L329.69,145.37 Z" fill="#1a1458" opacity="0.6"/>
<path d="M291.63,134.86 L278.14,132.40 C272.47,130.32 274.53,124.62 280.06,127.11 Z" fill="#170f4c"/>
<path d="M296.48,126.10 L284.49,119.11 C279.76,115.19 283.46,110.51 287.92,114.77 Z" fill="#170f4c"/>
<path d="M304.20,119.23 L295.18,108.30 C292.00,102.89 296.98,99.84 299.80,105.47 Z" fill="#170f4c"/>
<path d="M314.66,115.40 L310.15,101.68 C309.11,95.40 314.81,94.55 315.44,100.89 Z" fill="#170f4c"/>
<path d="M325.22,115.89 L325.64,101.37 C326.79,95.11 332.39,96.48 330.84,102.64 Z" fill="#170f4c"/>
<path d="M334.07,119.78 L338.91,106.19 C341.92,100.67 346.80,103.91 343.44,109.20 Z" fill="#170f4c"/>
<path d="M341.24,126.52 L349.98,115.35 C354.52,111.17 358.14,115.91 353.34,119.75 Z" fill="#170f4c"/>
<path d="M345.95,135.37 L357.65,127.83 C363.21,125.44 365.18,131.18 359.47,133.16 Z" fill="#170f4c"/>
<path d="M282.16,139.56 A37.00,40.50 0 0 1 354.75,136.79" stroke="#f0eaff" stroke-width="0.65" fill="none" opacity="0.9"/>
<path d="M353.05,136.49 L356.25,136.49 L354.55,139.39 Z" fill="#f0eaff"/>
<ellipse cx="318.70" cy="146.40" rx="11" ry="13.5" fill="#1a0f45"/>
<circle cx="307.31" cy="143.90" r="1.3" fill="#1a0f45"/>
<circle cx="308.11" cy="140.30" r="1.3" fill="#1a0f45"/>
<circle cx="309.64" cy="137.07" r="1.3" fill="#1a0f45"/>
<circle cx="311.78" cy="134.45" r="1.3" fill="#1a0f45"/>
<circle cx="314.39" cy="132.61" r="1.3" fill="#1a0f45"/>
<circle cx="317.30" cy="131.67" r="1.3" fill="#1a0f45"/>
<circle cx="320.30" cy="131.70" r="1.3" fill="#1a0f45"/>
<circle cx="323.19" cy="132.70" r="1.3" fill="#1a0f45"/>
<circle cx="325.78" cy="134.60" r="1.3" fill="#1a0f45"/>
<circle cx="327.88" cy="137.27" r="1.3" fill="#1a0f45"/>
<circle cx="329.36" cy="140.53" r="1.3" fill="#1a0f45"/>
<circle cx="330.11" cy="144.15" r="1.3" fill="#1a0f45"/>
<rect x="269.4" y="141.3" width="98.6" height="5" fill="#100a3a" stroke="#000" stroke-width="0"/>
</g>
<path d="M271.00,145.90 A47.70,50.70 0 0 1 366.40,145.90" stroke="#120c40" stroke-width="1.4" fill="none"/>
<text x="274.53" y="139.38" font-size="7.6" text-anchor="middle" font-weight="bold" fill="#fff" stroke="#fff" stroke-width="0.22">0</text>
<text x="280.01" y="124.1" font-size="7.6" text-anchor="middle" font-weight="bold" fill="#fff" stroke="#fff" stroke-width="0.22">0.1</text>
<text x="289.77" y="111.89" font-size="7.6" text-anchor="middle" font-weight="bold" fill="#fff" stroke="#fff" stroke-width="0.22">0.5</text>
<text x="304.05" y="103.31" font-size="7.6" text-anchor="middle" font-weight="bold" fill="#fff" stroke="#fff" stroke-width="0.22">2</text>
<text x="320.9" y="100.76" font-size="7.6" text-anchor="middle" font-weight="bold" fill="#fff" stroke="#fff" stroke-width="0.22">5</text>
<text x="336.28" y="104.5" font-size="7.6" text-anchor="middle" font-weight="bold" fill="#fff" stroke="#fff" stroke-width="0.22">10</text>
<text x="348.22" y="112.43" font-size="7.6" text-anchor="middle" font-weight="bold" fill="#fff" stroke="#fff" stroke-width="0.22">15</text>
<text x="357.87" y="124.96" font-size="7.6" text-anchor="middle" font-weight="bold" fill="#fff" stroke="#fff" stroke-width="0.22">20</text>
<text x="363.06" y="140.45" font-size="7.6" text-anchor="middle" font-weight="bold" fill="#fff" stroke="#fff" stroke-width="0.22">25</text>
<text x="318.8" y="111.9" font-size="7.4" text-anchor="middle" font-weight="bold" fill="#fff" stroke="#fff" stroke-width="0.22">OTC/μM</text>
<rect x="230.4" y="18.4" width="138.6" height="128.5" fill="none" stroke="#000" stroke-width="1.1"/>
<line x1="228.4" y1="137" x2="230.4" y2="137" stroke="#000" stroke-width="1.1"/>
<line x1="228.4" y1="117.23" x2="230.4" y2="117.23" stroke="#000" stroke-width="1.1"/>
<line x1="228.4" y1="97.46" x2="230.4" y2="97.46" stroke="#000" stroke-width="1.1"/>
<line x1="228.4" y1="77.69" x2="230.4" y2="77.69" stroke="#000" stroke-width="1.1"/>
<line x1="228.4" y1="57.92" x2="230.4" y2="57.92" stroke="#000" stroke-width="1.1"/>
<line x1="228.4" y1="38.15" x2="230.4" y2="38.15" stroke="#000" stroke-width="1.1"/>
<line x1="228.4" y1="18.38" x2="230.4" y2="18.38" stroke="#000" stroke-width="1.1"/>
<line x1="229.2" y1="127.11" x2="230.4" y2="127.11" stroke="#000" stroke-width="0.88"/>
<line x1="229.2" y1="107.34" x2="230.4" y2="107.34" stroke="#000" stroke-width="0.88"/>
<line x1="229.2" y1="87.58" x2="230.4" y2="87.58" stroke="#000" stroke-width="0.88"/>
<line x1="229.2" y1="67.81" x2="230.4" y2="67.81" stroke="#000" stroke-width="0.88"/>
<line x1="229.2" y1="48.03" x2="230.4" y2="48.03" stroke="#000" stroke-width="0.88"/>
<line x1="229.2" y1="28.27" x2="230.4" y2="28.27" stroke="#000" stroke-width="0.88"/>
<text x="227.6" y="140.06" font-size="9" text-anchor="end" font-weight="bold" fill="#000" stroke="#000" stroke-width="0.22">0.00</text>
<text x="227.6" y="120.29" font-size="9" text-anchor="end" font-weight="bold" fill="#000" stroke="#000" stroke-width="0.22">0.05</text>
<text x="227.6" y="100.52" font-size="9" text-anchor="end" font-weight="bold" fill="#000" stroke="#000" stroke-width="0.22">0.10</text>
<text x="227.6" y="80.75" font-size="9" text-anchor="end" font-weight="bold" fill="#000" stroke="#000" stroke-width="0.22">0.15</text>
<text x="227.6" y="60.98" font-size="9" text-anchor="end" font-weight="bold" fill="#000" stroke="#000" stroke-width="0.22">0.20</text>
<text x="227.6" y="41.21" font-size="9" text-anchor="end" font-weight="bold" fill="#000" stroke="#000" stroke-width="0.22">0.25</text>
<text x="227.6" y="21.44" font-size="9" text-anchor="end" font-weight="bold" fill="#000" stroke="#000" stroke-width="0.22">0.30</text>
<line x1="241.95" y1="146.9" x2="241.95" y2="148.9" stroke="#000" stroke-width="1.1"/>
<line x1="265.05" y1="146.9" x2="265.05" y2="148.9" stroke="#000" stroke-width="1.1"/>
<line x1="288.15" y1="146.9" x2="288.15" y2="148.9" stroke="#000" stroke-width="1.1"/>
<line x1="311.25" y1="146.9" x2="311.25" y2="148.9" stroke="#000" stroke-width="1.1"/>
<line x1="334.35" y1="146.9" x2="334.35" y2="148.9" stroke="#000" stroke-width="1.1"/>
<line x1="357.45" y1="146.9" x2="357.45" y2="148.9" stroke="#000" stroke-width="1.1"/>
<line x1="253.5" y1="146.9" x2="253.5" y2="148.1" stroke="#000" stroke-width="0.88"/>
<line x1="276.6" y1="146.9" x2="276.6" y2="148.1" stroke="#000" stroke-width="0.88"/>
<line x1="299.7" y1="146.9" x2="299.7" y2="148.1" stroke="#000" stroke-width="0.88"/>
<line x1="322.8" y1="146.9" x2="322.8" y2="148.1" stroke="#000" stroke-width="0.88"/>
<line x1="345.9" y1="146.9" x2="345.9" y2="148.1" stroke="#000" stroke-width="0.88"/>
<text x="241.95" y="159.3" font-size="9" text-anchor="middle" font-weight="bold" fill="#000" stroke="#000" stroke-width="0.22">0</text>
<text x="265.05" y="159.3" font-size="9" text-anchor="middle" font-weight="bold" fill="#000" stroke="#000" stroke-width="0.22">5</text>
<text x="288.15" y="159.3" font-size="9" text-anchor="middle" font-weight="bold" fill="#000" stroke="#000" stroke-width="0.22">10</text>
<text x="311.25" y="159.3" font-size="9" text-anchor="middle" font-weight="bold" fill="#000" stroke="#000" stroke-width="0.22">15</text>
<text x="334.35" y="159.3" font-size="9" text-anchor="middle" font-weight="bold" fill="#000" stroke="#000" stroke-width="0.22">20</text>
<text x="357.45" y="159.3" font-size="9" text-anchor="middle" font-weight="bold" fill="#000" stroke="#000" stroke-width="0.22">25</text>
<line x1="241.95" y1="136.49" x2="358.37" y2="19.91" stroke="#ff1010" stroke-width="1.3"/>
<line x1="241.95" y1="134" x2="241.95" y2="139.2" stroke="#3a86ff" stroke-width="0.9"/>
<line x1="240.85" y1="134" x2="243.05" y2="134" stroke="#3a86ff" stroke-width="0.8"/>
<line x1="240.85" y1="139.2" x2="243.05" y2="139.2" stroke="#3a86ff" stroke-width="0.8"/>
<rect x="240.7" y="135.35" width="2.5" height="2.5" fill="#1a2a6a" stroke="#000" stroke-width="0"/>
<line x1="242.41" y1="133.21" x2="242.41" y2="138.41" stroke="#3a86ff" stroke-width="0.9"/>
<line x1="241.31" y1="133.21" x2="243.51" y2="133.21" stroke="#3a86ff" stroke-width="0.8"/>
<line x1="241.31" y1="138.41" x2="243.51" y2="138.41" stroke="#3a86ff" stroke-width="0.8"/>
<rect x="241.16" y="134.56" width="2.5" height="2.5" fill="#1a2a6a" stroke="#000" stroke-width="0"/>
<line x1="244.26" y1="131.63" x2="244.26" y2="136.83" stroke="#3a86ff" stroke-width="0.9"/>
<line x1="243.16" y1="131.63" x2="245.36" y2="131.63" stroke="#3a86ff" stroke-width="0.8"/>
<line x1="243.16" y1="136.83" x2="245.36" y2="136.83" stroke="#3a86ff" stroke-width="0.8"/>
<rect x="243.01" y="132.98" width="2.5" height="2.5" fill="#1a2a6a" stroke="#000" stroke-width="0"/>
<line x1="246.57" y1="130.05" x2="246.57" y2="135.25" stroke="#3a86ff" stroke-width="0.9"/>
<line x1="245.47" y1="130.05" x2="247.67" y2="130.05" stroke="#3a86ff" stroke-width="0.8"/>
<line x1="245.47" y1="135.25" x2="247.67" y2="135.25" stroke="#3a86ff" stroke-width="0.8"/>
<rect x="245.32" y="131.4" width="2.5" height="2.5" fill="#1a2a6a" stroke="#000" stroke-width="0"/>
<line x1="251.19" y1="124.32" x2="251.19" y2="129.52" stroke="#3a86ff" stroke-width="0.9"/>
<line x1="250.09" y1="124.32" x2="252.29" y2="124.32" stroke="#3a86ff" stroke-width="0.8"/>
<line x1="250.09" y1="129.52" x2="252.29" y2="129.52" stroke="#3a86ff" stroke-width="0.8"/>
<rect x="249.94" y="125.67" width="2.5" height="2.5" fill="#1a2a6a" stroke="#000" stroke-width="0"/>
<line x1="265.05" y1="108.53" x2="265.05" y2="114.86" stroke="#3a86ff" stroke-width="0.9"/>
<line x1="263.95" y1="108.53" x2="266.15" y2="108.53" stroke="#3a86ff" stroke-width="0.8"/>
<line x1="263.95" y1="114.86" x2="266.15" y2="114.86" stroke="#3a86ff" stroke-width="0.8"/>
<rect x="263.8" y="110.44" width="2.5" height="2.5" fill="#1a2a6a" stroke="#000" stroke-width="0"/>
<line x1="288.15" y1="83.39" x2="288.15" y2="88.59" stroke="#3a86ff" stroke-width="0.9"/>
<line x1="287.05" y1="83.39" x2="289.25" y2="83.39" stroke="#3a86ff" stroke-width="0.8"/>
<line x1="287.05" y1="88.59" x2="289.25" y2="88.59" stroke="#3a86ff" stroke-width="0.8"/>
<rect x="286.9" y="84.74" width="2.5" height="2.5" fill="#1a2a6a" stroke="#000" stroke-width="0"/>
<line x1="311.25" y1="58.88" x2="311.25" y2="64.08" stroke="#3a86ff" stroke-width="0.9"/>
<line x1="310.15" y1="58.88" x2="312.35" y2="58.88" stroke="#3a86ff" stroke-width="0.8"/>
<line x1="310.15" y1="64.08" x2="312.35" y2="64.08" stroke="#3a86ff" stroke-width="0.8"/>
<rect x="310" y="60.23" width="2.5" height="2.5" fill="#1a2a6a" stroke="#000" stroke-width="0"/>
<line x1="334.35" y1="42.27" x2="334.35" y2="47.47" stroke="#3a86ff" stroke-width="0.9"/>
<line x1="333.25" y1="42.27" x2="335.45" y2="42.27" stroke="#3a86ff" stroke-width="0.8"/>
<line x1="333.25" y1="47.47" x2="335.45" y2="47.47" stroke="#3a86ff" stroke-width="0.8"/>
<rect x="333.1" y="43.62" width="2.5" height="2.5" fill="#1a2a6a" stroke="#000" stroke-width="0"/>
<line x1="357.45" y1="26.46" x2="357.45" y2="31.66" stroke="#3a86ff" stroke-width="0.9"/>
<line x1="356.35" y1="26.46" x2="358.55" y2="26.46" stroke="#3a86ff" stroke-width="0.8"/>
<line x1="356.35" y1="31.66" x2="358.55" y2="31.66" stroke="#3a86ff" stroke-width="0.8"/>
<rect x="356.2" y="27.81" width="2.5" height="2.5" fill="#1a2a6a" stroke="#000" stroke-width="0"/>
<text id="eq" x="235.6" y="31.2" font-size="9.2" font-weight="bold">F<tspan font-size="6.0" dy="2.2">617</tspan><tspan dy="-2.2">/F</tspan><tspan font-size="6.0" dy="2.2">438</tspan><tspan dy="-2.2" font-size="7.3">=0.0013+0.0117C</tspan><tspan font-size="5.0" dy="2.4">OTC</tspan></text>
<text id="r2" x="235.8" y="43.6" font-size="7.2" font-weight="bold">R<tspan font-size="4.5" dy="-2.9">2</tspan><tspan dy="2.9">=0.9925</tspan></text>
<text x="0" y="0" font-size="8.4" font-weight="bold" text-anchor="middle" transform="translate(203.5,74) rotate(-90)">F<tspan font-size="6" dy="2.2">617</tspan><tspan dy="-2.2">/F</tspan><tspan font-size="6" dy="2.2">438</tspan></text>
<text x="300.0" y="170.6" font-size="9.2" font-weight="bold" text-anchor="middle">C<tspan font-size="6.2" dy="2">OTC</tspan><tspan dy="-2"> (μM)</tspan></text>
<text x="189.3" y="19.2" font-size="16" text-anchor="start" font-weight="bold" fill="#000" stroke="#000" stroke-width="0.22">(b)</text>
<rect x="45.20" y="306.76" width="3.40" height="0.64" fill="#68a0f8" stroke="#28324e" stroke-width="0.80"/>
<line x1="46.9" y1="306.46" x2="46.9" y2="306.94" stroke="#101830" stroke-width="0.8"/>
<line x1="45.9" y1="306.46" x2="47.9" y2="306.46" stroke="#101830" stroke-width="0.9"/>
<rect x="45.20" y="306.46" width="3.40" height="1.2" fill="#1a2440"/>
<rect x="52.20" y="204.07" width="3.40" height="103.33" fill="#68a0f8" stroke="#28324e" stroke-width="0.80"/>
<line x1="53.9" y1="202.87" x2="53.9" y2="204.79" stroke="#101830" stroke-width="0.8"/>
<line x1="52.9" y1="202.87" x2="54.9" y2="202.87" stroke="#101830" stroke-width="0.9"/>
<rect x="52.20" y="203.77" width="3.40" height="1.2" fill="#1a2440"/>
<rect x="59.20" y="258.61" width="3.40" height="48.79" fill="#68a0f8" stroke="#28324e" stroke-width="0.80"/>
<line x1="60.9" y1="257.61" x2="60.9" y2="259.21" stroke="#101830" stroke-width="0.8"/>
<line x1="59.9" y1="257.61" x2="61.9" y2="257.61" stroke="#101830" stroke-width="0.9"/>
<rect x="59.20" y="258.31" width="3.40" height="1.2" fill="#1a2440"/>
<rect x="66.20" y="287.46" width="3.40" height="19.94" fill="#68a0f8" stroke="#28324e" stroke-width="0.80"/>
<line x1="67.9" y1="286.86" x2="67.9" y2="287.82" stroke="#101830" stroke-width="0.8"/>
<line x1="66.9" y1="286.86" x2="68.9" y2="286.86" stroke="#101830" stroke-width="0.9"/>
<rect x="66.20" y="287.16" width="3.40" height="1.2" fill="#1a2440"/>
<rect x="73.20" y="282.96" width="3.40" height="24.44" fill="#68a0f8" stroke="#28324e" stroke-width="0.80"/>
<line x1="74.9" y1="282.16" x2="74.9" y2="283.44" stroke="#101830" stroke-width="0.8"/>
<line x1="73.9" y1="282.16" x2="75.9" y2="282.16" stroke="#101830" stroke-width="0.9"/>
<rect x="73.20" y="282.66" width="3.40" height="1.2" fill="#1a2440"/>
<rect x="80.20" y="297.38" width="3.40" height="10.02" fill="#68a0f8" stroke="#28324e" stroke-width="0.80"/>
<line x1="81.9" y1="296.78" x2="81.9" y2="297.74" stroke="#101830" stroke-width="0.8"/>
<line x1="80.9" y1="296.78" x2="82.9" y2="296.78" stroke="#101830" stroke-width="0.9"/>
<rect x="80.20" y="297.08" width="3.40" height="1.2" fill="#1a2440"/>
<rect x="87.20" y="306.76" width="3.40" height="0.64" fill="#68a0f8" stroke="#28324e" stroke-width="0.80"/>
<line x1="88.9" y1="306.46" x2="88.9" y2="306.94" stroke="#101830" stroke-width="0.8"/>
<line x1="87.9" y1="306.46" x2="89.9" y2="306.46" stroke="#101830" stroke-width="0.9"/>
<rect x="87.20" y="306.46" width="3.40" height="1.2" fill="#1a2440"/>
<rect x="94.20" y="306.94" width="3.40" height="0.46" fill="#68a0f8" stroke="#28324e" stroke-width="0.80"/>
<line x1="95.9" y1="306.74" x2="95.9" y2="307.06" stroke="#101830" stroke-width="0.8"/>
<line x1="94.9" y1="306.74" x2="96.9" y2="306.74" stroke="#101830" stroke-width="0.9"/>
<rect x="94.20" y="306.64" width="3.40" height="1.2" fill="#1a2440"/>
<rect x="101.20" y="306.94" width="3.40" height="0.46" fill="#68a0f8" stroke="#28324e" stroke-width="0.80"/>
<line x1="102.9" y1="306.74" x2="102.9" y2="307.06" stroke="#101830" stroke-width="0.8"/>
<line x1="101.9" y1="306.74" x2="103.9" y2="306.74" stroke="#101830" stroke-width="0.9"/>
<rect x="101.20" y="306.64" width="3.40" height="1.2" fill="#1a2440"/>
<rect x="108.20" y="306.94" width="3.40" height="0.46" fill="#68a0f8" stroke="#28324e" stroke-width="0.80"/>
<line x1="109.9" y1="306.74" x2="109.9" y2="307.06" stroke="#101830" stroke-width="0.8"/>
<line x1="108.9" y1="306.74" x2="110.9" y2="306.74" stroke="#101830" stroke-width="0.9"/>
<rect x="108.20" y="306.64" width="3.40" height="1.2" fill="#1a2440"/>
<rect x="115.20" y="306.94" width="3.40" height="0.46" fill="#68a0f8" stroke="#28324e" stroke-width="0.80"/>
<line x1="116.9" y1="306.74" x2="116.9" y2="307.06" stroke="#101830" stroke-width="0.8"/>
<line x1="115.9" y1="306.74" x2="117.9" y2="306.74" stroke="#101830" stroke-width="0.9"/>
<rect x="115.20" y="306.64" width="3.40" height="1.2" fill="#1a2440"/>
<rect x="122.20" y="306.94" width="3.40" height="0.46" fill="#68a0f8" stroke="#28324e" stroke-width="0.80"/>
<line x1="123.9" y1="306.74" x2="123.9" y2="307.06" stroke="#101830" stroke-width="0.8"/>
<line x1="122.9" y1="306.74" x2="124.9" y2="306.74" stroke="#101830" stroke-width="0.9"/>
<rect x="122.20" y="306.64" width="3.40" height="1.2" fill="#1a2440"/>
<rect x="129.20" y="306.94" width="3.40" height="0.46" fill="#68a0f8" stroke="#28324e" stroke-width="0.80"/>
<line x1="130.9" y1="306.74" x2="130.9" y2="307.06" stroke="#101830" stroke-width="0.8"/>
<line x1="129.9" y1="306.74" x2="131.9" y2="306.74" stroke="#101830" stroke-width="0.9"/>
<rect x="129.20" y="306.64" width="3.40" height="1.2" fill="#1a2440"/>
<rect x="136.20" y="306.94" width="3.40" height="0.46" fill="#68a0f8" stroke="#28324e" stroke-width="0.80"/>
<line x1="137.9" y1="306.74" x2="137.9" y2="307.06" stroke="#101830" stroke-width="0.8"/>
<line x1="136.9" y1="306.74" x2="138.9" y2="306.74" stroke="#101830" stroke-width="0.9"/>
<rect x="136.20" y="306.64" width="3.40" height="1.2" fill="#1a2440"/>
<rect x="143.20" y="306.94" width="3.40" height="0.46" fill="#68a0f8" stroke="#28324e" stroke-width="0.80"/>
<line x1="144.9" y1="306.74" x2="144.9" y2="307.06" stroke="#101830" stroke-width="0.8"/>
<line x1="143.9" y1="306.74" x2="145.9" y2="306.74" stroke="#101830" stroke-width="0.9"/>
<rect x="143.20" y="306.64" width="3.40" height="1.2" fill="#1a2440"/>
<rect x="150.20" y="306.94" width="3.40" height="0.46" fill="#68a0f8" stroke="#28324e" stroke-width="0.80"/>
<line x1="151.9" y1="306.74" x2="151.9" y2="307.06" stroke="#101830" stroke-width="0.8"/>
<line x1="150.9" y1="306.74" x2="152.9" y2="306.74" stroke="#101830" stroke-width="0.9"/>
<rect x="150.20" y="306.64" width="3.40" height="1.2" fill="#1a2440"/>
<rect x="157.20" y="306.94" width="3.40" height="0.46" fill="#68a0f8" stroke="#28324e" stroke-width="0.80"/>
<line x1="158.9" y1="306.74" x2="158.9" y2="307.06" stroke="#101830" stroke-width="0.8"/>
<line x1="157.9" y1="306.74" x2="159.9" y2="306.74" stroke="#101830" stroke-width="0.9"/>
<rect x="157.20" y="306.64" width="3.40" height="1.2" fill="#1a2440"/>
<rect x="164.20" y="306.94" width="3.40" height="0.46" fill="#68a0f8" stroke="#28324e" stroke-width="0.80"/>
<line x1="165.9" y1="306.74" x2="165.9" y2="307.06" stroke="#101830" stroke-width="0.8"/>
<line x1="164.9" y1="306.74" x2="166.9" y2="306.74" stroke="#101830" stroke-width="0.9"/>
<rect x="164.20" y="306.64" width="3.40" height="1.2" fill="#1a2440"/>
<rect x="171.20" y="306.94" width="3.40" height="0.46" fill="#68a0f8" stroke="#28324e" stroke-width="0.80"/>
<line x1="172.9" y1="306.74" x2="172.9" y2="307.06" stroke="#101830" stroke-width="0.8"/>
<line x1="171.9" y1="306.74" x2="173.9" y2="306.74" stroke="#101830" stroke-width="0.9"/>
<rect x="171.20" y="306.64" width="3.40" height="1.2" fill="#1a2440"/>
<rect x="41.9" y="183.4" width="136.3" height="124" fill="none" stroke="#000" stroke-width="1.1"/>
<line x1="39.9" y1="307.3" x2="41.9" y2="307.3" stroke="#000" stroke-width="1.1"/>
<line x1="39.9" y1="284.76" x2="41.9" y2="284.76" stroke="#000" stroke-width="1.1"/>
<line x1="39.9" y1="262.22" x2="41.9" y2="262.22" stroke="#000" stroke-width="1.1"/>
<line x1="39.9" y1="239.68" x2="41.9" y2="239.68" stroke="#000" stroke-width="1.1"/>
<line x1="39.9" y1="217.14" x2="41.9" y2="217.14" stroke="#000" stroke-width="1.1"/>
<line x1="39.9" y1="194.6" x2="41.9" y2="194.6" stroke="#000" stroke-width="1.1"/>
<line x1="40.7" y1="296.03" x2="41.9" y2="296.03" stroke="#000" stroke-width="0.88"/>
<line x1="40.7" y1="273.49" x2="41.9" y2="273.49" stroke="#000" stroke-width="0.88"/>
<line x1="40.7" y1="250.95" x2="41.9" y2="250.95" stroke="#000" stroke-width="0.88"/>
<line x1="40.7" y1="228.41" x2="41.9" y2="228.41" stroke="#000" stroke-width="0.88"/>
<line x1="40.7" y1="205.87" x2="41.9" y2="205.87" stroke="#000" stroke-width="0.88"/>
<text x="39.1" y="310.36" font-size="9" text-anchor="end" font-weight="bold" fill="#000" stroke="#000" stroke-width="0.22">0.00</text>
<text x="39.1" y="287.82" font-size="9" text-anchor="end" font-weight="bold" fill="#000" stroke="#000" stroke-width="0.22">0.05</text>
<text x="39.1" y="265.28" font-size="9" text-anchor="end" font-weight="bold" fill="#000" stroke="#000" stroke-width="0.22">0.10</text>
<text x="39.1" y="242.74" font-size="9" text-anchor="end" font-weight="bold" fill="#000" stroke="#000" stroke-width="0.22">0.15</text>
<text x="39.1" y="220.2" font-size="9" text-anchor="end" font-weight="bold" fill="#000" stroke="#000" stroke-width="0.22">0.20</text>
<text x="39.1" y="197.66" font-size="9" text-anchor="end" font-weight="bold" fill="#000" stroke="#000" stroke-width="0.22">0.25</text>
<text x="48.9" y="309.6" font-size="5.8" text-anchor="end" font-weight="bold" fill="#000" transform="rotate(-90 48.9 309.6)">Blank</text>
<text x="55.9" y="309.6" font-size="5.8" text-anchor="end" font-weight="bold" fill="#000" transform="rotate(-90 55.9 309.6)">OTC</text>
<text x="62.9" y="309.6" font-size="5.8" text-anchor="end" font-weight="bold" fill="#000" transform="rotate(-90 62.9 309.6)">Tetracycline</text>
<text x="69.9" y="309.6" font-size="5.8" text-anchor="end" font-weight="bold" fill="#000" transform="rotate(-90 69.9 309.6)">Chlortetracycline</text>
<text x="76.9" y="309.6" font-size="5.8" text-anchor="end" font-weight="bold" fill="#000" transform="rotate(-90 76.9 309.6)">Doxycycline</text>
<text x="83.9" y="309.6" font-size="5.8" text-anchor="end" font-weight="bold" fill="#000" transform="rotate(-90 83.9 309.6)">Metacycline</text>
<text x="90.9" y="309.6" font-size="5.8" text-anchor="end" font-weight="bold" fill="#000" transform="rotate(-90 90.9 309.6)">Minocycline</text>
<text x="97.9" y="309.6" font-size="5.8" text-anchor="end" font-weight="bold" fill="#000" transform="rotate(-90 97.9 309.6)">Penicillin</text>
<text x="104.9" y="309.6" font-size="5.8" text-anchor="end" font-weight="bold" fill="#000" transform="rotate(-90 104.9 309.6)">Azithromycin</text>
<text x="111.9" y="309.6" font-size="5.8" text-anchor="end" font-weight="bold" fill="#000" transform="rotate(-90 111.9 309.6)">Streptomycin</text>
<text x="118.9" y="309.6" font-size="5.8" text-anchor="end" font-weight="bold" fill="#000" transform="rotate(-90 118.9 309.6)">Ciprofloxacin</text>
<text x="125.9" y="309.6" font-size="5.8" text-anchor="end" font-weight="bold" fill="#000" transform="rotate(-90 125.9 309.6)">Norfloxacin</text>
<text x="132.9" y="309.6" font-size="5.8" text-anchor="end" font-weight="bold" fill="#000" transform="rotate(-90 132.9 309.6)">Citric Acid</text>
<text x="139.9" y="309.6" font-size="5.8" text-anchor="end" font-weight="bold" fill="#000" transform="rotate(-90 139.9 309.6)">Nicotinic Acid</text>
<text x="146.9" y="309.6" font-size="5.8" text-anchor="end" font-weight="bold" fill="#000" transform="rotate(-90 146.9 309.6)">Glucose</text>
<text x="153.9" y="309.6" font-size="5.8" text-anchor="end" font-weight="bold" fill="#000" transform="rotate(-90 153.9 309.6)">D-Alanine</text>
<text x="160.9" y="309.6" font-size="5.8" text-anchor="end" font-weight="bold" fill="#000" transform="rotate(-90 160.9 309.6)">L-Cysteine</text>
<text x="167.9" y="309.6" font-size="5.8" text-anchor="end" font-weight="bold" fill="#000" transform="rotate(-90 167.9 309.6)">L-Glutamic</text>
<text x="174.9" y="309.6" font-size="5.8" text-anchor="end" font-weight="bold" fill="#000" transform="rotate(-90 174.9 309.6)">L-Leucine</text>
<text x="0" y="0" font-size="10" font-weight="bold" text-anchor="middle" transform="translate(15.5,247.8) rotate(-90)">F<tspan font-size="7.2" dy="2.2">617</tspan><tspan dy="-2.2">/F</tspan><tspan font-size="7.2" dy="2.2">438</tspan></text>
<text x="10.4" y="184.4" font-size="16.5" text-anchor="start" font-weight="bold" fill="#000" stroke="#000" stroke-width="0.22">(c)</text>
<defs><clipPath id="clipc"><circle cx="139.80" cy="222.10" r="36.90"/></clipPath></defs>
<g clip-path="url(#clipc)">
<circle cx="139.80" cy="222.10" r="36.90" fill="#1b3cd8"/>
<circle cx="139.80" cy="222.10" r="31.0" fill="#060620"/>
<rect x="136.30" y="189.60" width="7.0" height="26.5" fill="#1e40e4" transform="rotate(-46.30 139.80 222.10)"/>
<rect x="138.90" y="190.60" width="3.0" height="24" fill="#2c50f0" opacity="0.6" transform="rotate(-46.30 139.80 222.10)"/>
<rect x="136.30" y="189.60" width="7.0" height="26.5" fill="#8c3cc4" transform="rotate(-27.35 139.80 222.10)"/>
<rect x="138.90" y="190.60" width="3.0" height="24" fill="#a050d8" opacity="0.6" transform="rotate(-27.35 139.80 222.10)"/>
<rect x="136.30" y="189.60" width="7.0" height="26.5" fill="#8048cc" transform="rotate(-8.41 139.80 222.10)"/>
<rect x="138.90" y="190.60" width="3.0" height="24" fill="#9460dc" opacity="0.6" transform="rotate(-8.41 139.80 222.10)"/>
<rect x="136.30" y="189.60" width="7.0" height="26.5" fill="#5044d8" transform="rotate(10.54 139.80 222.10)"/>
<rect x="138.90" y="190.60" width="3.0" height="24" fill="#6458e8" opacity="0.6" transform="rotate(10.54 139.80 222.10)"/>
<rect x="136.30" y="189.60" width="7.0" height="26.5" fill="#1e40e4" transform="rotate(29.49 139.80 222.10)"/>
<rect x="138.90" y="190.60" width="3.0" height="24" fill="#2c50f0" opacity="0.6" transform="rotate(29.49 139.80 222.10)"/>
<rect x="136.30" y="189.60" width="7.0" height="26.5" fill="#1e40e4" transform="rotate(48.44 139.80 222.10)"/>
<rect x="138.90" y="190.60" width="3.0" height="24" fill="#2c50f0" opacity="0.6" transform="rotate(48.44 139.80 222.10)"/>
<rect x="136.30" y="189.60" width="7.0" height="26.5" fill="#1e40e4" transform="rotate(67.38 139.80 222.10)"/>
<rect x="138.90" y="190.60" width="3.0" height="24" fill="#2c50f0" opacity="0.6" transform="rotate(67.38 139.80 222.10)"/>
<rect x="136.30" y="189.60" width="7.0" height="26.5" fill="#1e40e4" transform="rotate(86.33 139.80 222.10)"/>
<rect x="138.90" y="190.60" width="3.0" height="24" fill="#2c50f0" opacity="0.6" transform="rotate(86.33 139.80 222.10)"/>
<rect x="136.30" y="189.60" width="7.0" height="26.5" fill="#1e40e4" transform="rotate(105.28 139.80 222.10)"/>
<rect x="138.90" y="190.60" width="3.0" height="24" fill="#2c50f0" opacity="0.6" transform="rotate(105.28 139.80 222.10)"/>
<rect x="136.30" y="189.60" width="7.0" height="26.5" fill="#1e40e4" transform="rotate(124.23 139.80 222.10)"/>
<rect x="138.90" y="190.60" width="3.0" height="24" fill="#2c50f0" opacity="0.6" transform="rotate(124.23 139.80 222.10)"/>
<rect x="136.30" y="189.60" width="7.0" height="26.5" fill="#1e40e4" transform="rotate(143.17 139.80 222.10)"/>
<rect x="138.90" y="190.60" width="3.0" height="24" fill="#2c50f0" opacity="0.6" transform="rotate(143.17 139.80 222.10)"/>
<rect x="136.30" y="189.60" width="7.0" height="26.5" fill="#1e40e4" transform="rotate(162.12 139.80 222.10)"/>
<rect x="138.90" y="190.60" width="3.0" height="24" fill="#2c50f0" opacity="0.6" transform="rotate(162.12 139.80 222.10)"/>
<rect x="136.30" y="189.60" width="7.0" height="26.5" fill="#1e40e4" transform="rotate(181.07 139.80 222.10)"/>
<rect x="138.90" y="190.60" width="3.0" height="24" fill="#2c50f0" opacity="0.6" transform="rotate(181.07 139.80 222.10)"/>
<rect x="136.30" y="189.60" width="7.0" height="26.5" fill="#1e40e4" transform="rotate(200.02 139.80 222.10)"/>
<rect x="138.90" y="190.60" width="3.0" height="24" fill="#2c50f0" opacity="0.6" transform="rotate(200.02 139.80 222.10)"/>
<rect x="136.30" y="189.60" width="7.0" height="26.5" fill="#1e40e4" transform="rotate(218.96 139.80 222.10)"/>
<rect x="138.90" y="190.60" width="3.0" height="24" fill="#2c50f0" opacity="0.6" transform="rotate(218.96 139.80 222.10)"/>
<rect x="136.30" y="189.60" width="7.0" height="26.5" fill="#1e40e4" transform="rotate(237.91 139.80 222.10)"/>
<rect x="138.90" y="190.60" width="3.0" height="24" fill="#2c50f0" opacity="0.6" transform="rotate(237.91 139.80 222.10)"/>
<rect x="136.30" y="189.60" width="7.0" height="26.5" fill="#1e40e4" transform="rotate(256.86 139.80 222.10)"/>
<rect x="138.90" y="190.60" width="3.0" height="24" fill="#2c50f0" opacity="0.6" transform="rotate(256.86 139.80 222.10)"/>
<rect x="136.30" y="189.60" width="7.0" height="26.5" fill="#1e40e4" transform="rotate(275.81 139.80 222.10)"/>
<rect x="138.90" y="190.60" width="3.0" height="24" fill="#2c50f0" opacity="0.6" transform="rotate(275.81 139.80 222.10)"/>
<rect x="136.30" y="189.60" width="7.0" height="26.5" fill="#1e40e4" transform="rotate(294.75 139.80 222.10)"/>
<rect x="138.90" y="190.60" width="3.0" height="24" fill="#2c50f0" opacity="0.6" transform="rotate(294.75 139.80 222.10)"/>
<circle cx="139.80" cy="222.10" r="8.6" fill="#05051a"/>
</g>
<circle cx="139.80" cy="222.10" r="36.60" fill="none" stroke="#101040" stroke-width="0.9"/>
<text x="115.65" y="201.42" font-size="6.8" font-weight="bold" fill="#fff" text-anchor="middle" transform="rotate(-136.3 115.65 199.02)">1</text>
<text x="124.45" y="194.83" font-size="6.8" font-weight="bold" fill="#fff" text-anchor="middle" transform="rotate(-117.4 124.45 192.43)">2</text>
<text x="134.92" y="191.46" font-size="6.8" font-weight="bold" fill="#fff" text-anchor="middle" transform="rotate(-98.4 134.92 189.06)">3</text>
<text x="145.91" y="191.66" font-size="6.8" font-weight="bold" fill="#fff" text-anchor="middle" transform="rotate(-79.5 145.91 189.26)">4</text>
<text x="156.24" y="195.43" font-size="6.8" font-weight="bold" fill="#fff" text-anchor="middle" transform="rotate(-60.5 156.24 193.03)">5</text>
<text x="164.79" y="202.34" font-size="6.8" font-weight="bold" fill="#fff" text-anchor="middle" transform="rotate(-41.6 164.79 199.94)">6</text>
<text x="170.63" y="211.66" font-size="6.8" font-weight="bold" fill="#fff" text-anchor="middle" transform="rotate(-22.6 170.63 209.26)">7</text>
<text x="173.13" y="222.36" font-size="6.8" font-weight="bold" fill="#fff" text-anchor="middle" transform="rotate(-3.7 173.13 219.96)">8</text>
<text x="172.02" y="233.30" font-size="6.8" font-weight="bold" fill="#fff" text-anchor="middle" transform="rotate(15.3 172.02 230.90)">9</text>
<text x="167.42" y="243.29" font-size="6.8" font-weight="bold" fill="#fff" text-anchor="middle" transform="rotate(34.2 167.42 240.89)">10</text>
<text x="159.82" y="251.24" font-size="6.8" font-weight="bold" fill="#fff" text-anchor="middle" transform="rotate(53.2 159.82 248.84)">11</text>
<text x="150.05" y="256.29" font-size="6.8" font-weight="bold" fill="#fff" text-anchor="middle" transform="rotate(72.1 150.05 253.89)">12</text>
<text x="139.18" y="257.89" font-size="6.8" font-weight="bold" fill="#fff" text-anchor="middle" transform="rotate(91.1 139.18 255.49)">13</text>
<text x="128.37" y="255.88" font-size="6.8" font-weight="bold" fill="#fff" text-anchor="middle" transform="rotate(110.0 128.37 253.48)">14</text>
<text x="118.80" y="250.47" font-size="6.8" font-weight="bold" fill="#fff" text-anchor="middle" transform="rotate(129.0 118.80 248.07)">15</text>
<text x="111.50" y="242.24" font-size="6.8" font-weight="bold" fill="#fff" text-anchor="middle" transform="rotate(147.9 111.50 239.84)">16</text>
<text x="107.27" y="232.09" font-size="6.8" font-weight="bold" fill="#fff" text-anchor="middle" transform="rotate(166.9 107.27 229.69)">17</text>
<text x="106.57" y="221.12" font-size="6.8" font-weight="bold" fill="#fff" text-anchor="middle" transform="rotate(185.8 106.57 218.72)">18</text>
<text x="109.47" y="210.52" font-size="6.8" font-weight="bold" fill="#fff" text-anchor="middle" transform="rotate(204.8 109.47 208.12)">19</text>
<rect x="223.7" y="183.1" width="146.2" height="148.5" fill="none" stroke="#000" stroke-width="1.9"/>
<text x="199.4" y="184.4" font-size="16.5" text-anchor="start" font-weight="bold" fill="#000" stroke="#000" stroke-width="0.22">(d)</text>
<line x1="234.3" y1="197.25" x2="240.2" y2="200.88" stroke="#000" stroke-width="0.75"/>
<line x1="240.2" y1="200.88" x2="240.2" y2="208.12" stroke="#000" stroke-width="0.75"/>
<line x1="240.2" y1="208.12" x2="234.3" y2="211.75" stroke="#000" stroke-width="0.75"/>
<line x1="234.3" y1="211.75" x2="228.4" y2="208.12" stroke="#000" stroke-width="0.75"/>
<line x1="228.4" y1="208.12" x2="228.4" y2="200.88" stroke="#000" stroke-width="0.75"/>
<line x1="228.4" y1="200.88" x2="234.3" y2="197.25" stroke="#000" stroke-width="0.75"/>
<line x1="246.1" y1="197.25" x2="252" y2="200.88" stroke="#000" stroke-width="0.75"/>
<line x1="252" y1="200.88" x2="252" y2="208.12" stroke="#000" stroke-width="0.75"/>
<line x1="252" y1="208.12" x2="246.1" y2="211.75" stroke="#000" stroke-width="0.75"/>
<line x1="246.1" y1="211.75" x2="240.2" y2="208.12" stroke="#000" stroke-width="0.75"/>
<line x1="240.2" y1="200.88" x2="246.1" y2="197.25" stroke="#000" stroke-width="0.75"/>
<line x1="257.9" y1="197.25" x2="263.8" y2="200.88" stroke="#000" stroke-width="0.75"/>
<line x1="263.8" y1="200.88" x2="263.8" y2="208.12" stroke="#000" stroke-width="0.75"/>
<line x1="263.8" y1="208.12" x2="257.9" y2="211.75" stroke="#000" stroke-width="0.75"/>
<line x1="257.9" y1="211.75" x2="252" y2="208.12" stroke="#000" stroke-width="0.75"/>
<line x1="252" y1="200.88" x2="257.9" y2="197.25" stroke="#000" stroke-width="0.75"/>
<line x1="269.7" y1="197.25" x2="275.6" y2="200.88" stroke="#000" stroke-width="0.75"/>
<line x1="275.6" y1="200.88" x2="275.6" y2="208.12" stroke="#000" stroke-width="0.75"/>
<line x1="275.6" y1="208.12" x2="269.7" y2="211.75" stroke="#000" stroke-width="0.75"/>
<line x1="269.7" y1="211.75" x2="263.8" y2="208.12" stroke="#000" stroke-width="0.75"/>
<line x1="263.8" y1="200.88" x2="269.7" y2="197.25" stroke="#000" stroke-width="0.75"/>
<line x1="230.53" y1="201.3" x2="233.58" y2="199.43" stroke="#000" stroke-width="0.75"/>
<line x1="238.78" y1="202.63" x2="238.78" y2="206.37" stroke="#000" stroke-width="0.75"/>
<line x1="233.58" y1="209.57" x2="230.53" y2="207.7" stroke="#000" stroke-width="0.75"/>
<line x1="257.18" y1="209.57" x2="254.13" y2="207.7" stroke="#000" stroke-width="0.75"/>
<line x1="274.18" y1="202.63" x2="274.18" y2="206.37" stroke="#000" stroke-width="0.75"/>
<line x1="234.3" y1="211.75" x2="234.3" y2="217.55" stroke="#000" stroke-width="0.75"/>
<text x="234.30" y="221.48" font-size="3.70" font-weight="bold" text-anchor="middle">OH</text>
<line x1="245.55" y1="211.75" x2="245.55" y2="217.75" stroke="#000" stroke-width="0.6"/>
<line x1="246.65" y1="211.75" x2="246.65" y2="217.75" stroke="#000" stroke-width="0.6"/>
<text x="246.10" y="221.48" font-size="3.70" font-weight="bold" text-anchor="middle">O</text>
<line x1="257.9" y1="211.75" x2="257.9" y2="217.55" stroke="#000" stroke-width="0.75"/>
<text x="257.90" y="221.48" font-size="3.70" font-weight="bold" text-anchor="middle">OH</text>
<line x1="269.15" y1="211.75" x2="269.15" y2="217.75" stroke="#000" stroke-width="0.6"/>
<line x1="270.25" y1="211.75" x2="270.25" y2="217.75" stroke="#000" stroke-width="0.6"/>
<text x="269.70" y="221.48" font-size="3.70" font-weight="bold" text-anchor="middle">O</text>
<line x1="264.32" y1="209.13" x2="263.47" y2="209.21" stroke="#000" stroke-width="0.5"/>
<line x1="264.55" y1="210.17" x2="263.43" y2="210.27" stroke="#000" stroke-width="0.5"/>
<line x1="264.78" y1="211.21" x2="263.4" y2="211.33" stroke="#000" stroke-width="0.5"/>
<line x1="265" y1="212.24" x2="263.36" y2="212.39" stroke="#000" stroke-width="0.5"/>
<text x="264.80" y="216.06" font-size="3.70" font-weight="bold" text-anchor="middle">OH</text>
<line x1="275.6" y1="200.88" x2="279.6" y2="197.88" stroke="#000" stroke-width="0.75"/>
<text x="282.40" y="199.01" font-size="3.70" font-weight="bold" text-anchor="middle">OH</text>
<line x1="275.6" y1="208.12" x2="281.4" y2="211.22" stroke="#000" stroke-width="0.75"/>
<line x1="280.85" y1="211.22" x2="280.85" y2="216.62" stroke="#000" stroke-width="0.6"/>
<line x1="281.95" y1="211.22" x2="281.95" y2="216.62" stroke="#000" stroke-width="0.6"/>
<text x="281.40" y="220.36" font-size="3.70" font-weight="bold" text-anchor="middle">O</text>
<line x1="281.4" y1="211.22" x2="286" y2="208.22" stroke="#000" stroke-width="0.75"/>
<text x="289.70" y="209.56" font-size="3.70" font-weight="bold" text-anchor="middle">NH<tspan font-size="2.6" dy="0.9">2</tspan></text>
<line x1="251.6" y1="199.78" x2="252.4" y2="199.78" stroke="#000" stroke-width="0.5"/>
<line x1="251.47" y1="198.68" x2="252.53" y2="198.68" stroke="#000" stroke-width="0.5"/>
<line x1="251.35" y1="197.59" x2="252.65" y2="197.59" stroke="#000" stroke-width="0.5"/>
<line x1="251.22" y1="196.49" x2="252.78" y2="196.49" stroke="#000" stroke-width="0.5"/>
<text x="252.00" y="195.76" font-size="3.30" font-weight="bold" text-anchor="middle">H</text>
<line x1="263.4" y1="199.78" x2="264.2" y2="199.78" stroke="#000" stroke-width="0.5"/>
<line x1="263.27" y1="198.68" x2="264.33" y2="198.68" stroke="#000" stroke-width="0.5"/>
<line x1="263.15" y1="197.59" x2="264.45" y2="197.59" stroke="#000" stroke-width="0.5"/>
<line x1="263.02" y1="196.49" x2="264.58" y2="196.49" stroke="#000" stroke-width="0.5"/>
<text x="263.80" y="195.76" font-size="3.30" font-weight="bold" text-anchor="middle">H</text>
<path d="M269.70,197.25 L270.35,192.25 L269.05,192.25 Z" fill="#000"/>
<text x="269.70" y="192.35" font-size="3.60" font-weight="bold" text-anchor="middle">N</text>
<line x1="268.7" y1="190.05" x2="264.7" y2="187.45" stroke="#000" stroke-width="0.75"/>
<line x1="270.7" y1="190.05" x2="274.7" y2="187.45" stroke="#000" stroke-width="0.75"/>
<path d="M246.10,197.25 L244.88,192.31 L243.32,192.99 Z" fill="#000"/>
<text x="240.80" y="192.58" font-size="3.70" font-weight="bold" text-anchor="middle">HO</text>
<line x1="246.1" y1="197.25" x2="249" y2="192.45" stroke="#000" stroke-width="0.75"/>
<line x1="257.9" y1="197.25" x2="257.9" y2="192.25" stroke="#000" stroke-width="0.75"/>
<text x="258.50" y="191.88" font-size="3.70" font-weight="bold" text-anchor="middle">OH</text>
<text x="260.8" y="229.5" font-size="5.3" text-anchor="middle" font-weight="bold" fill="#000">Oxytetracycline</text>
<line x1="309.2" y1="197.4" x2="315.1" y2="201" stroke="#000" stroke-width="0.75"/>
<line x1="315.1" y1="201" x2="315.1" y2="208.2" stroke="#000" stroke-width="0.75"/>
<line x1="315.1" y1="208.2" x2="309.2" y2="211.8" stroke="#000" stroke-width="0.75"/>
<line x1="309.2" y1="211.8" x2="303.3" y2="208.2" stroke="#000" stroke-width="0.75"/>
<line x1="303.3" y1="208.2" x2="303.3" y2="201" stroke="#000" stroke-width="0.75"/>
<line x1="303.3" y1="201" x2="309.2" y2="197.4" stroke="#000" stroke-width="0.75"/>
<line x1="321" y1="197.4" x2="326.9" y2="201" stroke="#000" stroke-width="0.75"/>
<line x1="326.9" y1="201" x2="326.9" y2="208.2" stroke="#000" stroke-width="0.75"/>
<line x1="326.9" y1="208.2" x2="321" y2="211.8" stroke="#000" stroke-width="0.75"/>
<line x1="321" y1="211.8" x2="315.1" y2="208.2" stroke="#000" stroke-width="0.75"/>
<line x1="315.1" y1="201" x2="321" y2="197.4" stroke="#000" stroke-width="0.75"/>
<line x1="332.8" y1="197.4" x2="338.7" y2="201" stroke="#000" stroke-width="0.75"/>
<line x1="338.7" y1="201" x2="338.7" y2="208.2" stroke="#000" stroke-width="0.75"/>
<line x1="338.7" y1="208.2" x2="332.8" y2="211.8" stroke="#000" stroke-width="0.75"/>
<line x1="332.8" y1="211.8" x2="326.9" y2="208.2" stroke="#000" stroke-width="0.75"/>
<line x1="326.9" y1="201" x2="332.8" y2="197.4" stroke="#000" stroke-width="0.75"/>
<line x1="344.6" y1="197.4" x2="350.5" y2="201" stroke="#000" stroke-width="0.75"/>
<line x1="350.5" y1="201" x2="350.5" y2="208.2" stroke="#000" stroke-width="0.75"/>
<line x1="350.5" y1="208.2" x2="344.6" y2="211.8" stroke="#000" stroke-width="0.75"/>
<line x1="344.6" y1="211.8" x2="338.7" y2="208.2" stroke="#000" stroke-width="0.75"/>
<line x1="338.7" y1="201" x2="344.6" y2="197.4" stroke="#000" stroke-width="0.75"/>
<line x1="305.43" y1="201.43" x2="308.48" y2="199.57" stroke="#000" stroke-width="0.75"/>
<line x1="313.68" y1="202.74" x2="313.68" y2="206.46" stroke="#000" stroke-width="0.75"/>
<line x1="308.48" y1="209.63" x2="305.43" y2="207.77" stroke="#000" stroke-width="0.75"/>
<line x1="332.08" y1="209.63" x2="329.03" y2="207.77" stroke="#000" stroke-width="0.75"/>
<line x1="349.08" y1="202.74" x2="349.08" y2="206.46" stroke="#000" stroke-width="0.75"/>
<line x1="309.2" y1="211.8" x2="309.2" y2="217.6" stroke="#000" stroke-width="0.75"/>
<text x="309.20" y="221.53" font-size="3.70" font-weight="bold" text-anchor="middle">OH</text>
<line x1="320.45" y1="211.8" x2="320.45" y2="217.8" stroke="#000" stroke-width="0.6"/>
<line x1="321.55" y1="211.8" x2="321.55" y2="217.8" stroke="#000" stroke-width="0.6"/>
<text x="321.00" y="221.53" font-size="3.70" font-weight="bold" text-anchor="middle">O</text>
<line x1="332.8" y1="211.8" x2="332.8" y2="217.6" stroke="#000" stroke-width="0.75"/>
<text x="332.80" y="221.53" font-size="3.70" font-weight="bold" text-anchor="middle">OH</text>
<line x1="344.05" y1="211.8" x2="344.05" y2="217.8" stroke="#000" stroke-width="0.6"/>
<line x1="345.15" y1="211.8" x2="345.15" y2="217.8" stroke="#000" stroke-width="0.6"/>
<text x="344.60" y="221.53" font-size="3.70" font-weight="bold" text-anchor="middle">O</text>
<line x1="339.22" y1="209.21" x2="338.37" y2="209.29" stroke="#000" stroke-width="0.5"/>
<line x1="339.45" y1="210.24" x2="338.33" y2="210.35" stroke="#000" stroke-width="0.5"/>
<line x1="339.68" y1="211.28" x2="338.3" y2="211.41" stroke="#000" stroke-width="0.5"/>
<line x1="339.9" y1="212.32" x2="338.26" y2="212.47" stroke="#000" stroke-width="0.5"/>
<text x="339.70" y="216.13" font-size="3.70" font-weight="bold" text-anchor="middle">OH</text>
<line x1="350.5" y1="201" x2="354.5" y2="198" stroke="#000" stroke-width="0.75"/>
<text x="357.30" y="199.13" font-size="3.70" font-weight="bold" text-anchor="middle">OH</text>
<line x1="350.5" y1="208.2" x2="356.3" y2="211.3" stroke="#000" stroke-width="0.75"/>
<line x1="355.75" y1="211.3" x2="355.75" y2="216.7" stroke="#000" stroke-width="0.6"/>
<line x1="356.85" y1="211.3" x2="356.85" y2="216.7" stroke="#000" stroke-width="0.6"/>
<text x="356.30" y="220.43" font-size="3.70" font-weight="bold" text-anchor="middle">O</text>
<line x1="356.3" y1="211.3" x2="360.9" y2="208.3" stroke="#000" stroke-width="0.75"/>
<text x="364.60" y="209.63" font-size="3.70" font-weight="bold" text-anchor="middle">NH<tspan font-size="2.6" dy="0.9">2</tspan></text>
<line x1="326.5" y1="199.9" x2="327.3" y2="199.9" stroke="#000" stroke-width="0.5"/>
<line x1="326.37" y1="198.81" x2="327.43" y2="198.81" stroke="#000" stroke-width="0.5"/>
<line x1="326.25" y1="197.71" x2="327.55" y2="197.71" stroke="#000" stroke-width="0.5"/>
<line x1="326.12" y1="196.62" x2="327.68" y2="196.62" stroke="#000" stroke-width="0.5"/>
<text x="326.90" y="195.89" font-size="3.30" font-weight="bold" text-anchor="middle">H</text>
<line x1="338.3" y1="199.9" x2="339.1" y2="199.9" stroke="#000" stroke-width="0.5"/>
<line x1="338.17" y1="198.81" x2="339.23" y2="198.81" stroke="#000" stroke-width="0.5"/>
<line x1="338.05" y1="197.71" x2="339.35" y2="197.71" stroke="#000" stroke-width="0.5"/>
<line x1="337.92" y1="196.62" x2="339.48" y2="196.62" stroke="#000" stroke-width="0.5"/>
<text x="338.70" y="195.89" font-size="3.30" font-weight="bold" text-anchor="middle">H</text>
<path d="M344.60,197.40 L345.25,192.40 L343.95,192.40 Z" fill="#000"/>
<text x="344.60" y="192.50" font-size="3.60" font-weight="bold" text-anchor="middle">N</text>
<line x1="343.6" y1="190.2" x2="339.6" y2="187.6" stroke="#000" stroke-width="0.75"/>
<line x1="345.6" y1="190.2" x2="349.6" y2="187.6" stroke="#000" stroke-width="0.75"/>
<path d="M321.00,197.40 L319.78,192.46 L318.22,193.14 Z" fill="#000"/>
<text x="315.70" y="192.73" font-size="3.70" font-weight="bold" text-anchor="middle">HO</text>
<line x1="321" y1="197.4" x2="323.9" y2="192.6" stroke="#000" stroke-width="0.75"/>
<text x="336.5" y="229.5" font-size="5.3" text-anchor="middle" font-weight="bold" fill="#000">Tetracycline</text>
<line x1="234.6" y1="247.3" x2="240.5" y2="250.6" stroke="#000" stroke-width="0.75"/>
<line x1="240.5" y1="250.6" x2="240.5" y2="257.2" stroke="#000" stroke-width="0.75"/>
<line x1="240.5" y1="257.2" x2="234.6" y2="260.5" stroke="#000" stroke-width="0.75"/>
<line x1="234.6" y1="260.5" x2="228.7" y2="257.2" stroke="#000" stroke-width="0.75"/>
<line x1="228.7" y1="257.2" x2="228.7" y2="250.6" stroke="#000" stroke-width="0.75"/>
<line x1="228.7" y1="250.6" x2="234.6" y2="247.3" stroke="#000" stroke-width="0.75"/>
<line x1="246.4" y1="247.3" x2="252.3" y2="250.6" stroke="#000" stroke-width="0.75"/>
<line x1="252.3" y1="250.6" x2="252.3" y2="257.2" stroke="#000" stroke-width="0.75"/>
<line x1="252.3" y1="257.2" x2="246.4" y2="260.5" stroke="#000" stroke-width="0.75"/>
<line x1="246.4" y1="260.5" x2="240.5" y2="257.2" stroke="#000" stroke-width="0.75"/>
<line x1="240.5" y1="250.6" x2="246.4" y2="247.3" stroke="#000" stroke-width="0.75"/>
<line x1="258.2" y1="247.3" x2="264.1" y2="250.6" stroke="#000" stroke-width="0.75"/>
<line x1="264.1" y1="250.6" x2="264.1" y2="257.2" stroke="#000" stroke-width="0.75"/>
<line x1="264.1" y1="257.2" x2="258.2" y2="260.5" stroke="#000" stroke-width="0.75"/>
<line x1="258.2" y1="260.5" x2="252.3" y2="257.2" stroke="#000" stroke-width="0.75"/>
<line x1="252.3" y1="250.6" x2="258.2" y2="247.3" stroke="#000" stroke-width="0.75"/>
<line x1="270" y1="247.3" x2="275.9" y2="250.6" stroke="#000" stroke-width="0.75"/>
<line x1="275.9" y1="250.6" x2="275.9" y2="257.2" stroke="#000" stroke-width="0.75"/>
<line x1="275.9" y1="257.2" x2="270" y2="260.5" stroke="#000" stroke-width="0.75"/>
<line x1="270" y1="260.5" x2="264.1" y2="257.2" stroke="#000" stroke-width="0.75"/>
<line x1="264.1" y1="250.6" x2="270" y2="247.3" stroke="#000" stroke-width="0.75"/>
<line x1="230.83" y1="250.99" x2="233.88" y2="249.29" stroke="#000" stroke-width="0.75"/>
<line x1="239.08" y1="252.19" x2="239.08" y2="255.61" stroke="#000" stroke-width="0.75"/>
<line x1="233.88" y1="258.51" x2="230.83" y2="256.81" stroke="#000" stroke-width="0.75"/>
<line x1="257.48" y1="258.51" x2="254.43" y2="256.81" stroke="#000" stroke-width="0.75"/>
<line x1="274.48" y1="252.19" x2="274.48" y2="255.61" stroke="#000" stroke-width="0.75"/>
<line x1="234.6" y1="260.5" x2="234.6" y2="266.3" stroke="#000" stroke-width="0.75"/>
<text x="234.60" y="270.23" font-size="3.70" font-weight="bold" text-anchor="middle">OH</text>
<line x1="245.85" y1="260.5" x2="245.85" y2="266.5" stroke="#000" stroke-width="0.6"/>
<line x1="246.95" y1="260.5" x2="246.95" y2="266.5" stroke="#000" stroke-width="0.6"/>
<text x="246.40" y="270.23" font-size="3.70" font-weight="bold" text-anchor="middle">O</text>
<line x1="258.2" y1="260.5" x2="258.2" y2="266.3" stroke="#000" stroke-width="0.75"/>
<text x="258.20" y="270.23" font-size="3.70" font-weight="bold" text-anchor="middle">OH</text>
<line x1="269.45" y1="260.5" x2="269.45" y2="266.5" stroke="#000" stroke-width="0.6"/>
<line x1="270.55" y1="260.5" x2="270.55" y2="266.5" stroke="#000" stroke-width="0.6"/>
<text x="270.00" y="270.23" font-size="3.70" font-weight="bold" text-anchor="middle">O</text>
<line x1="264.62" y1="258.21" x2="263.77" y2="258.29" stroke="#000" stroke-width="0.5"/>
<line x1="264.85" y1="259.24" x2="263.73" y2="259.35" stroke="#000" stroke-width="0.5"/>
<line x1="265.08" y1="260.28" x2="263.7" y2="260.41" stroke="#000" stroke-width="0.5"/>
<line x1="265.3" y1="261.32" x2="263.66" y2="261.47" stroke="#000" stroke-width="0.5"/>
<text x="265.10" y="265.13" font-size="3.70" font-weight="bold" text-anchor="middle">OH</text>
<line x1="275.9" y1="250.6" x2="279.9" y2="247.6" stroke="#000" stroke-width="0.75"/>
<text x="282.70" y="248.73" font-size="3.70" font-weight="bold" text-anchor="middle">OH</text>
<line x1="275.9" y1="257.2" x2="281.7" y2="260.3" stroke="#000" stroke-width="0.75"/>
<line x1="281.15" y1="260.3" x2="281.15" y2="265.7" stroke="#000" stroke-width="0.6"/>
<line x1="282.25" y1="260.3" x2="282.25" y2="265.7" stroke="#000" stroke-width="0.6"/>
<text x="281.70" y="269.43" font-size="3.70" font-weight="bold" text-anchor="middle">O</text>
<line x1="281.7" y1="260.3" x2="286.3" y2="257.3" stroke="#000" stroke-width="0.75"/>
<text x="290.00" y="258.63" font-size="3.70" font-weight="bold" text-anchor="middle">NH<tspan font-size="2.6" dy="0.9">2</tspan></text>
<line x1="251.9" y1="249.5" x2="252.7" y2="249.5" stroke="#000" stroke-width="0.5"/>
<line x1="251.77" y1="248.41" x2="252.83" y2="248.41" stroke="#000" stroke-width="0.5"/>
<line x1="251.65" y1="247.31" x2="252.95" y2="247.31" stroke="#000" stroke-width="0.5"/>
<line x1="251.52" y1="246.22" x2="253.08" y2="246.22" stroke="#000" stroke-width="0.5"/>
<text x="252.30" y="245.49" font-size="3.30" font-weight="bold" text-anchor="middle">H</text>
<line x1="263.7" y1="249.5" x2="264.5" y2="249.5" stroke="#000" stroke-width="0.5"/>
<line x1="263.57" y1="248.41" x2="264.63" y2="248.41" stroke="#000" stroke-width="0.5"/>
<line x1="263.45" y1="247.31" x2="264.75" y2="247.31" stroke="#000" stroke-width="0.5"/>
<line x1="263.32" y1="246.22" x2="264.88" y2="246.22" stroke="#000" stroke-width="0.5"/>
<text x="264.10" y="245.49" font-size="3.30" font-weight="bold" text-anchor="middle">H</text>
<path d="M270.00,247.30 L270.65,242.30 L269.35,242.30 Z" fill="#000"/>
<text x="270.00" y="242.40" font-size="3.60" font-weight="bold" text-anchor="middle">N</text>
<line x1="269" y1="240.1" x2="265" y2="237.5" stroke="#000" stroke-width="0.75"/>
<line x1="271" y1="240.1" x2="275" y2="237.5" stroke="#000" stroke-width="0.75"/>
<path d="M246.40,247.30 L245.18,242.36 L243.62,243.04 Z" fill="#000"/>
<text x="241.10" y="242.63" font-size="3.70" font-weight="bold" text-anchor="middle">HO</text>
<line x1="246.4" y1="247.3" x2="249.3" y2="242.5" stroke="#000" stroke-width="0.75"/>
<line x1="234.6" y1="247.3" x2="234.6" y2="242.1" stroke="#000" stroke-width="0.75"/>
<text x="234.60" y="241.23" font-size="3.70" font-weight="bold" text-anchor="middle">Cl</text>
<text x="260.5" y="277.5" font-size="5.3" text-anchor="middle" font-weight="bold" fill="#000">Chlortetracycline</text>
<line x1="309.2" y1="249.55" x2="315.1" y2="253.03" stroke="#000" stroke-width="0.75"/>
<line x1="315.1" y1="253.03" x2="315.1" y2="259.98" stroke="#000" stroke-width="0.75"/>
<line x1="315.1" y1="259.98" x2="309.2" y2="263.45" stroke="#000" stroke-width="0.75"/>
<line x1="309.2" y1="263.45" x2="303.3" y2="259.98" stroke="#000" stroke-width="0.75"/>
<line x1="303.3" y1="259.98" x2="303.3" y2="253.03" stroke="#000" stroke-width="0.75"/>
<line x1="303.3" y1="253.03" x2="309.2" y2="249.55" stroke="#000" stroke-width="0.75"/>
<line x1="321" y1="249.55" x2="326.9" y2="253.03" stroke="#000" stroke-width="0.75"/>
<line x1="326.9" y1="253.03" x2="326.9" y2="259.98" stroke="#000" stroke-width="0.75"/>
<line x1="326.9" y1="259.98" x2="321" y2="263.45" stroke="#000" stroke-width="0.75"/>
<line x1="321" y1="263.45" x2="315.1" y2="259.98" stroke="#000" stroke-width="0.75"/>
<line x1="315.1" y1="253.03" x2="321" y2="249.55" stroke="#000" stroke-width="0.75"/>
<line x1="332.8" y1="249.55" x2="338.7" y2="253.03" stroke="#000" stroke-width="0.75"/>
<line x1="338.7" y1="253.03" x2="338.7" y2="259.98" stroke="#000" stroke-width="0.75"/>
<line x1="338.7" y1="259.98" x2="332.8" y2="263.45" stroke="#000" stroke-width="0.75"/>
<line x1="332.8" y1="263.45" x2="326.9" y2="259.98" stroke="#000" stroke-width="0.75"/>
<line x1="326.9" y1="253.03" x2="332.8" y2="249.55" stroke="#000" stroke-width="0.75"/>
<line x1="344.6" y1="249.55" x2="350.5" y2="253.03" stroke="#000" stroke-width="0.75"/>
<line x1="350.5" y1="253.03" x2="350.5" y2="259.98" stroke="#000" stroke-width="0.75"/>
<line x1="350.5" y1="259.98" x2="344.6" y2="263.45" stroke="#000" stroke-width="0.75"/>
<line x1="344.6" y1="263.45" x2="338.7" y2="259.98" stroke="#000" stroke-width="0.75"/>
<line x1="338.7" y1="253.03" x2="344.6" y2="249.55" stroke="#000" stroke-width="0.75"/>
<line x1="305.43" y1="253.44" x2="308.48" y2="251.64" stroke="#000" stroke-width="0.75"/>
<line x1="313.68" y1="254.7" x2="313.68" y2="258.3" stroke="#000" stroke-width="0.75"/>
<line x1="308.48" y1="261.36" x2="305.43" y2="259.56" stroke="#000" stroke-width="0.75"/>
<line x1="332.08" y1="261.36" x2="329.03" y2="259.56" stroke="#000" stroke-width="0.75"/>
<line x1="349.08" y1="254.7" x2="349.08" y2="258.3" stroke="#000" stroke-width="0.75"/>
<line x1="309.2" y1="263.45" x2="309.2" y2="269.25" stroke="#000" stroke-width="0.75"/>
<text x="309.20" y="273.18" font-size="3.70" font-weight="bold" text-anchor="middle">OH</text>
<line x1="320.45" y1="263.45" x2="320.45" y2="269.45" stroke="#000" stroke-width="0.6"/>
<line x1="321.55" y1="263.45" x2="321.55" y2="269.45" stroke="#000" stroke-width="0.6"/>
<text x="321.00" y="273.18" font-size="3.70" font-weight="bold" text-anchor="middle">O</text>
<line x1="332.8" y1="263.45" x2="332.8" y2="269.25" stroke="#000" stroke-width="0.75"/>
<text x="332.80" y="273.18" font-size="3.70" font-weight="bold" text-anchor="middle">OH</text>
<line x1="344.05" y1="263.45" x2="344.05" y2="269.45" stroke="#000" stroke-width="0.6"/>
<line x1="345.15" y1="263.45" x2="345.15" y2="269.45" stroke="#000" stroke-width="0.6"/>
<text x="344.60" y="273.18" font-size="3.70" font-weight="bold" text-anchor="middle">O</text>
<line x1="339.22" y1="260.98" x2="338.37" y2="261.06" stroke="#000" stroke-width="0.5"/>
<line x1="339.45" y1="262.02" x2="338.33" y2="262.12" stroke="#000" stroke-width="0.5"/>
<line x1="339.68" y1="263.06" x2="338.3" y2="263.18" stroke="#000" stroke-width="0.5"/>
<line x1="339.9" y1="264.09" x2="338.26" y2="264.24" stroke="#000" stroke-width="0.5"/>
<text x="339.70" y="267.91" font-size="3.70" font-weight="bold" text-anchor="middle">OH</text>
<line x1="350.5" y1="253.03" x2="354.5" y2="250.03" stroke="#000" stroke-width="0.75"/>
<text x="357.30" y="251.16" font-size="3.70" font-weight="bold" text-anchor="middle">OH</text>
<line x1="350.5" y1="259.98" x2="356.3" y2="263.08" stroke="#000" stroke-width="0.75"/>
<line x1="355.75" y1="263.08" x2="355.75" y2="268.48" stroke="#000" stroke-width="0.6"/>
<line x1="356.85" y1="263.08" x2="356.85" y2="268.48" stroke="#000" stroke-width="0.6"/>
<text x="356.30" y="272.21" font-size="3.70" font-weight="bold" text-anchor="middle">O</text>
<line x1="356.3" y1="263.08" x2="360.9" y2="260.08" stroke="#000" stroke-width="0.75"/>
<text x="364.60" y="261.41" font-size="3.70" font-weight="bold" text-anchor="middle">NH<tspan font-size="2.6" dy="0.9">2</tspan></text>
<line x1="326.5" y1="251.93" x2="327.3" y2="251.93" stroke="#000" stroke-width="0.5"/>
<line x1="326.37" y1="250.83" x2="327.43" y2="250.83" stroke="#000" stroke-width="0.5"/>
<line x1="326.25" y1="249.74" x2="327.55" y2="249.74" stroke="#000" stroke-width="0.5"/>
<line x1="326.12" y1="248.64" x2="327.68" y2="248.64" stroke="#000" stroke-width="0.5"/>
<text x="326.90" y="247.91" font-size="3.30" font-weight="bold" text-anchor="middle">H</text>
<line x1="338.3" y1="251.93" x2="339.1" y2="251.93" stroke="#000" stroke-width="0.5"/>
<line x1="338.17" y1="250.83" x2="339.23" y2="250.83" stroke="#000" stroke-width="0.5"/>
<line x1="338.05" y1="249.74" x2="339.35" y2="249.74" stroke="#000" stroke-width="0.5"/>
<line x1="337.92" y1="248.64" x2="339.48" y2="248.64" stroke="#000" stroke-width="0.5"/>
<text x="338.70" y="247.91" font-size="3.30" font-weight="bold" text-anchor="middle">H</text>
<path d="M344.60,249.55 L345.25,244.55 L343.95,244.55 Z" fill="#000"/>
<text x="344.60" y="244.65" font-size="3.60" font-weight="bold" text-anchor="middle">N</text>
<line x1="343.6" y1="242.35" x2="339.6" y2="239.75" stroke="#000" stroke-width="0.75"/>
<line x1="345.6" y1="242.35" x2="349.6" y2="239.75" stroke="#000" stroke-width="0.75"/>
<line x1="332.8" y1="249.55" x2="332.8" y2="244.55" stroke="#000" stroke-width="0.75"/>
<text x="333.40" y="244.18" font-size="3.70" font-weight="bold" text-anchor="middle">OH</text>
<line x1="321" y1="249.55" x2="321" y2="243.75" stroke="#000" stroke-width="0.75"/>
<text x="337.3" y="279.5" font-size="5.3" text-anchor="middle" font-weight="bold" fill="#000">Doxycycline</text>
<line x1="234.5" y1="296.35" x2="240.4" y2="299.93" stroke="#000" stroke-width="0.75"/>
<line x1="240.4" y1="299.93" x2="240.4" y2="307.07" stroke="#000" stroke-width="0.75"/>
<line x1="240.4" y1="307.07" x2="234.5" y2="310.65" stroke="#000" stroke-width="0.75"/>
<line x1="234.5" y1="310.65" x2="228.6" y2="307.07" stroke="#000" stroke-width="0.75"/>
<line x1="228.6" y1="307.07" x2="228.6" y2="299.93" stroke="#000" stroke-width="0.75"/>
<line x1="228.6" y1="299.93" x2="234.5" y2="296.35" stroke="#000" stroke-width="0.75"/>
<line x1="246.3" y1="296.35" x2="252.2" y2="299.93" stroke="#000" stroke-width="0.75"/>
<line x1="252.2" y1="299.93" x2="252.2" y2="307.07" stroke="#000" stroke-width="0.75"/>
<line x1="252.2" y1="307.07" x2="246.3" y2="310.65" stroke="#000" stroke-width="0.75"/>
<line x1="246.3" y1="310.65" x2="240.4" y2="307.07" stroke="#000" stroke-width="0.75"/>
<line x1="240.4" y1="299.93" x2="246.3" y2="296.35" stroke="#000" stroke-width="0.75"/>
<line x1="258.1" y1="296.35" x2="264" y2="299.93" stroke="#000" stroke-width="0.75"/>
<line x1="264" y1="299.93" x2="264" y2="307.07" stroke="#000" stroke-width="0.75"/>
<line x1="264" y1="307.07" x2="258.1" y2="310.65" stroke="#000" stroke-width="0.75"/>
<line x1="258.1" y1="310.65" x2="252.2" y2="307.07" stroke="#000" stroke-width="0.75"/>
<line x1="252.2" y1="299.93" x2="258.1" y2="296.35" stroke="#000" stroke-width="0.75"/>
<line x1="269.9" y1="296.35" x2="275.8" y2="299.93" stroke="#000" stroke-width="0.75"/>
<line x1="275.8" y1="299.93" x2="275.8" y2="307.07" stroke="#000" stroke-width="0.75"/>
<line x1="275.8" y1="307.07" x2="269.9" y2="310.65" stroke="#000" stroke-width="0.75"/>
<line x1="269.9" y1="310.65" x2="264" y2="307.07" stroke="#000" stroke-width="0.75"/>
<line x1="264" y1="299.93" x2="269.9" y2="296.35" stroke="#000" stroke-width="0.75"/>
<line x1="230.73" y1="300.35" x2="233.78" y2="298.5" stroke="#000" stroke-width="0.75"/>
<line x1="238.98" y1="301.65" x2="238.98" y2="305.35" stroke="#000" stroke-width="0.75"/>
<line x1="233.78" y1="308.5" x2="230.73" y2="306.65" stroke="#000" stroke-width="0.75"/>
<line x1="257.38" y1="308.5" x2="254.33" y2="306.65" stroke="#000" stroke-width="0.75"/>
<line x1="274.38" y1="301.65" x2="274.38" y2="305.35" stroke="#000" stroke-width="0.75"/>
<line x1="234.5" y1="310.65" x2="234.5" y2="316.45" stroke="#000" stroke-width="0.75"/>
<text x="234.50" y="320.38" font-size="3.70" font-weight="bold" text-anchor="middle">OH</text>
<line x1="245.75" y1="310.65" x2="245.75" y2="316.65" stroke="#000" stroke-width="0.6"/>
<line x1="246.85" y1="310.65" x2="246.85" y2="316.65" stroke="#000" stroke-width="0.6"/>
<text x="246.30" y="320.38" font-size="3.70" font-weight="bold" text-anchor="middle">O</text>
<line x1="258.1" y1="310.65" x2="258.1" y2="316.45" stroke="#000" stroke-width="0.75"/>
<text x="258.10" y="320.38" font-size="3.70" font-weight="bold" text-anchor="middle">OH</text>
<line x1="269.35" y1="310.65" x2="269.35" y2="316.65" stroke="#000" stroke-width="0.6"/>
<line x1="270.45" y1="310.65" x2="270.45" y2="316.65" stroke="#000" stroke-width="0.6"/>
<text x="269.90" y="320.38" font-size="3.70" font-weight="bold" text-anchor="middle">O</text>
<line x1="264.52" y1="308.08" x2="263.67" y2="308.16" stroke="#000" stroke-width="0.5"/>
<line x1="264.75" y1="309.12" x2="263.63" y2="309.22" stroke="#000" stroke-width="0.5"/>
<line x1="264.98" y1="310.16" x2="263.6" y2="310.28" stroke="#000" stroke-width="0.5"/>
<line x1="265.2" y1="311.19" x2="263.56" y2="311.34" stroke="#000" stroke-width="0.5"/>
<text x="265.00" y="315.01" font-size="3.70" font-weight="bold" text-anchor="middle">OH</text>
<line x1="275.8" y1="299.93" x2="279.8" y2="296.93" stroke="#000" stroke-width="0.75"/>
<text x="282.60" y="298.06" font-size="3.70" font-weight="bold" text-anchor="middle">OH</text>
<line x1="275.8" y1="307.07" x2="281.6" y2="310.18" stroke="#000" stroke-width="0.75"/>
<line x1="281.05" y1="310.18" x2="281.05" y2="315.57" stroke="#000" stroke-width="0.6"/>
<line x1="282.15" y1="310.18" x2="282.15" y2="315.57" stroke="#000" stroke-width="0.6"/>
<text x="281.60" y="319.31" font-size="3.70" font-weight="bold" text-anchor="middle">O</text>
<line x1="281.6" y1="310.18" x2="286.2" y2="307.18" stroke="#000" stroke-width="0.75"/>
<text x="289.90" y="308.51" font-size="3.70" font-weight="bold" text-anchor="middle">NH<tspan font-size="2.6" dy="0.9">2</tspan></text>
<line x1="251.8" y1="298.83" x2="252.6" y2="298.83" stroke="#000" stroke-width="0.5"/>
<line x1="251.67" y1="297.73" x2="252.73" y2="297.73" stroke="#000" stroke-width="0.5"/>
<line x1="251.55" y1="296.64" x2="252.85" y2="296.64" stroke="#000" stroke-width="0.5"/>
<line x1="251.42" y1="295.54" x2="252.98" y2="295.54" stroke="#000" stroke-width="0.5"/>
<text x="252.20" y="294.81" font-size="3.30" font-weight="bold" text-anchor="middle">H</text>
<line x1="263.6" y1="298.83" x2="264.4" y2="298.83" stroke="#000" stroke-width="0.5"/>
<line x1="263.47" y1="297.73" x2="264.53" y2="297.73" stroke="#000" stroke-width="0.5"/>
<line x1="263.35" y1="296.64" x2="264.65" y2="296.64" stroke="#000" stroke-width="0.5"/>
<line x1="263.22" y1="295.54" x2="264.78" y2="295.54" stroke="#000" stroke-width="0.5"/>
<text x="264.00" y="294.81" font-size="3.30" font-weight="bold" text-anchor="middle">H</text>
<path d="M269.90,296.35 L270.55,291.35 L269.25,291.35 Z" fill="#000"/>
<text x="269.90" y="291.45" font-size="3.60" font-weight="bold" text-anchor="middle">N</text>
<line x1="268.9" y1="289.15" x2="264.9" y2="286.55" stroke="#000" stroke-width="0.75"/>
<line x1="270.9" y1="289.15" x2="274.9" y2="286.55" stroke="#000" stroke-width="0.75"/>
<line x1="258.1" y1="296.35" x2="258.1" y2="291.35" stroke="#000" stroke-width="0.75"/>
<text x="258.70" y="290.98" font-size="3.70" font-weight="bold" text-anchor="middle">OH</text>
<line x1="246.75" y1="296.35" x2="246.75" y2="289.75" stroke="#000" stroke-width="0.6"/>
<line x1="245.85" y1="296.35" x2="245.85" y2="289.75" stroke="#000" stroke-width="0.6"/>
<text x="264.2" y="328.3" font-size="5.3" text-anchor="middle" font-weight="bold" fill="#000">Metacycline</text>
<line x1="309.3" y1="297.15" x2="315.2" y2="300.73" stroke="#000" stroke-width="0.75"/>
<line x1="315.2" y1="300.73" x2="315.2" y2="307.88" stroke="#000" stroke-width="0.75"/>
<line x1="315.2" y1="307.88" x2="309.3" y2="311.45" stroke="#000" stroke-width="0.75"/>
<line x1="309.3" y1="311.45" x2="303.4" y2="307.88" stroke="#000" stroke-width="0.75"/>
<line x1="303.4" y1="307.88" x2="303.4" y2="300.73" stroke="#000" stroke-width="0.75"/>
<line x1="303.4" y1="300.73" x2="309.3" y2="297.15" stroke="#000" stroke-width="0.75"/>
<line x1="321.1" y1="297.15" x2="327" y2="300.73" stroke="#000" stroke-width="0.75"/>
<line x1="327" y1="300.73" x2="327" y2="307.88" stroke="#000" stroke-width="0.75"/>
<line x1="327" y1="307.88" x2="321.1" y2="311.45" stroke="#000" stroke-width="0.75"/>
<line x1="321.1" y1="311.45" x2="315.2" y2="307.88" stroke="#000" stroke-width="0.75"/>
<line x1="315.2" y1="300.73" x2="321.1" y2="297.15" stroke="#000" stroke-width="0.75"/>
<line x1="332.9" y1="297.15" x2="338.8" y2="300.73" stroke="#000" stroke-width="0.75"/>
<line x1="338.8" y1="300.73" x2="338.8" y2="307.88" stroke="#000" stroke-width="0.75"/>
<line x1="338.8" y1="307.88" x2="332.9" y2="311.45" stroke="#000" stroke-width="0.75"/>
<line x1="332.9" y1="311.45" x2="327" y2="307.88" stroke="#000" stroke-width="0.75"/>
<line x1="327" y1="300.73" x2="332.9" y2="297.15" stroke="#000" stroke-width="0.75"/>
<line x1="344.7" y1="297.15" x2="350.6" y2="300.73" stroke="#000" stroke-width="0.75"/>
<line x1="350.6" y1="300.73" x2="350.6" y2="307.88" stroke="#000" stroke-width="0.75"/>
<line x1="350.6" y1="307.88" x2="344.7" y2="311.45" stroke="#000" stroke-width="0.75"/>
<line x1="344.7" y1="311.45" x2="338.8" y2="307.88" stroke="#000" stroke-width="0.75"/>
<line x1="338.8" y1="300.73" x2="344.7" y2="297.15" stroke="#000" stroke-width="0.75"/>
<line x1="305.53" y1="301.15" x2="308.58" y2="299.3" stroke="#000" stroke-width="0.75"/>
<line x1="313.78" y1="302.45" x2="313.78" y2="306.15" stroke="#000" stroke-width="0.75"/>
<line x1="308.58" y1="309.3" x2="305.53" y2="307.45" stroke="#000" stroke-width="0.75"/>
<line x1="332.18" y1="309.3" x2="329.13" y2="307.45" stroke="#000" stroke-width="0.75"/>
<line x1="349.18" y1="302.45" x2="349.18" y2="306.15" stroke="#000" stroke-width="0.75"/>
<line x1="309.3" y1="311.45" x2="309.3" y2="317.25" stroke="#000" stroke-width="0.75"/>
<text x="309.30" y="321.18" font-size="3.70" font-weight="bold" text-anchor="middle">OH</text>
<line x1="320.55" y1="311.45" x2="320.55" y2="317.45" stroke="#000" stroke-width="0.6"/>
<line x1="321.65" y1="311.45" x2="321.65" y2="317.45" stroke="#000" stroke-width="0.6"/>
<text x="321.10" y="321.18" font-size="3.70" font-weight="bold" text-anchor="middle">O</text>
<line x1="332.9" y1="311.45" x2="332.9" y2="317.25" stroke="#000" stroke-width="0.75"/>
<text x="332.90" y="321.18" font-size="3.70" font-weight="bold" text-anchor="middle">OH</text>
<line x1="344.15" y1="311.45" x2="344.15" y2="317.45" stroke="#000" stroke-width="0.6"/>
<line x1="345.25" y1="311.45" x2="345.25" y2="317.45" stroke="#000" stroke-width="0.6"/>
<text x="344.70" y="321.18" font-size="3.70" font-weight="bold" text-anchor="middle">O</text>
<line x1="339.32" y1="308.88" x2="338.47" y2="308.96" stroke="#000" stroke-width="0.5"/>
<line x1="339.55" y1="309.92" x2="338.43" y2="310.02" stroke="#000" stroke-width="0.5"/>
<line x1="339.78" y1="310.96" x2="338.4" y2="311.08" stroke="#000" stroke-width="0.5"/>
<line x1="340" y1="311.99" x2="338.36" y2="312.14" stroke="#000" stroke-width="0.5"/>
<text x="339.80" y="315.81" font-size="3.70" font-weight="bold" text-anchor="middle">OH</text>
<line x1="350.6" y1="300.73" x2="354.6" y2="297.73" stroke="#000" stroke-width="0.75"/>
<text x="357.40" y="298.86" font-size="3.70" font-weight="bold" text-anchor="middle">OH</text>
<line x1="350.6" y1="307.88" x2="356.4" y2="310.98" stroke="#000" stroke-width="0.75"/>
<line x1="355.85" y1="310.98" x2="355.85" y2="316.38" stroke="#000" stroke-width="0.6"/>
<line x1="356.95" y1="310.98" x2="356.95" y2="316.38" stroke="#000" stroke-width="0.6"/>
<text x="356.40" y="320.11" font-size="3.70" font-weight="bold" text-anchor="middle">O</text>
<line x1="356.4" y1="310.98" x2="361" y2="307.98" stroke="#000" stroke-width="0.75"/>
<text x="364.70" y="309.31" font-size="3.70" font-weight="bold" text-anchor="middle">NH<tspan font-size="2.6" dy="0.9">2</tspan></text>
<line x1="326.6" y1="299.63" x2="327.4" y2="299.63" stroke="#000" stroke-width="0.5"/>
<line x1="326.47" y1="298.53" x2="327.53" y2="298.53" stroke="#000" stroke-width="0.5"/>
<line x1="326.35" y1="297.44" x2="327.65" y2="297.44" stroke="#000" stroke-width="0.5"/>
<line x1="326.22" y1="296.34" x2="327.78" y2="296.34" stroke="#000" stroke-width="0.5"/>
<text x="327.00" y="295.61" font-size="3.30" font-weight="bold" text-anchor="middle">H</text>
<line x1="338.4" y1="299.63" x2="339.2" y2="299.63" stroke="#000" stroke-width="0.5"/>
<line x1="338.27" y1="298.53" x2="339.33" y2="298.53" stroke="#000" stroke-width="0.5"/>
<line x1="338.15" y1="297.44" x2="339.45" y2="297.44" stroke="#000" stroke-width="0.5"/>
<line x1="338.02" y1="296.34" x2="339.58" y2="296.34" stroke="#000" stroke-width="0.5"/>
<text x="338.80" y="295.61" font-size="3.30" font-weight="bold" text-anchor="middle">H</text>
<path d="M344.70,297.15 L345.35,292.15 L344.05,292.15 Z" fill="#000"/>
<text x="344.70" y="292.25" font-size="3.60" font-weight="bold" text-anchor="middle">N</text>
<line x1="343.7" y1="289.95" x2="339.7" y2="287.35" stroke="#000" stroke-width="0.75"/>
<line x1="345.7" y1="289.95" x2="349.7" y2="287.35" stroke="#000" stroke-width="0.75"/>
<line x1="309.3" y1="297.15" x2="309.3" y2="291.75" stroke="#000" stroke-width="0.75"/>
<text x="309.30" y="291.85" font-size="3.60" font-weight="bold" text-anchor="middle">N</text>
<line x1="308.3" y1="289.55" x2="304.3" y2="286.95" stroke="#000" stroke-width="0.75"/>
<line x1="310.3" y1="289.55" x2="314.3" y2="286.95" stroke="#000" stroke-width="0.75"/>
<text x="334.5" y="328.6" font-size="5.3" text-anchor="middle" font-weight="bold" fill="#000">Minocycline</text>
<rect x="43.90" y="480.93" width="3.40" height="0.57" fill="#68a0f8" stroke="#28324e" stroke-width="0.80"/>
<line x1="45.6" y1="480.53" x2="45.6" y2="481.17" stroke="#101830" stroke-width="0.8"/>
<line x1="44.6" y1="480.53" x2="46.6" y2="480.53" stroke="#101830" stroke-width="0.9"/>
<rect x="43.90" y="480.63" width="3.40" height="1.2" fill="#1a2440"/>
<rect x="50.86" y="386.69" width="3.40" height="94.81" fill="#68a0f8" stroke="#28324e" stroke-width="0.80"/>
<line x1="52.56" y1="385.09" x2="52.56" y2="387.65" stroke="#101830" stroke-width="0.8"/>
<line x1="51.56" y1="385.09" x2="53.56" y2="385.09" stroke="#101830" stroke-width="0.9"/>
<rect x="50.86" y="386.39" width="3.40" height="1.2" fill="#1a2440"/>
<rect x="57.82" y="375.55" width="3.40" height="105.95" fill="#68a0f8" stroke="#28324e" stroke-width="0.80"/>
<line x1="59.52" y1="373.75" x2="59.52" y2="376.63" stroke="#101830" stroke-width="0.8"/>
<line x1="58.52" y1="373.75" x2="60.52" y2="373.75" stroke="#101830" stroke-width="0.9"/>
<rect x="57.82" y="375.25" width="3.40" height="1.2" fill="#1a2440"/>
<rect x="64.78" y="395.60" width="3.40" height="85.90" fill="#68a0f8" stroke="#28324e" stroke-width="0.80"/>
<line x1="66.48" y1="394.3" x2="66.48" y2="396.38" stroke="#101830" stroke-width="0.8"/>
<line x1="65.48" y1="394.3" x2="67.48" y2="394.3" stroke="#101830" stroke-width="0.9"/>
<rect x="64.78" y="395.30" width="3.40" height="1.2" fill="#1a2440"/>
<rect x="71.74" y="386.24" width="3.40" height="95.26" fill="#68a0f8" stroke="#28324e" stroke-width="0.80"/>
<line x1="73.44" y1="384.04" x2="73.44" y2="387.56" stroke="#101830" stroke-width="0.8"/>
<line x1="72.44" y1="384.04" x2="74.44" y2="384.04" stroke="#101830" stroke-width="0.9"/>
<rect x="71.74" y="385.94" width="3.40" height="1.2" fill="#1a2440"/>
<rect x="78.70" y="391.14" width="3.40" height="90.36" fill="#68a0f8" stroke="#28324e" stroke-width="0.80"/>
<line x1="80.4" y1="389.84" x2="80.4" y2="391.92" stroke="#101830" stroke-width="0.8"/>
<line x1="79.4" y1="389.84" x2="81.4" y2="389.84" stroke="#101830" stroke-width="0.9"/>
<rect x="78.70" y="390.84" width="3.40" height="1.2" fill="#1a2440"/>
<rect x="85.66" y="383.12" width="3.40" height="98.38" fill="#68a0f8" stroke="#28324e" stroke-width="0.80"/>
<line x1="87.36" y1="381.72" x2="87.36" y2="383.96" stroke="#101830" stroke-width="0.8"/>
<line x1="86.36" y1="381.72" x2="88.36" y2="381.72" stroke="#101830" stroke-width="0.9"/>
<rect x="85.66" y="382.82" width="3.40" height="1.2" fill="#1a2440"/>
<rect x="92.62" y="384.01" width="3.40" height="97.49" fill="#68a0f8" stroke="#28324e" stroke-width="0.80"/>
<line x1="94.32" y1="382.61" x2="94.32" y2="384.85" stroke="#101830" stroke-width="0.8"/>
<line x1="93.32" y1="382.61" x2="95.32" y2="382.61" stroke="#101830" stroke-width="0.9"/>
<rect x="92.62" y="383.71" width="3.40" height="1.2" fill="#1a2440"/>
<rect x="99.58" y="392.03" width="3.40" height="89.47" fill="#68a0f8" stroke="#28324e" stroke-width="0.80"/>
<line x1="101.28" y1="390.73" x2="101.28" y2="392.81" stroke="#101830" stroke-width="0.8"/>
<line x1="100.28" y1="390.73" x2="102.28" y2="390.73" stroke="#101830" stroke-width="0.9"/>
<rect x="99.58" y="391.73" width="3.40" height="1.2" fill="#1a2440"/>
<rect x="106.54" y="392.48" width="3.40" height="89.02" fill="#68a0f8" stroke="#28324e" stroke-width="0.80"/>
<line x1="108.24" y1="391.18" x2="108.24" y2="393.26" stroke="#101830" stroke-width="0.8"/>
<line x1="107.24" y1="391.18" x2="109.24" y2="391.18" stroke="#101830" stroke-width="0.9"/>
<rect x="106.54" y="392.18" width="3.40" height="1.2" fill="#1a2440"/>
<rect x="113.50" y="393.82" width="3.40" height="87.68" fill="#68a0f8" stroke="#28324e" stroke-width="0.80"/>
<line x1="115.2" y1="392.52" x2="115.2" y2="394.6" stroke="#101830" stroke-width="0.8"/>
<line x1="114.2" y1="392.52" x2="116.2" y2="392.52" stroke="#101830" stroke-width="0.9"/>
<rect x="113.50" y="393.52" width="3.40" height="1.2" fill="#1a2440"/>
<rect x="120.46" y="382.68" width="3.40" height="98.82" fill="#68a0f8" stroke="#28324e" stroke-width="0.80"/>
<line x1="122.16" y1="381.18" x2="122.16" y2="383.58" stroke="#101830" stroke-width="0.8"/>
<line x1="121.16" y1="381.18" x2="123.16" y2="381.18" stroke="#101830" stroke-width="0.9"/>
<rect x="120.46" y="382.38" width="3.40" height="1.2" fill="#1a2440"/>
<rect x="127.42" y="381.34" width="3.40" height="100.16" fill="#68a0f8" stroke="#28324e" stroke-width="0.80"/>
<line x1="129.12" y1="379.74" x2="129.12" y2="382.3" stroke="#101830" stroke-width="0.8"/>
<line x1="128.12" y1="379.74" x2="130.12" y2="379.74" stroke="#101830" stroke-width="0.9"/>
<rect x="127.42" y="381.04" width="3.40" height="1.2" fill="#1a2440"/>
<rect x="134.38" y="391.14" width="3.40" height="90.36" fill="#68a0f8" stroke="#28324e" stroke-width="0.80"/>
<line x1="136.08" y1="389.74" x2="136.08" y2="391.98" stroke="#101830" stroke-width="0.8"/>
<line x1="135.08" y1="389.74" x2="137.08" y2="389.74" stroke="#101830" stroke-width="0.9"/>
<rect x="134.38" y="390.84" width="3.40" height="1.2" fill="#1a2440"/>
<rect x="141.34" y="386.24" width="3.40" height="95.26" fill="#68a0f8" stroke="#28324e" stroke-width="0.80"/>
<line x1="143.04" y1="384.84" x2="143.04" y2="387.08" stroke="#101830" stroke-width="0.8"/>
<line x1="142.04" y1="384.84" x2="144.04" y2="384.84" stroke="#101830" stroke-width="0.9"/>
<rect x="141.34" y="385.94" width="3.40" height="1.2" fill="#1a2440"/>
<rect x="148.30" y="384.90" width="3.40" height="96.60" fill="#68a0f8" stroke="#28324e" stroke-width="0.80"/>
<line x1="150" y1="383.5" x2="150" y2="385.74" stroke="#101830" stroke-width="0.8"/>
<line x1="149" y1="383.5" x2="151" y2="383.5" stroke="#101830" stroke-width="0.9"/>
<rect x="148.30" y="384.60" width="3.40" height="1.2" fill="#1a2440"/>
<rect x="155.26" y="383.57" width="3.40" height="97.93" fill="#68a0f8" stroke="#28324e" stroke-width="0.80"/>
<line x1="156.96" y1="382.17" x2="156.96" y2="384.41" stroke="#101830" stroke-width="0.8"/>
<line x1="155.96" y1="382.17" x2="157.96" y2="382.17" stroke="#101830" stroke-width="0.9"/>
<rect x="155.26" y="383.27" width="3.40" height="1.2" fill="#1a2440"/>
<rect x="162.22" y="384.01" width="3.40" height="97.49" fill="#68a0f8" stroke="#28324e" stroke-width="0.80"/>
<line x1="163.92" y1="382.61" x2="163.92" y2="384.85" stroke="#101830" stroke-width="0.8"/>
<line x1="162.92" y1="382.61" x2="164.92" y2="382.61" stroke="#101830" stroke-width="0.9"/>
<rect x="162.22" y="383.71" width="3.40" height="1.2" fill="#1a2440"/>
<rect x="169.18" y="386.69" width="3.40" height="94.81" fill="#68a0f8" stroke="#28324e" stroke-width="0.80"/>
<line x1="170.88" y1="385.29" x2="170.88" y2="387.53" stroke="#101830" stroke-width="0.8"/>
<line x1="169.88" y1="385.29" x2="171.88" y2="385.29" stroke="#101830" stroke-width="0.9"/>
<rect x="169.18" y="386.39" width="3.40" height="1.2" fill="#1a2440"/>
<rect x="40.3" y="359.4" width="136" height="122.1" fill="none" stroke="#000" stroke-width="1.1"/>
<line x1="38.3" y1="481.6" x2="40.3" y2="481.6" stroke="#000" stroke-width="1.1"/>
<line x1="38.3" y1="459.32" x2="40.3" y2="459.32" stroke="#000" stroke-width="1.1"/>
<line x1="38.3" y1="437.04" x2="40.3" y2="437.04" stroke="#000" stroke-width="1.1"/>
<line x1="38.3" y1="414.76" x2="40.3" y2="414.76" stroke="#000" stroke-width="1.1"/>
<line x1="38.3" y1="392.48" x2="40.3" y2="392.48" stroke="#000" stroke-width="1.1"/>
<line x1="38.3" y1="370.2" x2="40.3" y2="370.2" stroke="#000" stroke-width="1.1"/>
<line x1="39.1" y1="470.46" x2="40.3" y2="470.46" stroke="#000" stroke-width="0.88"/>
<line x1="39.1" y1="448.18" x2="40.3" y2="448.18" stroke="#000" stroke-width="0.88"/>
<line x1="39.1" y1="425.9" x2="40.3" y2="425.9" stroke="#000" stroke-width="0.88"/>
<line x1="39.1" y1="403.62" x2="40.3" y2="403.62" stroke="#000" stroke-width="0.88"/>
<line x1="39.1" y1="381.34" x2="40.3" y2="381.34" stroke="#000" stroke-width="0.88"/>
<text x="37.5" y="484.66" font-size="9" text-anchor="end" font-weight="bold" fill="#000" stroke="#000" stroke-width="0.22">0.00</text>
<text x="37.5" y="462.38" font-size="9" text-anchor="end" font-weight="bold" fill="#000" stroke="#000" stroke-width="0.22">0.05</text>
<text x="37.5" y="440.1" font-size="9" text-anchor="end" font-weight="bold" fill="#000" stroke="#000" stroke-width="0.22">0.10</text>
<text x="37.5" y="417.82" font-size="9" text-anchor="end" font-weight="bold" fill="#000" stroke="#000" stroke-width="0.22">0.15</text>
<text x="37.5" y="395.54" font-size="9" text-anchor="end" font-weight="bold" fill="#000" stroke="#000" stroke-width="0.22">0.20</text>
<text x="37.5" y="373.26" font-size="9" text-anchor="end" font-weight="bold" fill="#000" stroke="#000" stroke-width="0.22">0.25</text>
<text x="47.6" y="483.7" font-size="5.8" text-anchor="end" font-weight="bold" fill="#000" transform="rotate(-90 47.6 483.7)">Blank</text>
<text x="54.56" y="483.7" font-size="5.8" text-anchor="end" font-weight="bold" fill="#000" transform="rotate(-90 54.56 483.7)">OTC</text>
<text x="61.52" y="483.7" font-size="5.8" text-anchor="end" font-weight="bold" fill="#000" transform="rotate(-90 61.52 483.7)">Tetracycline+OTC</text>
<text x="68.48" y="483.7" font-size="5.8" text-anchor="end" font-weight="bold" fill="#000" transform="rotate(-90 68.48 483.7)">Chlortetracycline+OTC</text>
<text x="75.44" y="483.7" font-size="5.8" text-anchor="end" font-weight="bold" fill="#000" transform="rotate(-90 75.44 483.7)">Doxycycline+OTC</text>
<text x="82.4" y="483.7" font-size="5.8" text-anchor="end" font-weight="bold" fill="#000" transform="rotate(-90 82.4 483.7)">Metacycline+OTC</text>
<text x="89.36" y="483.7" font-size="5.8" text-anchor="end" font-weight="bold" fill="#000" transform="rotate(-90 89.36 483.7)">Minocycline+OTC</text>
<text x="96.32" y="483.7" font-size="5.8" text-anchor="end" font-weight="bold" fill="#000" transform="rotate(-90 96.32 483.7)">Penicillin+OTC</text>
<text x="103.28" y="483.7" font-size="5.8" text-anchor="end" font-weight="bold" fill="#000" transform="rotate(-90 103.28 483.7)">Azithromycin+OTC</text>
<text x="110.24" y="483.7" font-size="5.8" text-anchor="end" font-weight="bold" fill="#000" transform="rotate(-90 110.24 483.7)">Streptomycin+OTC</text>
<text x="117.2" y="483.7" font-size="5.8" text-anchor="end" font-weight="bold" fill="#000" transform="rotate(-90 117.2 483.7)">Ciprofloxacin+OTC</text>
<text x="124.16" y="483.7" font-size="5.8" text-anchor="end" font-weight="bold" fill="#000" transform="rotate(-90 124.16 483.7)">Norfloxacin+OTC</text>
<text x="131.12" y="483.7" font-size="5.8" text-anchor="end" font-weight="bold" fill="#000" transform="rotate(-90 131.12 483.7)">Citric Acid+OTC</text>
<text x="138.08" y="483.7" font-size="5.8" text-anchor="end" font-weight="bold" fill="#000" transform="rotate(-90 138.08 483.7)">Nicotinic Acid+OTC</text>
<text x="145.04" y="483.7" font-size="5.8" text-anchor="end" font-weight="bold" fill="#000" transform="rotate(-90 145.04 483.7)">Glucose+OTC</text>
<text x="152" y="483.7" font-size="5.8" text-anchor="end" font-weight="bold" fill="#000" transform="rotate(-90 152 483.7)">D-Alanine+OTC</text>
<text x="158.96" y="483.7" font-size="5.8" text-anchor="end" font-weight="bold" fill="#000" transform="rotate(-90 158.96 483.7)">L-Cysteine+OTC</text>
<text x="165.92" y="483.7" font-size="5.8" text-anchor="end" font-weight="bold" fill="#000" transform="rotate(-90 165.92 483.7)">L-Glutamic+OTC</text>
<text x="172.88" y="483.7" font-size="5.8" text-anchor="end" font-weight="bold" fill="#000" transform="rotate(-90 172.88 483.7)">L-Leucine+OTC</text>
<text x="0" y="0" font-size="9.4" font-weight="bold" text-anchor="middle" transform="translate(15,416) rotate(-90)">F<tspan font-size="6.8" dy="2.2">617</tspan><tspan dy="-2.2">/F</tspan><tspan font-size="6.8" dy="2.2">438</tspan></text>
<text x="10.9" y="359.4" font-size="16.5" text-anchor="start" font-weight="bold" fill="#000" stroke="#000" stroke-width="0.22">(e)</text>
<rect x="230.80" y="481.44" width="3.40" height="2.36" fill="#68a0f8" stroke="#28324e" stroke-width="0.80"/>
<line x1="232.5" y1="480.64" x2="232.5" y2="481.92" stroke="#101830" stroke-width="0.8"/>
<line x1="231.5" y1="480.64" x2="233.5" y2="480.64" stroke="#101830" stroke-width="0.9"/>
<rect x="230.80" y="481.14" width="3.40" height="1.2" fill="#1a2440"/>
<rect x="237.57" y="380.19" width="3.40" height="103.61" fill="#68a0f8" stroke="#28324e" stroke-width="0.80"/>
<line x1="239.27" y1="377.99" x2="239.27" y2="381.51" stroke="#101830" stroke-width="0.8"/>
<line x1="238.27" y1="377.99" x2="240.27" y2="377.99" stroke="#101830" stroke-width="0.9"/>
<rect x="237.57" y="379.89" width="3.40" height="1.2" fill="#1a2440"/>
<rect x="244.34" y="391.04" width="3.40" height="92.76" fill="#68a0f8" stroke="#28324e" stroke-width="0.80"/>
<line x1="246.04" y1="389.74" x2="246.04" y2="391.82" stroke="#101830" stroke-width="0.8"/>
<line x1="245.04" y1="389.74" x2="247.04" y2="389.74" stroke="#101830" stroke-width="0.9"/>
<rect x="244.34" y="390.74" width="3.40" height="1.2" fill="#1a2440"/>
<rect x="251.11" y="390.59" width="3.40" height="93.21" fill="#68a0f8" stroke="#28324e" stroke-width="0.80"/>
<line x1="252.81" y1="389.29" x2="252.81" y2="391.37" stroke="#101830" stroke-width="0.8"/>
<line x1="251.81" y1="389.29" x2="253.81" y2="389.29" stroke="#101830" stroke-width="0.9"/>
<rect x="251.11" y="390.29" width="3.40" height="1.2" fill="#1a2440"/>
<rect x="257.88" y="386.52" width="3.40" height="97.28" fill="#68a0f8" stroke="#28324e" stroke-width="0.80"/>
<line x1="259.58" y1="385.12" x2="259.58" y2="387.36" stroke="#101830" stroke-width="0.8"/>
<line x1="258.58" y1="385.12" x2="260.58" y2="385.12" stroke="#101830" stroke-width="0.9"/>
<rect x="257.88" y="386.22" width="3.40" height="1.2" fill="#1a2440"/>
<rect x="264.65" y="390.59" width="3.40" height="93.21" fill="#68a0f8" stroke="#28324e" stroke-width="0.80"/>
<line x1="266.35" y1="389.29" x2="266.35" y2="391.37" stroke="#101830" stroke-width="0.8"/>
<line x1="265.35" y1="389.29" x2="267.35" y2="389.29" stroke="#101830" stroke-width="0.9"/>
<rect x="264.65" y="390.29" width="3.40" height="1.2" fill="#1a2440"/>
<rect x="271.42" y="390.59" width="3.40" height="93.21" fill="#68a0f8" stroke="#28324e" stroke-width="0.80"/>
<line x1="273.12" y1="389.29" x2="273.12" y2="391.37" stroke="#101830" stroke-width="0.8"/>
<line x1="272.12" y1="389.29" x2="274.12" y2="389.29" stroke="#101830" stroke-width="0.9"/>
<rect x="271.42" y="390.29" width="3.40" height="1.2" fill="#1a2440"/>
<rect x="278.19" y="392.85" width="3.40" height="90.95" fill="#68a0f8" stroke="#28324e" stroke-width="0.80"/>
<line x1="279.89" y1="391.55" x2="279.89" y2="393.63" stroke="#101830" stroke-width="0.8"/>
<line x1="278.89" y1="391.55" x2="280.89" y2="391.55" stroke="#101830" stroke-width="0.9"/>
<rect x="278.19" y="392.55" width="3.40" height="1.2" fill="#1a2440"/>
<rect x="284.96" y="389.23" width="3.40" height="94.57" fill="#68a0f8" stroke="#28324e" stroke-width="0.80"/>
<line x1="286.66" y1="387.83" x2="286.66" y2="390.07" stroke="#101830" stroke-width="0.8"/>
<line x1="285.66" y1="387.83" x2="287.66" y2="387.83" stroke="#101830" stroke-width="0.9"/>
<rect x="284.96" y="388.93" width="3.40" height="1.2" fill="#1a2440"/>
<rect x="291.73" y="384.71" width="3.40" height="99.09" fill="#68a0f8" stroke="#28324e" stroke-width="0.80"/>
<line x1="293.43" y1="383.11" x2="293.43" y2="385.67" stroke="#101830" stroke-width="0.8"/>
<line x1="292.43" y1="383.11" x2="294.43" y2="383.11" stroke="#101830" stroke-width="0.9"/>
<rect x="291.73" y="384.41" width="3.40" height="1.2" fill="#1a2440"/>
<rect x="298.50" y="395.11" width="3.40" height="88.69" fill="#68a0f8" stroke="#28324e" stroke-width="0.80"/>
<line x1="300.2" y1="393.61" x2="300.2" y2="396.01" stroke="#101830" stroke-width="0.8"/>
<line x1="299.2" y1="393.61" x2="301.2" y2="393.61" stroke="#101830" stroke-width="0.9"/>
<rect x="298.50" y="394.81" width="3.40" height="1.2" fill="#1a2440"/>
<rect x="305.27" y="383.36" width="3.40" height="100.44" fill="#68a0f8" stroke="#28324e" stroke-width="0.80"/>
<line x1="306.97" y1="381.76" x2="306.97" y2="384.32" stroke="#101830" stroke-width="0.8"/>
<line x1="305.97" y1="381.76" x2="307.97" y2="381.76" stroke="#101830" stroke-width="0.9"/>
<rect x="305.27" y="383.06" width="3.40" height="1.2" fill="#1a2440"/>
<rect x="312.04" y="384.26" width="3.40" height="99.54" fill="#68a0f8" stroke="#28324e" stroke-width="0.80"/>
<line x1="313.74" y1="382.66" x2="313.74" y2="385.22" stroke="#101830" stroke-width="0.8"/>
<line x1="312.74" y1="382.66" x2="314.74" y2="382.66" stroke="#101830" stroke-width="0.9"/>
<rect x="312.04" y="383.96" width="3.40" height="1.2" fill="#1a2440"/>
<rect x="318.81" y="386.07" width="3.40" height="97.73" fill="#68a0f8" stroke="#28324e" stroke-width="0.80"/>
<line x1="320.51" y1="384.47" x2="320.51" y2="387.03" stroke="#101830" stroke-width="0.8"/>
<line x1="319.51" y1="384.47" x2="321.51" y2="384.47" stroke="#101830" stroke-width="0.9"/>
<rect x="318.81" y="385.77" width="3.40" height="1.2" fill="#1a2440"/>
<rect x="325.58" y="378.84" width="3.40" height="104.96" fill="#68a0f8" stroke="#28324e" stroke-width="0.80"/>
<line x1="327.28" y1="376.94" x2="327.28" y2="379.98" stroke="#101830" stroke-width="0.8"/>
<line x1="326.28" y1="376.94" x2="328.28" y2="376.94" stroke="#101830" stroke-width="0.9"/>
<rect x="325.58" y="378.54" width="3.40" height="1.2" fill="#1a2440"/>
<rect x="332.35" y="383.36" width="3.40" height="100.44" fill="#68a0f8" stroke="#28324e" stroke-width="0.80"/>
<line x1="334.05" y1="381.76" x2="334.05" y2="384.32" stroke="#101830" stroke-width="0.8"/>
<line x1="333.05" y1="381.76" x2="335.05" y2="381.76" stroke="#101830" stroke-width="0.9"/>
<rect x="332.35" y="383.06" width="3.40" height="1.2" fill="#1a2440"/>
<rect x="339.12" y="391.04" width="3.40" height="92.76" fill="#68a0f8" stroke="#28324e" stroke-width="0.80"/>
<line x1="340.82" y1="389.64" x2="340.82" y2="391.88" stroke="#101830" stroke-width="0.8"/>
<line x1="339.82" y1="389.64" x2="341.82" y2="389.64" stroke="#101830" stroke-width="0.9"/>
<rect x="339.12" y="390.74" width="3.40" height="1.2" fill="#1a2440"/>
<rect x="345.89" y="386.52" width="3.40" height="97.28" fill="#68a0f8" stroke="#28324e" stroke-width="0.80"/>
<line x1="347.59" y1="385.02" x2="347.59" y2="387.42" stroke="#101830" stroke-width="0.8"/>
<line x1="346.59" y1="385.02" x2="348.59" y2="385.02" stroke="#101830" stroke-width="0.9"/>
<rect x="345.89" y="386.22" width="3.40" height="1.2" fill="#1a2440"/>
<rect x="352.66" y="386.52" width="3.40" height="97.28" fill="#68a0f8" stroke="#28324e" stroke-width="0.80"/>
<line x1="354.36" y1="385.02" x2="354.36" y2="387.42" stroke="#101830" stroke-width="0.8"/>
<line x1="353.36" y1="385.02" x2="355.36" y2="385.02" stroke="#101830" stroke-width="0.9"/>
<rect x="352.66" y="386.22" width="3.40" height="1.2" fill="#1a2440"/>
<rect x="359.43" y="394.20" width="3.40" height="89.60" fill="#68a0f8" stroke="#28324e" stroke-width="0.80"/>
<line x1="361.13" y1="392.8" x2="361.13" y2="395.04" stroke="#101830" stroke-width="0.8"/>
<line x1="360.13" y1="392.8" x2="362.13" y2="392.8" stroke="#101830" stroke-width="0.9"/>
<rect x="359.43" y="393.90" width="3.40" height="1.2" fill="#1a2440"/>
<rect x="228" y="359.4" width="138.1" height="124.4" fill="none" stroke="#000" stroke-width="1.1"/>
<line x1="226" y1="483.7" x2="228" y2="483.7" stroke="#000" stroke-width="1.1"/>
<line x1="226" y1="461.1" x2="228" y2="461.1" stroke="#000" stroke-width="1.1"/>
<line x1="226" y1="438.5" x2="228" y2="438.5" stroke="#000" stroke-width="1.1"/>
<line x1="226" y1="415.9" x2="228" y2="415.9" stroke="#000" stroke-width="1.1"/>
<line x1="226" y1="393.3" x2="228" y2="393.3" stroke="#000" stroke-width="1.1"/>
<line x1="226" y1="370.7" x2="228" y2="370.7" stroke="#000" stroke-width="1.1"/>
<line x1="226.8" y1="472.4" x2="228" y2="472.4" stroke="#000" stroke-width="0.88"/>
<line x1="226.8" y1="449.8" x2="228" y2="449.8" stroke="#000" stroke-width="0.88"/>
<line x1="226.8" y1="427.2" x2="228" y2="427.2" stroke="#000" stroke-width="0.88"/>
<line x1="226.8" y1="404.6" x2="228" y2="404.6" stroke="#000" stroke-width="0.88"/>
<line x1="226.8" y1="382" x2="228" y2="382" stroke="#000" stroke-width="0.88"/>
<text x="225.2" y="486.76" font-size="9" text-anchor="end" font-weight="bold" fill="#000" stroke="#000" stroke-width="0.22">0.00</text>
<text x="225.2" y="464.16" font-size="9" text-anchor="end" font-weight="bold" fill="#000" stroke="#000" stroke-width="0.22">0.05</text>
<text x="225.2" y="441.56" font-size="9" text-anchor="end" font-weight="bold" fill="#000" stroke="#000" stroke-width="0.22">0.10</text>
<text x="225.2" y="418.96" font-size="9" text-anchor="end" font-weight="bold" fill="#000" stroke="#000" stroke-width="0.22">0.15</text>
<text x="225.2" y="396.36" font-size="9" text-anchor="end" font-weight="bold" fill="#000" stroke="#000" stroke-width="0.22">0.20</text>
<text x="225.2" y="373.76" font-size="9" text-anchor="end" font-weight="bold" fill="#000" stroke="#000" stroke-width="0.22">0.25</text>
<text x="234.5" y="486" font-size="5.8" text-anchor="end" font-weight="bold" fill="#000" transform="rotate(-90 234.5 486)">Blank</text>
<text x="241.27" y="486" font-size="5.8" text-anchor="end" font-weight="bold" fill="#000" transform="rotate(-90 241.27 486)">Ca<tspan font-size="3.8" dy="-1.8">2+</tspan><tspan dy="1.8">+OTC</tspan></text>
<text x="248.04" y="486" font-size="5.8" text-anchor="end" font-weight="bold" fill="#000" transform="rotate(-90 248.04 486)">Cu<tspan font-size="3.8" dy="-1.8">2+</tspan><tspan dy="1.8">+OTC</tspan></text>
<text x="254.81" y="486" font-size="5.8" text-anchor="end" font-weight="bold" fill="#000" transform="rotate(-90 254.81 486)">K<tspan font-size="3.8" dy="-1.8">+</tspan><tspan dy="1.8">+OTC</tspan></text>
<text x="261.58" y="486" font-size="5.8" text-anchor="end" font-weight="bold" fill="#000" transform="rotate(-90 261.58 486)">Fe<tspan font-size="3.8" dy="-1.8">3+</tspan><tspan dy="1.8">+OTC</tspan></text>
<text x="268.35" y="486" font-size="5.8" text-anchor="end" font-weight="bold" fill="#000" transform="rotate(-90 268.35 486)">Mg<tspan font-size="3.8" dy="-1.8">2+</tspan><tspan dy="1.8">+OTC</tspan></text>
<text x="275.12" y="486" font-size="5.8" text-anchor="end" font-weight="bold" fill="#000" transform="rotate(-90 275.12 486)">Al<tspan font-size="3.8" dy="-1.8">3+</tspan><tspan dy="1.8">+OTC</tspan></text>
<text x="281.89" y="486" font-size="5.8" text-anchor="end" font-weight="bold" fill="#000" transform="rotate(-90 281.89 486)">Co<tspan font-size="3.8" dy="-1.8">2+</tspan><tspan dy="1.8">+OTC</tspan></text>
<text x="288.66" y="486" font-size="5.8" text-anchor="end" font-weight="bold" fill="#000" transform="rotate(-90 288.66 486)">Zn<tspan font-size="3.8" dy="-1.8">2+</tspan><tspan dy="1.8">+OTC</tspan></text>
<text x="295.43" y="486" font-size="5.8" text-anchor="end" font-weight="bold" fill="#000" transform="rotate(-90 295.43 486)">Cd<tspan font-size="3.8" dy="-1.8">2+</tspan><tspan dy="1.8">+OTC</tspan></text>
<text x="302.2" y="486" font-size="5.8" text-anchor="end" font-weight="bold" fill="#000" transform="rotate(-90 302.2 486)">Na<tspan font-size="3.8" dy="-1.8">+</tspan><tspan dy="1.8">+OTC</tspan></text>
<text x="308.97" y="486" font-size="5.8" text-anchor="end" font-weight="bold" fill="#000" transform="rotate(-90 308.97 486)">SO<tspan font-size="3.8" dy="1.2">4</tspan><tspan font-size="3.8" dy="-3">2-</tspan><tspan dy="1.8">+OTC</tspan></text>
<text x="315.74" y="486" font-size="5.8" text-anchor="end" font-weight="bold" fill="#000" transform="rotate(-90 315.74 486)">NO<tspan font-size="3.8" dy="1.2">3</tspan><tspan font-size="3.8" dy="-3">-</tspan><tspan dy="1.8">+OTC</tspan></text>
<text x="322.51" y="486" font-size="5.8" text-anchor="end" font-weight="bold" fill="#000" transform="rotate(-90 322.51 486)">CO<tspan font-size="3.8" dy="1.2">3</tspan><tspan font-size="3.8" dy="-3">2-</tspan><tspan dy="1.8">+OTC</tspan></text>
<text x="329.28" y="486" font-size="5.8" text-anchor="end" font-weight="bold" fill="#000" transform="rotate(-90 329.28 486)">NO<tspan font-size="3.8" dy="1.2">2</tspan><tspan font-size="3.8" dy="-3">-</tspan><tspan dy="1.8">+OTC</tspan></text>
<text x="336.05" y="486" font-size="5.8" text-anchor="end" font-weight="bold" fill="#000" transform="rotate(-90 336.05 486)">CH<tspan font-size="3.8" dy="1.2">3</tspan><tspan dy="-1.2">COO</tspan><tspan font-size="3.8" dy="-1.8">-</tspan><tspan dy="1.8">+OTC</tspan></text>
<text x="342.82" y="486" font-size="5.8" text-anchor="end" font-weight="bold" fill="#000" transform="rotate(-90 342.82 486)">Cl<tspan font-size="3.8" dy="-1.8">-</tspan><tspan dy="1.8">+OTC</tspan></text>
<text x="349.59" y="486" font-size="5.8" text-anchor="end" font-weight="bold" fill="#000" transform="rotate(-90 349.59 486)">F<tspan font-size="3.8" dy="-1.8">-</tspan><tspan dy="1.8">+OTC</tspan></text>
<text x="356.36" y="486" font-size="5.8" text-anchor="end" font-weight="bold" fill="#000" transform="rotate(-90 356.36 486)">Br<tspan font-size="3.8" dy="-1.8">-</tspan><tspan dy="1.8">+OTC</tspan></text>
<text x="363.13" y="486" font-size="5.8" text-anchor="end" font-weight="bold" fill="#000" transform="rotate(-90 363.13 486)">I<tspan font-size="3.8" dy="-1.8">-</tspan><tspan dy="1.8">+OTC</tspan></text>
<text x="0" y="0" font-size="9.8" font-weight="bold" text-anchor="middle" transform="translate(201.6,421.8) rotate(-90)">F<tspan font-size="7" dy="2.2">617</tspan><tspan dy="-2.2">/F</tspan><tspan font-size="7" dy="2.2">438</tspan></text>
<text x="195.2" y="362.6" font-size="16" text-anchor="start" font-weight="normal" fill="#000" stroke="#000" stroke-width="0.22">(f)</text>
</svg>
</body></html>
